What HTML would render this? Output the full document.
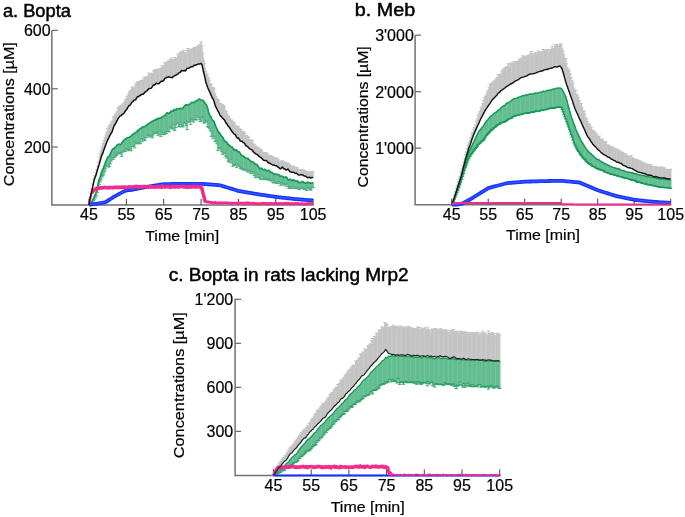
<!DOCTYPE html>
<html><head><meta charset="utf-8"><style>
html,body{margin:0;padding:0;background:#fff;width:685px;height:517px;overflow:hidden}
svg{display:block;will-change:transform}
text{fill:#000}
</style></head><body>
<svg width="685" height="517" viewBox="0 0 685 517" font-family='"Liberation Sans", sans-serif'>
<rect width="685" height="517" fill="#fff"/>
<path d="M51.85,30.4 L51.85,204.9 L313.5,204.9" fill="none" stroke="#727272" stroke-width="1.5"/>
<line x1="51.85" y1="30.4" x2="57.85" y2="30.4" stroke="#727272" stroke-width="1.3"/>
<line x1="51.85" y1="88.73" x2="57.85" y2="88.73" stroke="#727272" stroke-width="1.3"/>
<line x1="51.85" y1="147.07" x2="57.85" y2="147.07" stroke="#727272" stroke-width="1.3"/>
<text x="50.6" y="36.3" text-anchor="end" font-size="16" stroke="#000" stroke-width="0.2">600</text>
<text x="50.6" y="94.63" text-anchor="end" font-size="16" stroke="#000" stroke-width="0.2">400</text>
<text x="50.6" y="152.97" text-anchor="end" font-size="16" stroke="#000" stroke-width="0.2">200</text>
<text x="89" y="220.3" text-anchor="middle" font-size="16" stroke="#000" stroke-width="0.2">45</text>
<text x="126.35" y="220.3" text-anchor="middle" font-size="16" stroke="#000" stroke-width="0.2">55</text>
<text x="163.7" y="220.3" text-anchor="middle" font-size="16" stroke="#000" stroke-width="0.2">65</text>
<text x="201.05" y="220.3" text-anchor="middle" font-size="16" stroke="#000" stroke-width="0.2">75</text>
<text x="238.4" y="220.3" text-anchor="middle" font-size="16" stroke="#000" stroke-width="0.2">85</text>
<text x="275.75" y="220.3" text-anchor="middle" font-size="16" stroke="#000" stroke-width="0.2">95</text>
<text x="313.1" y="220.3" text-anchor="middle" font-size="16" stroke="#000" stroke-width="0.2">105</text>
<path d="M89,205 89.93,198.92 90.87,194.97 91.8,191.15 92.73,186.94 93.67,182.19 94.6,178.51 95.54,176.42 96.47,173.47 97.4,169.87 98.34,167.08 99.27,164.14 100.2,160.81 101.14,157.39 102.07,154.57 103.01,152.61 103.94,149.64 104.87,146.98 105.81,144.7 106.74,142.22 107.67,139.96 108.61,138.07 109.54,136.07 110.48,134.24 111.41,133.06 112.34,131.1 113.28,127.93 114.21,125.5 115.14,124.31 116.08,122.73 117.01,120.54 117.95,118.83 118.88,117.59 119.81,116.11 120.75,115.86 121.68,115.12 122.62,114 123.55,113.77 124.48,112.42 125.42,110.76 126.35,109.7 127.28,108.45 128.22,106.69 129.15,105.49 130.09,105.31 131.02,103.47 131.95,102.13 132.89,101.73 133.82,100.17 134.75,100.04 135.69,99.75 136.62,97.67 137.56,96.64 138.49,96.64 139.42,95.85 140.36,95.26 141.29,94.75 142.22,94.22 143.16,94.29 144.09,93.18 145.03,92.07 145.96,91.52 146.89,90.83 147.83,89.86 148.76,88.87 149.69,88.49 150.63,88.26 151.56,87.98 152.5,86.33 153.43,84.91 154.36,85.13 155.3,84.15 156.23,83.23 157.16,83.52 158.1,83.73 159.03,83.55 159.97,82.44 160.9,81.54 161.83,81.06 162.77,81.26 163.7,80.46 164.63,78.73 165.57,78.07 166.5,77.5 167.44,77.18 168.37,76.86 169.3,77.02 170.24,77.31 171.17,77.62 172.1,77.71 173.04,76.77 173.97,76.22 174.91,75.51 175.84,75.1 176.77,74.73 177.71,74.1 178.64,73.15 179.57,72.61 180.51,72 181.44,70.6 182.38,70.69 183.31,70.67 184.24,70.36 185.18,71.07 186.11,70.11 187.04,68.39 187.98,68.24 188.91,68.16 189.84,67.53 190.78,66.84 191.71,66.83 192.65,66.78 193.58,65.77 194.51,65.22 195.45,65.35 196.38,64.64 197.31,64.4 198.25,64.06 199.18,63.9 200.12,63.95 201.05,63.42 201.98,64.69 202.92,69.1 203.85,73.25 204.78,76.81 205.72,81.7 206.65,84.55 207.59,87.2 208.52,89.44 209.45,91.31 210.39,93.59 211.32,95.62 212.25,97.97 213.19,99.02 214.12,101.53 215.06,104.99 215.99,107.12 216.92,108.99 217.86,110.97 218.79,112.44 219.72,114.52 220.66,116.14 221.59,117.03 222.53,118.15 223.46,119.02 224.39,119.87 225.33,121.68 226.26,123.28 227.19,124.46 228.13,126.06 229.06,127.02 230,128.39 230.93,129.8 231.86,131.24 232.8,132.55 233.73,133.61 234.66,134.3 235.6,135.12 236.53,137.29 237.47,138.26 238.4,138.05 239.33,139.32 240.27,141.12 241.2,141.2 242.13,141.33 243.07,142.44 244,142.63 244.94,144.03 245.87,145.59 246.8,146.19 247.74,146.76 248.67,147.74 249.6,148.63 250.54,149.19 251.47,149.75 252.41,150.09 253.34,151.83 254.27,152.87 255.21,153.19 256.14,154.11 257.07,154.55 258.01,155.09 258.94,156.24 259.88,157.04 260.81,157.41 261.74,158.21 262.68,159.37 263.61,160.23 264.54,160.49 265.48,160.55 266.41,160.38 267.35,161.51 268.28,162.94 269.21,162.99 270.15,163.28 271.08,164.09 272.01,164.63 272.95,165.1 273.88,164.99 274.82,165.62 275.75,165.68 276.68,165.8 277.62,166.87 278.55,167.25 279.49,168.19 280.42,168.82 281.35,167.99 282.29,167.09 283.22,168.24 284.15,168.88 285.09,168.92 286.02,170.04 286.95,169.77 287.89,168.98 288.82,170.16 289.76,171.47 290.69,171.73 291.62,172.18 292.56,172.38 293.49,172.18 294.42,172.85 295.36,173.4 296.29,173.09 297.23,173.94 298.16,174.81 299.09,175 300.03,174.84 300.96,174.62 301.89,174.83 302.83,174.95 303.76,175.66 304.7,175.94 305.63,176.24 306.56,176.92 307.5,177.82 308.43,177.37 309.37,177.15 310.3,177.9 311.23,177.78 312.17,177.47 313.1,177.53 313.1,171.8 312.17,171.74 311.23,172.37 310.3,171.74 309.37,172.45 308.43,172.49 307.5,172.9 306.56,171.51 305.63,171.29 304.7,170.52 303.76,170.73 302.83,170.05 301.89,169.45 300.96,169.74 300.03,169.74 299.09,169.95 298.16,169.84 297.23,167.85 296.29,167.38 295.36,168.32 294.42,167.43 293.49,166.01 292.56,167.15 291.62,166.21 290.69,166.07 289.76,164.98 288.82,164.01 287.89,162.84 286.95,163.99 286.02,163.72 285.09,162.21 284.15,162.42 283.22,161.33 282.29,160.7 281.35,161.24 280.42,161.67 279.49,161.52 278.55,159.34 277.62,159.86 276.68,157.95 275.75,158.67 274.82,158.32 273.88,157.23 272.95,158.1 272.01,156.22 271.08,156.15 270.15,156 269.21,155.57 268.28,155.16 267.35,154.07 266.41,152.86 265.48,152.84 264.54,153.06 263.61,152.88 262.68,152.33 261.74,150.46 260.81,149.29 259.88,150.16 258.94,148.21 258.01,147.78 257.07,147.93 256.14,146.53 255.21,145.99 254.27,144.33 253.34,144.02 252.41,140.46 251.47,141.93 250.54,140.58 249.6,139.78 248.67,137.51 247.74,136.81 246.8,135.54 245.87,136.98 244.94,133.57 244,131.74 243.07,132.64 242.13,131.58 241.2,130.25 240.27,129.45 239.33,128.64 238.4,126.75 237.47,127.13 236.53,126.93 235.6,125.53 234.66,122.69 233.73,122.66 232.8,121.99 231.86,120.01 230.93,120.29 230,118.81 229.06,116.76 228.13,115.83 227.19,113.82 226.26,111.75 225.33,110.48 224.39,106.93 223.46,105.74 222.53,104.68 221.59,105.58 220.66,103.69 219.72,103.31 218.79,100.59 217.86,99.24 216.92,98.39 215.99,96.39 215.06,93.64 214.12,88.72 213.19,87.52 212.25,87.49 211.32,84.85 210.39,83.78 209.45,80.17 208.52,77.47 207.59,74.91 206.65,73.89 205.72,71.23 204.78,63.37 203.85,60.45 202.92,53.03 201.98,45.88 201.05,41.93 200.12,44.54 199.18,45.71 198.25,45.98 197.31,46.93 196.38,47.51 195.45,47.46 194.51,47.42 193.58,48.44 192.65,48.8 191.71,49.78 190.78,50.18 189.84,50.93 188.91,49.14 187.98,48.52 187.04,50.42 186.11,53.85 185.18,53.84 184.24,52.61 183.31,50.21 182.38,52 181.44,52.29 180.51,52.13 179.57,53.33 178.64,56.4 177.71,54.67 176.77,58.34 175.84,58.94 174.91,57.5 173.97,59.98 173.04,59.59 172.1,60.72 171.17,58.02 170.24,59.72 169.3,61.5 168.37,60.96 167.44,61.81 166.5,63.23 165.57,63.67 164.63,62.61 163.7,65.44 162.77,67.7 161.83,65.92 160.9,68.17 159.97,68.47 159.03,70.93 158.1,69.42 157.16,69.54 156.23,69.25 155.3,70.34 154.36,70.07 153.43,70.77 152.5,73.23 151.56,74.12 150.63,74 149.69,73.79 148.76,73.08 147.83,76.29 146.89,77.2 145.96,77.38 145.03,77.34 144.09,77.52 143.16,80.1 142.22,80.31 141.29,80.92 140.36,81.01 139.42,81.76 138.49,82.05 137.56,81.87 136.62,82.92 135.69,84.49 134.75,88.09 133.82,86.93 132.89,88.73 131.95,87.3 131.02,90.24 130.09,91.97 129.15,91.61 128.22,94.28 127.28,96.46 126.35,98.88 125.42,99.59 124.48,101.93 123.55,103.47 122.62,105.87 121.68,105.02 120.75,105.59 119.81,106.77 118.88,107.02 117.95,108.13 117.01,111.91 116.08,113.23 115.14,114.82 114.21,116.56 113.28,117.01 112.34,121.11 111.41,121.88 110.48,124.07 109.54,124.92 108.61,126.83 107.67,128.82 106.74,131.99 105.81,134.92 104.87,137.5 103.94,140.45 103.01,143.23 102.07,146.87 101.14,150.29 100.2,153.64 99.27,157.27 98.34,162.11 97.4,166.48 96.47,170.05 95.54,172.93 94.6,175.62 93.67,179.04 92.73,183.87 91.8,188.81 90.87,193.23 89.93,198.01 89,205Z" fill="#c4c4c4"/>
<path d="M89 205V205M89.93 198.92V198.01M90.87 194.97V193.23M91.8 191.15V188.81M92.73 186.94V183.87M93.67 182.19V179.04M94.6 178.51V175.62M95.54 176.42V172.93M96.47 173.47V170.05M97.4 169.87V166.48M98.34 167.08V162.11M99.27 164.14V157.27M100.2 160.81V153.64M101.14 157.39V150.29M102.07 154.57V146.87M103.01 152.61V143.23M103.94 149.64V140.45M104.87 146.98V137.5M105.81 144.7V134.92M106.74 142.22V131.99M107.67 139.96V128.82M108.61 138.07V126.83M109.54 136.07V124.92M110.48 134.24V124.07M111.41 133.06V121.88M112.34 131.1V121.11M113.28 127.93V117.01M114.21 125.5V116.56M115.14 124.31V114.82M116.08 122.73V113.23M117.01 120.54V111.91M117.95 118.83V108.13M118.88 117.59V107.02M119.81 116.11V106.77M120.75 115.86V105.59M121.68 115.12V105.02M122.62 114V105.87M123.55 113.77V103.47M124.48 112.42V101.93M125.42 110.76V99.59M126.35 109.7V98.88M127.28 108.45V96.46M128.22 106.69V94.28M129.15 105.49V91.61M130.09 105.31V91.97M131.02 103.47V90.24M131.95 102.13V87.3M132.89 101.73V88.73M133.82 100.17V86.93M134.75 100.04V88.09M135.69 99.75V84.49M136.62 97.67V82.92M137.56 96.64V81.87M138.49 96.64V82.05M139.42 95.85V81.76M140.36 95.26V81.01M141.29 94.75V80.92M142.22 94.22V80.31M143.16 94.29V80.1M144.09 93.18V77.52M145.03 92.07V77.34M145.96 91.52V77.38M146.89 90.83V77.2M147.83 89.86V76.29M148.76 88.87V73.08M149.69 88.49V73.79M150.63 88.26V74M151.56 87.98V74.12M152.5 86.33V73.23M153.43 84.91V70.77M154.36 85.13V70.07M155.3 84.15V70.34M156.23 83.23V69.25M157.16 83.52V69.54M158.1 83.73V69.42M159.03 83.55V70.93M159.97 82.44V68.47M160.9 81.54V68.17M161.83 81.06V65.92M162.77 81.26V67.7M163.7 80.46V65.44M164.63 78.73V62.61M165.57 78.07V63.67M166.5 77.5V63.23M167.44 77.18V61.81M168.37 76.86V60.96M169.3 77.02V61.5M170.24 77.31V59.72M171.17 77.62V58.02M172.1 77.71V60.72M173.04 76.77V59.59M173.97 76.22V59.98M174.91 75.51V57.5M175.84 75.1V58.94M176.77 74.73V58.34M177.71 74.1V54.67M178.64 73.15V56.4M179.57 72.61V53.33M180.51 72V52.13M181.44 70.6V52.29M182.38 70.69V52M183.31 70.67V50.21M184.24 70.36V52.61M185.18 71.07V53.84M186.11 70.11V53.85M187.04 68.39V50.42M187.98 68.24V48.52M188.91 68.16V49.14M189.84 67.53V50.93M190.78 66.84V50.18M191.71 66.83V49.78M192.65 66.78V48.8M193.58 65.77V48.44M194.51 65.22V47.42M195.45 65.35V47.46M196.38 64.64V47.51M197.31 64.4V46.93M198.25 64.06V45.98M199.18 63.9V45.71M200.12 63.95V44.54M201.05 63.42V41.93M201.98 64.69V45.88M202.92 69.1V53.03M203.85 73.25V60.45M204.78 76.81V63.37M205.72 81.7V71.23M206.65 84.55V73.89M207.59 87.2V74.91M208.52 89.44V77.47M209.45 91.31V80.17M210.39 93.59V83.78M211.32 95.62V84.85M212.25 97.97V87.49M213.19 99.02V87.52M214.12 101.53V88.72M215.06 104.99V93.64M215.99 107.12V96.39M216.92 108.99V98.39M217.86 110.97V99.24M218.79 112.44V100.59M219.72 114.52V103.31M220.66 116.14V103.69M221.59 117.03V105.58M222.53 118.15V104.68M223.46 119.02V105.74M224.39 119.87V106.93M225.33 121.68V110.48M226.26 123.28V111.75M227.19 124.46V113.82M228.13 126.06V115.83M229.06 127.02V116.76M230 128.39V118.81M230.93 129.8V120.29M231.86 131.24V120.01M232.8 132.55V121.99M233.73 133.61V122.66M234.66 134.3V122.69M235.6 135.12V125.53M236.53 137.29V126.93M237.47 138.26V127.13M238.4 138.05V126.75M239.33 139.32V128.64M240.27 141.12V129.45M241.2 141.2V130.25M242.13 141.33V131.58M243.07 142.44V132.64M244 142.63V131.74M244.94 144.03V133.57M245.87 145.59V136.98M246.8 146.19V135.54M247.74 146.76V136.81M248.67 147.74V137.51M249.6 148.63V139.78M250.54 149.19V140.58M251.47 149.75V141.93M252.41 150.09V140.46M253.34 151.83V144.02M254.27 152.87V144.33M255.21 153.19V145.99M256.14 154.11V146.53M257.07 154.55V147.93M258.01 155.09V147.78M258.94 156.24V148.21M259.88 157.04V150.16M260.81 157.41V149.29M261.74 158.21V150.46M262.68 159.37V152.33M263.61 160.23V152.88M264.54 160.49V153.06M265.48 160.55V152.84M266.41 160.38V152.86M267.35 161.51V154.07M268.28 162.94V155.16M269.21 162.99V155.57M270.15 163.28V156M271.08 164.09V156.15M272.01 164.63V156.22M272.95 165.1V158.1M273.88 164.99V157.23M274.82 165.62V158.32M275.75 165.68V158.67M276.68 165.8V157.95M277.62 166.87V159.86M278.55 167.25V159.34M279.49 168.19V161.52M280.42 168.82V161.67M281.35 167.99V161.24M282.29 167.09V160.7M283.22 168.24V161.33M284.15 168.88V162.42M285.09 168.92V162.21M286.02 170.04V163.72M286.95 169.77V163.99M287.89 168.98V162.84M288.82 170.16V164.01M289.76 171.47V164.98M290.69 171.73V166.07M291.62 172.18V166.21M292.56 172.38V167.15M293.49 172.18V166.01M294.42 172.85V167.43M295.36 173.4V168.32M296.29 173.09V167.38M297.23 173.94V167.85M298.16 174.81V169.84M299.09 175V169.95M300.03 174.84V169.74M300.96 174.62V169.74M301.89 174.83V169.45M302.83 174.95V170.05M303.76 175.66V170.73M304.7 175.94V170.52M305.63 176.24V171.29M306.56 176.92V171.51M307.5 177.82V172.9M308.43 177.37V172.49M309.37 177.15V172.45M310.3 177.9V171.74M311.23 177.78V172.37M312.17 177.47V171.74M313.1 177.53V171.8" stroke="#c4c4c4" stroke-width="1.0" fill="none"/>
<path d="M94.12 183.19V178.04M98.79 168.08V161.11M103.46 153.61V142.23M108.12 140.96V127.82M112.79 132.1V120.11M117.46 121.54V110.91M122.13 116.12V104.02M126.8 110.7V97.88M131.47 104.47V89.24M136.14 100.75V83.49M140.81 96.26V80.01M145.47 93.07V76.34M150.14 89.49V72.79M154.81 86.13V69.07M159.48 84.55V69.93M164.15 81.46V64.44M168.82 77.86V59.96M173.49 77.77V58.59M178.16 75.1V53.67M182.82 71.69V51M187.49 69.39V49.42M192.16 67.83V48.78M196.83 65.64V46.51M201.5 64.42V40.93M206.17 82.7V70.23M210.84 94.59V82.78M215.51 105.99V92.64M220.17 115.52V102.31M224.84 120.87V105.93M229.51 128.02V115.76M234.18 134.61V121.66M238.85 139.05V125.75M243.52 143.44V131.64M248.19 147.76V135.81M252.86 151.09V139.46M257.52 155.55V146.93M262.19 159.21V149.46M266.86 161.38V151.86M271.53 165.09V155.15M276.2 166.68V157.67M280.87 169.82V160.67M285.54 169.92V161.21M290.21 172.47V163.98M294.87 173.85V166.43M299.54 176V168.95M304.21 176.66V169.73M308.88 178.37V171.49M313.55 178.53V170.8" stroke="#cecece" stroke-width="0.7" fill="none"/>
<path d="M87.4 205h3.2M88.33 198.01h3.2M89.27 193.23h3.2M90.2 188.81h3.2M91.14 183.87h3.2M92.07 179.04h3.2M93 175.62h3.2M93.94 172.93h3.2M94.87 170.05h3.2M95.8 166.48h3.2M96.74 162.11h3.2M97.67 157.27h3.2M98.61 153.64h3.2M99.54 150.29h3.2M100.47 146.87h3.2M101.41 143.23h3.2M102.34 140.45h3.2M103.27 137.5h3.2M104.21 134.92h3.2M105.14 131.99h3.2M106.08 128.82h3.2M107.01 126.83h3.2M107.94 124.92h3.2M108.88 124.07h3.2M109.81 121.88h3.2M110.74 121.11h3.2M111.68 117.01h3.2M112.61 116.56h3.2M113.55 114.82h3.2M114.48 113.23h3.2M115.41 111.91h3.2M116.35 108.13h3.2M117.28 107.02h3.2M118.21 106.77h3.2M119.15 105.59h3.2M120.08 105.02h3.2M121.02 105.87h3.2M121.95 103.47h3.2M122.88 101.93h3.2M123.82 99.59h3.2M124.75 98.88h3.2M125.68 96.46h3.2M126.62 94.28h3.2M127.55 91.61h3.2M128.49 91.97h3.2M129.42 90.24h3.2M130.35 87.3h3.2M131.29 88.73h3.2M132.22 86.93h3.2M133.15 88.09h3.2M134.09 84.49h3.2M135.02 82.92h3.2M135.96 81.87h3.2M136.89 82.05h3.2M137.82 81.76h3.2M138.76 81.01h3.2M139.69 80.92h3.2M140.62 80.31h3.2M141.56 80.1h3.2M142.49 77.52h3.2M143.43 77.34h3.2M144.36 77.38h3.2M145.29 77.2h3.2M146.23 76.29h3.2M147.16 73.08h3.2M148.09 73.79h3.2M149.03 74h3.2M149.96 74.12h3.2M150.9 73.23h3.2M151.83 70.77h3.2M152.76 70.07h3.2M153.7 70.34h3.2M154.63 69.25h3.2M155.56 69.54h3.2M156.5 69.42h3.2M157.43 70.93h3.2M158.37 68.47h3.2M159.3 68.17h3.2M160.23 65.92h3.2M161.17 67.7h3.2M162.1 65.44h3.2M163.03 62.61h3.2M163.97 63.67h3.2M164.9 63.23h3.2M165.84 61.81h3.2M166.77 60.96h3.2M167.7 61.5h3.2M168.64 59.72h3.2M169.57 58.02h3.2M170.5 60.72h3.2M171.44 59.59h3.2M172.37 59.98h3.2M173.31 57.5h3.2M174.24 58.94h3.2M175.17 58.34h3.2M176.11 54.67h3.2M177.04 56.4h3.2M177.97 53.33h3.2M178.91 52.13h3.2M179.84 52.29h3.2M180.78 52h3.2M181.71 50.21h3.2M182.64 52.61h3.2M183.58 53.84h3.2M184.51 53.85h3.2M185.44 50.42h3.2M186.38 48.52h3.2M187.31 49.14h3.2M188.25 50.93h3.2M189.18 50.18h3.2M190.11 49.78h3.2M191.05 48.8h3.2M191.98 48.44h3.2M192.91 47.42h3.2M193.85 47.46h3.2M194.78 47.51h3.2M195.72 46.93h3.2M196.65 45.98h3.2M197.58 45.71h3.2M198.52 44.54h3.2M199.45 41.93h3.2M200.38 45.88h3.2M201.32 53.03h3.2M202.25 60.45h3.2M203.19 63.37h3.2M204.12 71.23h3.2M205.05 73.89h3.2M205.99 74.91h3.2M206.92 77.47h3.2M207.85 80.17h3.2M208.79 83.78h3.2M209.72 84.85h3.2M210.66 87.49h3.2M211.59 87.52h3.2M212.52 88.72h3.2M213.46 93.64h3.2M214.39 96.39h3.2M215.32 98.39h3.2M216.26 99.24h3.2M217.19 100.59h3.2M218.12 103.31h3.2M219.06 103.69h3.2M219.99 105.58h3.2M220.93 104.68h3.2M221.86 105.74h3.2M222.79 106.93h3.2M223.73 110.48h3.2M224.66 111.75h3.2M225.59 113.82h3.2M226.53 115.83h3.2M227.46 116.76h3.2M228.4 118.81h3.2M229.33 120.29h3.2M230.26 120.01h3.2M231.2 121.99h3.2M232.13 122.66h3.2M233.06 122.69h3.2M234 125.53h3.2M234.93 126.93h3.2M235.87 127.13h3.2M236.8 126.75h3.2M237.73 128.64h3.2M238.67 129.45h3.2M239.6 130.25h3.2M240.53 131.58h3.2M241.47 132.64h3.2M242.4 131.74h3.2M243.34 133.57h3.2M244.27 136.98h3.2M245.2 135.54h3.2M246.14 136.81h3.2M247.07 137.51h3.2M248 139.78h3.2M248.94 140.58h3.2M249.87 141.93h3.2M250.81 140.46h3.2M251.74 144.02h3.2M252.67 144.33h3.2M253.61 145.99h3.2M254.54 146.53h3.2M255.47 147.93h3.2M256.41 147.78h3.2M257.34 148.21h3.2M258.28 150.16h3.2M259.21 149.29h3.2M260.14 150.46h3.2M261.08 152.33h3.2M262.01 152.88h3.2M262.94 153.06h3.2M263.88 152.84h3.2M264.81 152.86h3.2M265.75 154.07h3.2M266.68 155.16h3.2M267.61 155.57h3.2M268.55 156h3.2M269.48 156.15h3.2M270.41 156.22h3.2M271.35 158.1h3.2M272.28 157.23h3.2M273.22 158.32h3.2M274.15 158.67h3.2M275.08 157.95h3.2M276.02 159.86h3.2M276.95 159.34h3.2M277.88 161.52h3.2M278.82 161.67h3.2M279.75 161.24h3.2M280.69 160.7h3.2M281.62 161.33h3.2M282.55 162.42h3.2M283.49 162.21h3.2M284.42 163.72h3.2M285.35 163.99h3.2M286.29 162.84h3.2M287.22 164.01h3.2M288.16 164.98h3.2M289.09 166.07h3.2M290.02 166.21h3.2M290.96 167.15h3.2M291.89 166.01h3.2M292.82 167.43h3.2M293.76 168.32h3.2M294.69 167.38h3.2M295.63 167.85h3.2M296.56 169.84h3.2M297.49 169.95h3.2M298.43 169.74h3.2M299.36 169.74h3.2M300.29 169.45h3.2M301.23 170.05h3.2M302.16 170.73h3.2M303.1 170.52h3.2M304.03 171.29h3.2M304.96 171.51h3.2M305.9 172.9h3.2M306.83 172.49h3.2M307.76 172.45h3.2M308.7 171.74h3.2M309.63 172.37h3.2M310.57 171.74h3.2M311.5 171.8h3.2" stroke="#c4c4c4" stroke-width="1" fill="none"/>
<path d="M89,205.06 89.93,204.53 90.87,204.28 91.8,202.59 92.73,199.74 93.67,198.09 94.6,195.94 95.54,193.91 96.47,191.74 97.4,187.61 98.34,182.55 99.27,179.06 100.2,177.21 101.14,173.56 102.07,170.73 103.01,168.97 103.94,166.75 104.87,164.4 105.81,161.64 106.74,159.41 107.67,157.26 108.61,156.69 109.54,155.81 110.48,153.58 111.41,151.48 112.34,149.59 113.28,148.64 114.21,148.34 115.14,147.5 116.08,146.56 117.01,145.27 117.95,144.47 118.88,144.2 119.81,144.21 120.75,144.51 121.68,143.44 122.62,141.69 123.55,140.72 124.48,139.83 125.42,138.85 126.35,138.46 127.28,137.78 128.22,137.53 129.15,137.39 130.09,136.73 131.02,136.14 131.95,135.13 132.89,134.16 133.82,133.67 134.75,133.11 135.69,132.58 136.62,132.07 137.56,130.71 138.49,130.05 139.42,129.38 140.36,128.48 141.29,128.3 142.22,127.14 143.16,126.73 144.09,127.06 145.03,126.41 145.96,125.63 146.89,124.97 147.83,124.17 148.76,123.6 149.69,123.11 150.63,122.57 151.56,121.64 152.5,121.05 153.43,120.99 154.36,120.32 155.3,119.66 156.23,119.57 157.16,118.75 158.1,118.38 159.03,118.77 159.97,118.29 160.9,117.91 161.83,117.08 162.77,116.31 163.7,116.25 164.63,115.76 165.57,114.73 166.5,113.16 167.44,112.73 168.37,113.35 169.3,113.14 170.24,112.41 171.17,111.06 172.1,111.03 173.04,111.31 173.97,109.66 174.91,109.64 175.84,109.8 176.77,108.82 177.71,108.79 178.64,109.41 179.57,109.08 180.51,108.22 181.44,108.59 182.38,108.64 183.31,107.41 184.24,106.21 185.18,105.29 186.11,104.67 187.04,104.95 187.98,104.96 188.91,104.39 189.84,104.16 190.78,103.34 191.71,102.44 192.65,102.58 193.58,102.38 194.51,102.09 195.45,101.62 196.38,100.71 197.31,100.39 198.25,99.87 199.18,98.88 200.12,99.41 201.05,100.02 201.98,100.27 202.92,100.42 203.85,101.27 204.78,103.02 205.72,104.19 206.65,105.41 207.59,108.06 208.52,111.95 209.45,114.7 210.39,116.11 211.32,117.75 212.25,119.97 213.19,120.49 214.12,121.74 215.06,124.71 215.99,126.75 216.92,128.98 217.86,130.93 218.79,132.1 219.72,133.4 220.66,135.08 221.59,136.13 222.53,137.13 223.46,138.97 224.39,140.97 225.33,141.66 226.26,141.9 227.19,142.99 228.13,144.42 229.06,145.17 230,146.07 230.93,146.57 231.86,146.79 232.8,147.95 233.73,149.14 234.66,150.36 235.6,150.1 236.53,149.94 237.47,151.29 238.4,152.02 239.33,151.95 240.27,153.4 241.2,155.01 242.13,155.57 243.07,155.88 244,156.76 244.94,157.5 245.87,158.15 246.8,158.5 247.74,158.33 248.67,159.39 249.6,160.06 250.54,160.84 251.47,161.82 252.41,161.77 253.34,162.29 254.27,163.1 255.21,164.04 256.14,164.53 257.07,164.62 258.01,166.01 258.94,167.73 259.88,168.68 260.81,168.42 261.74,168.3 262.68,169.43 263.61,169.78 264.54,169.24 265.48,169.77 266.41,170.76 267.35,170.79 268.28,170.34 269.21,170.48 270.15,171.79 271.08,172.44 272.01,172.49 272.95,173.24 273.88,173.9 274.82,174.03 275.75,174.32 276.68,174.44 277.62,174.44 278.55,174.72 279.49,175.66 280.42,176.39 281.35,175.99 282.29,176.21 283.22,176.76 284.15,177.52 285.09,177.3 286.02,176.93 286.95,177.71 287.89,179.42 288.82,180.2 289.76,179.39 290.69,179.52 291.62,180.6 292.56,180.44 293.49,179.69 294.42,180.48 295.36,181.05 296.29,181.07 297.23,180.91 298.16,181.67 299.09,182.81 300.03,182.51 300.96,182.33 301.89,181.51 302.83,181.68 303.76,182.57 304.7,182.65 305.63,183.15 306.56,182.98 307.5,182.17 308.43,182.58 309.37,183.07 310.3,182.9 311.23,183.05 312.17,183.13 313.1,182.52 313.1,187.64 312.17,187.57 311.23,190.04 310.3,189.99 309.37,188.65 308.43,188.94 307.5,187.39 306.56,190.36 305.63,189.35 304.7,189.28 303.76,188.99 302.83,187.64 301.89,188.22 300.96,188.15 300.03,188.47 299.09,189.51 298.16,188.68 297.23,187.68 296.29,187.95 295.36,188.42 294.42,188.2 293.49,186.51 292.56,188.48 291.62,188.37 290.69,186.54 289.76,187.85 288.82,188.43 287.89,186.5 286.95,183.96 286.02,184.27 285.09,185.9 284.15,184.05 283.22,183.76 282.29,184.94 281.35,182.42 280.42,185.28 279.49,183.31 278.55,181.96 277.62,181.99 276.68,183.53 275.75,182.57 274.82,182.45 273.88,182.97 272.95,182.61 272.01,178.84 271.08,180.52 270.15,180.99 269.21,179.26 268.28,179.89 267.35,179.89 266.41,178.89 265.48,178.84 264.54,179.66 263.61,178.69 262.68,179.6 261.74,176 260.81,179.47 259.88,178.32 258.94,177.63 258.01,176.9 257.07,174.6 256.14,177.54 255.21,177.68 254.27,175.49 253.34,171.99 252.41,173.37 251.47,171.9 250.54,173.55 249.6,171.68 248.67,170.14 247.74,171.99 246.8,171.02 245.87,169.15 244.94,170.22 244,170.05 243.07,168.7 242.13,169.49 241.2,167.89 240.27,168.37 239.33,166.63 238.4,165.89 237.47,163.91 236.53,167.36 235.6,164.83 234.66,165.36 233.73,165.12 232.8,166.33 231.86,163.07 230.93,159.42 230,162.37 229.06,160.63 228.13,161.71 227.19,158.15 226.26,156.92 225.33,156.17 224.39,152.86 223.46,153.14 222.53,154.38 221.59,151.8 220.66,150.01 219.72,147.59 218.79,148.6 217.86,150.58 216.92,143.85 215.99,140.84 215.06,141.67 214.12,136.27 213.19,138.3 212.25,136.25 211.32,136.6 210.39,130.82 209.45,128.9 208.52,127.56 207.59,126.42 206.65,120.98 205.72,121.88 204.78,122.97 203.85,123 202.92,120.16 201.98,117.31 201.05,121.32 200.12,121.45 199.18,119.23 198.25,117.29 197.31,115.9 196.38,119.94 195.45,119.42 194.51,119.66 193.58,122.04 192.65,121 191.71,119.17 190.78,124.4 189.84,121.35 188.91,122.31 187.98,121.54 187.04,129.47 186.11,125.49 185.18,123.72 184.24,123 183.31,126.91 182.38,125.41 181.44,126.86 180.51,124.64 179.57,126.76 178.64,126.6 177.71,122.88 176.77,123.91 175.84,127.65 174.91,130.69 173.97,124.38 173.04,129.32 172.1,128.06 171.17,128.27 170.24,126.9 169.3,131.56 168.37,131.73 167.44,131.17 166.5,133.3 165.57,132.33 164.63,134.6 163.7,133.98 162.77,134.53 161.83,134.18 160.9,136.47 159.97,131.13 159.03,134.01 158.1,135.38 157.16,132.22 156.23,133.27 155.3,133.32 154.36,132.3 153.43,135.03 152.5,137.88 151.56,136.14 150.63,137.05 149.69,135.78 148.76,134.78 147.83,137.11 146.89,135.07 145.96,137.52 145.03,140.56 144.09,139.22 143.16,139.41 142.22,141.38 141.29,138.84 140.36,143.57 139.42,143.18 138.49,143.85 137.56,142.64 136.62,143.72 135.69,142.24 134.75,147.91 133.82,145.38 132.89,146.71 131.95,146.47 131.02,150.67 130.09,149.05 129.15,149.81 128.22,150.72 127.28,149.22 126.35,148.48 125.42,151.19 124.48,151.64 123.55,151.19 122.62,152.05 121.68,156.34 120.75,153.92 119.81,152.6 118.88,153.64 117.95,153.41 117.01,154.74 116.08,155.54 115.14,156.67 114.21,157.47 113.28,159.34 112.34,157.9 111.41,161.17 110.48,163.8 109.54,166.56 108.61,167.11 107.67,165.59 106.74,165.93 105.81,169.01 104.87,171.56 103.94,173.97 103.01,175.59 102.07,177.09 101.14,179.83 100.2,181.87 99.27,184.62 98.34,186.35 97.4,192.31 96.47,195.79 95.54,197.33 94.6,199.22 93.67,200.68 92.73,202.61 91.8,205.43 90.87,206.11 89.93,205.41 89,205.06Z" fill="#63be91"/>
<path d="M89 205.06V205.06M89.93 204.53V205.41M90.87 204.28V206.11M91.8 202.59V205.43M92.73 199.74V202.61M93.67 198.09V200.68M94.6 195.94V199.22M95.54 193.91V197.33M96.47 191.74V195.79M97.4 187.61V192.31M98.34 182.55V186.35M99.27 179.06V184.62M100.2 177.21V181.87M101.14 173.56V179.83M102.07 170.73V177.09M103.01 168.97V175.59M103.94 166.75V173.97M104.87 164.4V171.56M105.81 161.64V169.01M106.74 159.41V165.93M107.67 157.26V165.59M108.61 156.69V167.11M109.54 155.81V166.56M110.48 153.58V163.8M111.41 151.48V161.17M112.34 149.59V157.9M113.28 148.64V159.34M114.21 148.34V157.47M115.14 147.5V156.67M116.08 146.56V155.54M117.01 145.27V154.74M117.95 144.47V153.41M118.88 144.2V153.64M119.81 144.21V152.6M120.75 144.51V153.92M121.68 143.44V156.34M122.62 141.69V152.05M123.55 140.72V151.19M124.48 139.83V151.64M125.42 138.85V151.19M126.35 138.46V148.48M127.28 137.78V149.22M128.22 137.53V150.72M129.15 137.39V149.81M130.09 136.73V149.05M131.02 136.14V150.67M131.95 135.13V146.47M132.89 134.16V146.71M133.82 133.67V145.38M134.75 133.11V147.91M135.69 132.58V142.24M136.62 132.07V143.72M137.56 130.71V142.64M138.49 130.05V143.85M139.42 129.38V143.18M140.36 128.48V143.57M141.29 128.3V138.84M142.22 127.14V141.38M143.16 126.73V139.41M144.09 127.06V139.22M145.03 126.41V140.56M145.96 125.63V137.52M146.89 124.97V135.07M147.83 124.17V137.11M148.76 123.6V134.78M149.69 123.11V135.78M150.63 122.57V137.05M151.56 121.64V136.14M152.5 121.05V137.88M153.43 120.99V135.03M154.36 120.32V132.3M155.3 119.66V133.32M156.23 119.57V133.27M157.16 118.75V132.22M158.1 118.38V135.38M159.03 118.77V134.01M159.97 118.29V131.13M160.9 117.91V136.47M161.83 117.08V134.18M162.77 116.31V134.53M163.7 116.25V133.98M164.63 115.76V134.6M165.57 114.73V132.33M166.5 113.16V133.3M167.44 112.73V131.17M168.37 113.35V131.73M169.3 113.14V131.56M170.24 112.41V126.9M171.17 111.06V128.27M172.1 111.03V128.06M173.04 111.31V129.32M173.97 109.66V124.38M174.91 109.64V130.69M175.84 109.8V127.65M176.77 108.82V123.91M177.71 108.79V122.88M178.64 109.41V126.6M179.57 109.08V126.76M180.51 108.22V124.64M181.44 108.59V126.86M182.38 108.64V125.41M183.31 107.41V126.91M184.24 106.21V123M185.18 105.29V123.72M186.11 104.67V125.49M187.04 104.95V129.47M187.98 104.96V121.54M188.91 104.39V122.31M189.84 104.16V121.35M190.78 103.34V124.4M191.71 102.44V119.17M192.65 102.58V121M193.58 102.38V122.04M194.51 102.09V119.66M195.45 101.62V119.42M196.38 100.71V119.94M197.31 100.39V115.9M198.25 99.87V117.29M199.18 98.88V119.23M200.12 99.41V121.45M201.05 100.02V121.32M201.98 100.27V117.31M202.92 100.42V120.16M203.85 101.27V123M204.78 103.02V122.97M205.72 104.19V121.88M206.65 105.41V120.98M207.59 108.06V126.42M208.52 111.95V127.56M209.45 114.7V128.9M210.39 116.11V130.82M211.32 117.75V136.6M212.25 119.97V136.25M213.19 120.49V138.3M214.12 121.74V136.27M215.06 124.71V141.67M215.99 126.75V140.84M216.92 128.98V143.85M217.86 130.93V150.58M218.79 132.1V148.6M219.72 133.4V147.59M220.66 135.08V150.01M221.59 136.13V151.8M222.53 137.13V154.38M223.46 138.97V153.14M224.39 140.97V152.86M225.33 141.66V156.17M226.26 141.9V156.92M227.19 142.99V158.15M228.13 144.42V161.71M229.06 145.17V160.63M230 146.07V162.37M230.93 146.57V159.42M231.86 146.79V163.07M232.8 147.95V166.33M233.73 149.14V165.12M234.66 150.36V165.36M235.6 150.1V164.83M236.53 149.94V167.36M237.47 151.29V163.91M238.4 152.02V165.89M239.33 151.95V166.63M240.27 153.4V168.37M241.2 155.01V167.89M242.13 155.57V169.49M243.07 155.88V168.7M244 156.76V170.05M244.94 157.5V170.22M245.87 158.15V169.15M246.8 158.5V171.02M247.74 158.33V171.99M248.67 159.39V170.14M249.6 160.06V171.68M250.54 160.84V173.55M251.47 161.82V171.9M252.41 161.77V173.37M253.34 162.29V171.99M254.27 163.1V175.49M255.21 164.04V177.68M256.14 164.53V177.54M257.07 164.62V174.6M258.01 166.01V176.9M258.94 167.73V177.63M259.88 168.68V178.32M260.81 168.42V179.47M261.74 168.3V176M262.68 169.43V179.6M263.61 169.78V178.69M264.54 169.24V179.66M265.48 169.77V178.84M266.41 170.76V178.89M267.35 170.79V179.89M268.28 170.34V179.89M269.21 170.48V179.26M270.15 171.79V180.99M271.08 172.44V180.52M272.01 172.49V178.84M272.95 173.24V182.61M273.88 173.9V182.97M274.82 174.03V182.45M275.75 174.32V182.57M276.68 174.44V183.53M277.62 174.44V181.99M278.55 174.72V181.96M279.49 175.66V183.31M280.42 176.39V185.28M281.35 175.99V182.42M282.29 176.21V184.94M283.22 176.76V183.76M284.15 177.52V184.05M285.09 177.3V185.9M286.02 176.93V184.27M286.95 177.71V183.96M287.89 179.42V186.5M288.82 180.2V188.43M289.76 179.39V187.85M290.69 179.52V186.54M291.62 180.6V188.37M292.56 180.44V188.48M293.49 179.69V186.51M294.42 180.48V188.2M295.36 181.05V188.42M296.29 181.07V187.95M297.23 180.91V187.68M298.16 181.67V188.68M299.09 182.81V189.51M300.03 182.51V188.47M300.96 182.33V188.15M301.89 181.51V188.22M302.83 181.68V187.64M303.76 182.57V188.99M304.7 182.65V189.28M305.63 183.15V189.35M306.56 182.98V190.36M307.5 182.17V187.39M308.43 182.58V188.94M309.37 183.07V188.65M310.3 182.9V189.99M311.23 183.05V190.04M312.17 183.13V187.57M313.1 182.52V187.64" stroke="#63be91" stroke-width="1.0" fill="none"/>
<path d="M94.12 197.09V201.68M98.79 181.55V187.35M103.46 167.97V176.59M108.12 156.26V166.59M112.79 148.59V158.9M117.46 144.27V155.74M122.13 142.44V157.34M126.8 137.46V149.48M131.47 135.14V151.67M136.14 131.58V143.24M140.81 127.48V144.57M145.47 125.41V141.56M150.14 122.11V136.78M154.81 119.32V133.3M159.48 117.77V135.01M164.15 115.25V134.98M168.82 112.35V132.73M173.49 110.31V130.32M178.16 107.79V123.88M182.82 107.64V126.41M187.49 103.95V130.47M192.16 101.44V120.17M196.83 99.71V120.94M201.5 99.02V122.32M206.17 103.19V122.88M210.84 115.11V131.82M215.51 123.71V142.67M220.17 132.4V148.59M224.84 139.97V153.86M229.51 144.17V161.63M234.18 148.14V166.12M238.85 151.02V166.89M243.52 154.88V169.7M248.19 157.33V172.99M252.86 160.77V174.37M257.52 163.62V175.6M262.19 167.3V177M266.86 169.76V179.89M271.53 171.44V181.52M276.2 173.32V183.57M280.87 175.39V186.28M285.54 176.3V186.9M290.21 178.39V188.85M294.87 179.48V189.2M299.54 181.81V190.51M304.21 181.57V189.99M308.88 181.58V189.94M313.55 181.52V188.64" stroke="#7cc6a1" stroke-width="0.7" fill="none"/>
<path d="M87.4 205.06h3.2M88.33 205.41h3.2M89.27 206.11h3.2M90.2 205.43h3.2M91.14 202.61h3.2M92.07 200.68h3.2M93 199.22h3.2M93.94 197.33h3.2M94.87 195.79h3.2M95.8 192.31h3.2M96.74 186.35h3.2M97.67 184.62h3.2M98.61 181.87h3.2M99.54 179.83h3.2M100.47 177.09h3.2M101.41 175.59h3.2M102.34 173.97h3.2M103.27 171.56h3.2M104.21 169.01h3.2M105.14 165.93h3.2M106.08 165.59h3.2M107.01 167.11h3.2M107.94 166.56h3.2M108.88 163.8h3.2M109.81 161.17h3.2M110.74 157.9h3.2M111.68 159.34h3.2M112.61 157.47h3.2M113.55 156.67h3.2M114.48 155.54h3.2M115.41 154.74h3.2M116.35 153.41h3.2M117.28 153.64h3.2M118.21 152.6h3.2M119.15 153.92h3.2M120.08 156.34h3.2M121.02 152.05h3.2M121.95 151.19h3.2M122.88 151.64h3.2M123.82 151.19h3.2M124.75 148.48h3.2M125.68 149.22h3.2M126.62 150.72h3.2M127.55 149.81h3.2M128.49 149.05h3.2M129.42 150.67h3.2M130.35 146.47h3.2M131.29 146.71h3.2M132.22 145.38h3.2M133.15 147.91h3.2M134.09 142.24h3.2M135.02 143.72h3.2M135.96 142.64h3.2M136.89 143.85h3.2M137.82 143.18h3.2M138.76 143.57h3.2M139.69 138.84h3.2M140.62 141.38h3.2M141.56 139.41h3.2M142.49 139.22h3.2M143.43 140.56h3.2M144.36 137.52h3.2M145.29 135.07h3.2M146.23 137.11h3.2M147.16 134.78h3.2M148.09 135.78h3.2M149.03 137.05h3.2M149.96 136.14h3.2M150.9 137.88h3.2M151.83 135.03h3.2M152.76 132.3h3.2M153.7 133.32h3.2M154.63 133.27h3.2M155.56 132.22h3.2M156.5 135.38h3.2M157.43 134.01h3.2M158.37 131.13h3.2M159.3 136.47h3.2M160.23 134.18h3.2M161.17 134.53h3.2M162.1 133.98h3.2M163.03 134.6h3.2M163.97 132.33h3.2M164.9 133.3h3.2M165.84 131.17h3.2M166.77 131.73h3.2M167.7 131.56h3.2M168.64 126.9h3.2M169.57 128.27h3.2M170.5 128.06h3.2M171.44 129.32h3.2M172.37 124.38h3.2M173.31 130.69h3.2M174.24 127.65h3.2M175.17 123.91h3.2M176.11 122.88h3.2M177.04 126.6h3.2M177.97 126.76h3.2M178.91 124.64h3.2M179.84 126.86h3.2M180.78 125.41h3.2M181.71 126.91h3.2M182.64 123h3.2M183.58 123.72h3.2M184.51 125.49h3.2M185.44 129.47h3.2M186.38 121.54h3.2M187.31 122.31h3.2M188.25 121.35h3.2M189.18 124.4h3.2M190.11 119.17h3.2M191.05 121h3.2M191.98 122.04h3.2M192.91 119.66h3.2M193.85 119.42h3.2M194.78 119.94h3.2M195.72 115.9h3.2M196.65 117.29h3.2M197.58 119.23h3.2M198.52 121.45h3.2M199.45 121.32h3.2M200.38 117.31h3.2M201.32 120.16h3.2M202.25 123h3.2M203.19 122.97h3.2M204.12 121.88h3.2M205.05 120.98h3.2M205.99 126.42h3.2M206.92 127.56h3.2M207.85 128.9h3.2M208.79 130.82h3.2M209.72 136.6h3.2M210.66 136.25h3.2M211.59 138.3h3.2M212.52 136.27h3.2M213.46 141.67h3.2M214.39 140.84h3.2M215.32 143.85h3.2M216.26 150.58h3.2M217.19 148.6h3.2M218.12 147.59h3.2M219.06 150.01h3.2M219.99 151.8h3.2M220.93 154.38h3.2M221.86 153.14h3.2M222.79 152.86h3.2M223.73 156.17h3.2M224.66 156.92h3.2M225.59 158.15h3.2M226.53 161.71h3.2M227.46 160.63h3.2M228.4 162.37h3.2M229.33 159.42h3.2M230.26 163.07h3.2M231.2 166.33h3.2M232.13 165.12h3.2M233.06 165.36h3.2M234 164.83h3.2M234.93 167.36h3.2M235.87 163.91h3.2M236.8 165.89h3.2M237.73 166.63h3.2M238.67 168.37h3.2M239.6 167.89h3.2M240.53 169.49h3.2M241.47 168.7h3.2M242.4 170.05h3.2M243.34 170.22h3.2M244.27 169.15h3.2M245.2 171.02h3.2M246.14 171.99h3.2M247.07 170.14h3.2M248 171.68h3.2M248.94 173.55h3.2M249.87 171.9h3.2M250.81 173.37h3.2M251.74 171.99h3.2M252.67 175.49h3.2M253.61 177.68h3.2M254.54 177.54h3.2M255.47 174.6h3.2M256.41 176.9h3.2M257.34 177.63h3.2M258.28 178.32h3.2M259.21 179.47h3.2M260.14 176h3.2M261.08 179.6h3.2M262.01 178.69h3.2M262.94 179.66h3.2M263.88 178.84h3.2M264.81 178.89h3.2M265.75 179.89h3.2M266.68 179.89h3.2M267.61 179.26h3.2M268.55 180.99h3.2M269.48 180.52h3.2M270.41 178.84h3.2M271.35 182.61h3.2M272.28 182.97h3.2M273.22 182.45h3.2M274.15 182.57h3.2M275.08 183.53h3.2M276.02 181.99h3.2M276.95 181.96h3.2M277.88 183.31h3.2M278.82 185.28h3.2M279.75 182.42h3.2M280.69 184.94h3.2M281.62 183.76h3.2M282.55 184.05h3.2M283.49 185.9h3.2M284.42 184.27h3.2M285.35 183.96h3.2M286.29 186.5h3.2M287.22 188.43h3.2M288.16 187.85h3.2M289.09 186.54h3.2M290.02 188.37h3.2M290.96 188.48h3.2M291.89 186.51h3.2M292.82 188.2h3.2M293.76 188.42h3.2M294.69 187.95h3.2M295.63 187.68h3.2M296.56 188.68h3.2M297.49 189.51h3.2M298.43 188.47h3.2M299.36 188.15h3.2M300.29 188.22h3.2M301.23 187.64h3.2M302.16 188.99h3.2M303.1 189.28h3.2M304.03 189.35h3.2M304.96 190.36h3.2M305.9 187.39h3.2M306.83 188.94h3.2M307.76 188.65h3.2M308.7 189.99h3.2M309.63 190.04h3.2M310.57 187.57h3.2M311.5 187.64h3.2" stroke="#4aae7d" stroke-width="1" fill="none"/>
<path d="M89,205.06 89.93,204.53 90.87,204.28 91.8,202.59 92.73,199.74 93.67,198.09 94.6,195.94 95.54,193.91 96.47,191.74 97.4,187.61 98.34,182.55 99.27,179.06 100.2,177.21 101.14,173.56 102.07,170.73 103.01,168.97 103.94,166.75 104.87,164.4 105.81,161.64 106.74,159.41 107.67,157.26 108.61,156.69 109.54,155.81 110.48,153.58 111.41,151.48 112.34,149.59 113.28,148.64 114.21,148.34 115.14,147.5 116.08,146.56 117.01,145.27 117.95,144.47 118.88,144.2 119.81,144.21 120.75,144.51 121.68,143.44 122.62,141.69 123.55,140.72 124.48,139.83 125.42,138.85 126.35,138.46 127.28,137.78 128.22,137.53 129.15,137.39 130.09,136.73 131.02,136.14 131.95,135.13 132.89,134.16 133.82,133.67 134.75,133.11 135.69,132.58 136.62,132.07 137.56,130.71 138.49,130.05 139.42,129.38 140.36,128.48 141.29,128.3 142.22,127.14 143.16,126.73 144.09,127.06 145.03,126.41 145.96,125.63 146.89,124.97 147.83,124.17 148.76,123.6 149.69,123.11 150.63,122.57 151.56,121.64 152.5,121.05 153.43,120.99 154.36,120.32 155.3,119.66 156.23,119.57 157.16,118.75 158.1,118.38 159.03,118.77 159.97,118.29 160.9,117.91 161.83,117.08 162.77,116.31 163.7,116.25 164.63,115.76 165.57,114.73 166.5,113.16 167.44,112.73 168.37,113.35 169.3,113.14 170.24,112.41 171.17,111.06 172.1,111.03 173.04,111.31 173.97,109.66 174.91,109.64 175.84,109.8 176.77,108.82 177.71,108.79 178.64,109.41 179.57,109.08 180.51,108.22 181.44,108.59 182.38,108.64 183.31,107.41 184.24,106.21 185.18,105.29 186.11,104.67 187.04,104.95 187.98,104.96 188.91,104.39 189.84,104.16 190.78,103.34 191.71,102.44 192.65,102.58 193.58,102.38 194.51,102.09 195.45,101.62 196.38,100.71 197.31,100.39 198.25,99.87 199.18,98.88 200.12,99.41 201.05,100.02 201.98,100.27 202.92,100.42 203.85,101.27 204.78,103.02 205.72,104.19 206.65,105.41 207.59,108.06 208.52,111.95 209.45,114.7 210.39,116.11 211.32,117.75 212.25,119.97 213.19,120.49 214.12,121.74 215.06,124.71 215.99,126.75 216.92,128.98 217.86,130.93 218.79,132.1 219.72,133.4 220.66,135.08 221.59,136.13 222.53,137.13 223.46,138.97 224.39,140.97 225.33,141.66 226.26,141.9 227.19,142.99 228.13,144.42 229.06,145.17 230,146.07 230.93,146.57 231.86,146.79 232.8,147.95 233.73,149.14 234.66,150.36 235.6,150.1 236.53,149.94 237.47,151.29 238.4,152.02 239.33,151.95 240.27,153.4 241.2,155.01 242.13,155.57 243.07,155.88 244,156.76 244.94,157.5 245.87,158.15 246.8,158.5 247.74,158.33 248.67,159.39 249.6,160.06 250.54,160.84 251.47,161.82 252.41,161.77 253.34,162.29 254.27,163.1 255.21,164.04 256.14,164.53 257.07,164.62 258.01,166.01 258.94,167.73 259.88,168.68 260.81,168.42 261.74,168.3 262.68,169.43 263.61,169.78 264.54,169.24 265.48,169.77 266.41,170.76 267.35,170.79 268.28,170.34 269.21,170.48 270.15,171.79 271.08,172.44 272.01,172.49 272.95,173.24 273.88,173.9 274.82,174.03 275.75,174.32 276.68,174.44 277.62,174.44 278.55,174.72 279.49,175.66 280.42,176.39 281.35,175.99 282.29,176.21 283.22,176.76 284.15,177.52 285.09,177.3 286.02,176.93 286.95,177.71 287.89,179.42 288.82,180.2 289.76,179.39 290.69,179.52 291.62,180.6 292.56,180.44 293.49,179.69 294.42,180.48 295.36,181.05 296.29,181.07 297.23,180.91 298.16,181.67 299.09,182.81 300.03,182.51 300.96,182.33 301.89,181.51 302.83,181.68 303.76,182.57 304.7,182.65 305.63,183.15 306.56,182.98 307.5,182.17 308.43,182.58 309.37,183.07 310.3,182.9 311.23,183.05 312.17,183.13 313.1,182.52" fill="none" stroke="#159a58" stroke-width="1.7" stroke-linejoin="round" stroke-opacity="1"/>
<line x1="89" y1="204.9" x2="89" y2="198.9" stroke="#444" stroke-width="1"/>
<line x1="126.35" y1="204.9" x2="126.35" y2="198.9" stroke="#444" stroke-width="1"/>
<line x1="163.7" y1="204.9" x2="163.7" y2="198.9" stroke="#444" stroke-width="1"/>
<line x1="201.05" y1="204.9" x2="201.05" y2="198.9" stroke="#444" stroke-width="1"/>
<line x1="238.4" y1="204.9" x2="238.4" y2="198.9" stroke="#444" stroke-width="1"/>
<line x1="275.75" y1="204.9" x2="275.75" y2="198.9" stroke="#444" stroke-width="1"/>
<line x1="313.1" y1="204.9" x2="313.1" y2="198.9" stroke="#444" stroke-width="1"/>
<path d="M89,204.3 89.93,204.25 90.87,204.21 91.8,204.16 92.73,204.11 93.67,204.07 94.6,204.02 95.54,203.93 96.47,203.8 97.4,203.68 98.34,203.54 99.27,203.38 100.2,203.21 101.14,203.05 102.07,202.88 103.01,202.72 103.94,202.56 104.87,202.39 105.81,202.03 106.74,201.42 107.67,200.81 108.61,200.2 109.54,199.59 110.48,198.98 111.41,198.37 112.34,197.76 113.28,197.2 114.21,196.69 115.14,196.19 116.08,195.68 117.01,195.18 117.95,194.67 118.88,194.17 119.81,193.66 120.75,193.16 121.68,192.67 122.62,192.18 123.55,191.69 124.48,191.2 125.42,190.71 126.35,190.37 127.28,190.27 128.22,190.18 129.15,190.08 130.09,189.99 131.02,189.9 131.95,189.8 132.89,189.62 133.82,189.44 134.75,189.25 135.69,189.06 136.62,188.88 137.56,188.69 138.49,188.5 139.42,188.32 140.36,188.13 141.29,187.94 142.22,187.76 143.16,187.57 144.09,187.38 145.03,187.2 145.96,187.04 146.89,186.89 147.83,186.73 148.76,186.58 149.69,186.42 150.63,186.27 151.56,186.11 152.5,185.96 153.43,185.8 154.36,185.65 155.3,185.49 156.23,185.34 157.16,185.18 158.1,185.03 159.03,184.87 159.97,184.72 160.9,184.56 161.83,184.41 162.77,184.25 163.7,184.1 164.63,184.09 165.57,184.08 166.5,184.07 167.44,184.06 168.37,184.05 169.3,184.04 170.24,184.03 171.17,184.02 172.1,184.01 173.04,184 173.97,183.99 174.91,183.98 175.84,183.97 176.77,183.96 177.71,183.95 178.64,183.94 179.57,183.93 180.51,183.92 181.44,183.91 182.38,183.9 183.31,183.9 184.24,183.89 185.18,183.89 186.11,183.88 187.04,183.88 187.98,183.87 188.91,183.87 189.84,183.86 190.78,183.86 191.71,183.85 192.65,183.85 193.58,183.84 194.51,183.84 195.45,183.83 196.38,183.83 197.31,183.82 198.25,183.82 199.18,183.81 200.12,183.81 201.05,183.8 201.98,183.87 202.92,183.94 203.85,184.01 204.78,184.08 205.72,184.15 206.65,184.22 207.59,184.29 208.52,184.36 209.45,184.43 210.39,184.5 211.32,184.57 212.25,184.64 213.19,184.71 214.12,184.78 215.06,184.85 215.99,184.92 216.92,184.99 217.86,185.06 218.79,185.13 219.72,185.21 220.66,185.49 221.59,185.78 222.53,186.06 223.46,186.35 224.39,186.63 225.33,186.92 226.26,187.2 227.19,187.48 228.13,187.77 229.06,188.05 230,188.34 230.93,188.62 231.86,188.91 232.8,189.19 233.73,189.48 234.66,189.76 235.6,190.05 236.53,190.33 237.47,190.62 238.4,190.9 239.33,191.06 240.27,191.22 241.2,191.38 242.13,191.54 243.07,191.7 244,191.86 244.94,192.02 245.87,192.19 246.8,192.35 247.74,192.51 248.67,192.67 249.6,192.83 250.54,192.99 251.47,193.15 252.41,193.31 253.34,193.47 254.27,193.63 255.21,193.79 256.14,193.95 257.07,194.11 258.01,194.25 258.94,194.39 259.88,194.53 260.81,194.67 261.74,194.81 262.68,194.95 263.61,195.08 264.54,195.22 265.48,195.36 266.41,195.5 267.35,195.64 268.28,195.78 269.21,195.92 270.15,196.06 271.08,196.2 272.01,196.34 272.95,196.48 273.88,196.61 274.82,196.75 275.75,196.89 276.68,197 277.62,197.11 278.55,197.21 279.49,197.32 280.42,197.42 281.35,197.53 282.29,197.63 283.22,197.74 284.15,197.84 285.09,197.95 286.02,198.05 286.95,198.16 287.89,198.26 288.82,198.37 289.76,198.48 290.69,198.58 291.62,198.69 292.56,198.79 293.49,198.9 294.42,199 295.36,199.08 296.29,199.15 297.23,199.22 298.16,199.3 299.09,199.37 300.03,199.44 300.96,199.52 301.89,199.59 302.83,199.66 303.76,199.74 304.7,199.81 305.63,199.88 306.56,199.96 307.5,200.03 308.43,200.1 309.37,200.18 310.3,200.25 311.23,200.32 312.17,200.4 313.1,200.47" fill="none" stroke="#1434ff" stroke-width="3.8" stroke-linejoin="round" stroke-opacity="1"/>
<path d="M89,204.3 89.93,204.25 90.87,204.21 91.8,204.16 92.73,204.11 93.67,204.07 94.6,204.02 95.54,203.93 96.47,203.8 97.4,203.68 98.34,203.54 99.27,203.38 100.2,203.21 101.14,203.05 102.07,202.88 103.01,202.72 103.94,202.56 104.87,202.39 105.81,202.03 106.74,201.42 107.67,200.81 108.61,200.2 109.54,199.59 110.48,198.98 111.41,198.37 112.34,197.76 113.28,197.2 114.21,196.69 115.14,196.19 116.08,195.68 117.01,195.18 117.95,194.67 118.88,194.17 119.81,193.66 120.75,193.16 121.68,192.67 122.62,192.18 123.55,191.69 124.48,191.2 125.42,190.71 126.35,190.37 127.28,190.27 128.22,190.18 129.15,190.08 130.09,189.99 131.02,189.9 131.95,189.8 132.89,189.62 133.82,189.44 134.75,189.25 135.69,189.06 136.62,188.88 137.56,188.69 138.49,188.5 139.42,188.32 140.36,188.13 141.29,187.94 142.22,187.76 143.16,187.57 144.09,187.38 145.03,187.2 145.96,187.04 146.89,186.89 147.83,186.73 148.76,186.58 149.69,186.42 150.63,186.27 151.56,186.11 152.5,185.96 153.43,185.8 154.36,185.65 155.3,185.49 156.23,185.34 157.16,185.18 158.1,185.03 159.03,184.87 159.97,184.72 160.9,184.56 161.83,184.41 162.77,184.25 163.7,184.1 164.63,184.09 165.57,184.08 166.5,184.07 167.44,184.06 168.37,184.05 169.3,184.04 170.24,184.03 171.17,184.02 172.1,184.01 173.04,184 173.97,183.99 174.91,183.98 175.84,183.97 176.77,183.96 177.71,183.95 178.64,183.94 179.57,183.93 180.51,183.92 181.44,183.91 182.38,183.9 183.31,183.9 184.24,183.89 185.18,183.89 186.11,183.88 187.04,183.88 187.98,183.87 188.91,183.87 189.84,183.86 190.78,183.86 191.71,183.85 192.65,183.85 193.58,183.84 194.51,183.84 195.45,183.83 196.38,183.83 197.31,183.82 198.25,183.82 199.18,183.81 200.12,183.81 201.05,183.8 201.98,183.87 202.92,183.94 203.85,184.01 204.78,184.08 205.72,184.15 206.65,184.22 207.59,184.29 208.52,184.36 209.45,184.43 210.39,184.5 211.32,184.57 212.25,184.64 213.19,184.71 214.12,184.78 215.06,184.85 215.99,184.92 216.92,184.99 217.86,185.06 218.79,185.13 219.72,185.21 220.66,185.49 221.59,185.78 222.53,186.06 223.46,186.35 224.39,186.63 225.33,186.92 226.26,187.2 227.19,187.48 228.13,187.77 229.06,188.05 230,188.34 230.93,188.62 231.86,188.91 232.8,189.19 233.73,189.48 234.66,189.76 235.6,190.05 236.53,190.33 237.47,190.62 238.4,190.9 239.33,191.06 240.27,191.22 241.2,191.38 242.13,191.54 243.07,191.7 244,191.86 244.94,192.02 245.87,192.19 246.8,192.35 247.74,192.51 248.67,192.67 249.6,192.83 250.54,192.99 251.47,193.15 252.41,193.31 253.34,193.47 254.27,193.63 255.21,193.79 256.14,193.95 257.07,194.11 258.01,194.25 258.94,194.39 259.88,194.53 260.81,194.67 261.74,194.81 262.68,194.95 263.61,195.08 264.54,195.22 265.48,195.36 266.41,195.5 267.35,195.64 268.28,195.78 269.21,195.92 270.15,196.06 271.08,196.2 272.01,196.34 272.95,196.48 273.88,196.61 274.82,196.75 275.75,196.89 276.68,197 277.62,197.11 278.55,197.21 279.49,197.32 280.42,197.42 281.35,197.53 282.29,197.63 283.22,197.74 284.15,197.84 285.09,197.95 286.02,198.05 286.95,198.16 287.89,198.26 288.82,198.37 289.76,198.48 290.69,198.58 291.62,198.69 292.56,198.79 293.49,198.9 294.42,199 295.36,199.08 296.29,199.15 297.23,199.22 298.16,199.3 299.09,199.37 300.03,199.44 300.96,199.52 301.89,199.59 302.83,199.66 303.76,199.74 304.7,199.81 305.63,199.88 306.56,199.96 307.5,200.03 308.43,200.1 309.37,200.18 310.3,200.25 311.23,200.32 312.17,200.4 313.1,200.47" fill="none" stroke="#6a82ff" stroke-width="0.7" stroke-linejoin="round" stroke-opacity="0.8"/>
<path d="M89,205.17 89.93,200.07 90.87,196.09 91.8,192.97" fill="none" stroke="#f42b8f" stroke-width="2.0" stroke-linejoin="round" stroke-opacity="1"/>
<path d="M91.8,192.97 92.73,191.48 93.67,190.53 94.6,189.69 95.54,189.49 96.47,188.29 97.4,188.76 98.34,188.13 99.27,188.46 100.2,188.03 101.14,187.77 102.07,188 103.01,187.62 103.94,187.57 104.87,187.36 105.81,187.7 106.74,187.8 107.67,187.9 108.61,187.57 109.54,187.84 110.48,187.56 111.41,187.51 112.34,187.65 113.28,187.75 114.21,187.38 115.14,187.38 116.08,187.38 117.01,187.42 117.95,187.15 118.88,187.61 119.81,187.22 120.75,187.41 121.68,187.06 122.62,187.32 123.55,187.3 124.48,187.07 125.42,187.65 126.35,187.21 127.28,187.53 128.22,187.3 129.15,186.87 130.09,186.92 131.02,187.1 131.95,186.98 132.89,186.96 133.82,186.86 134.75,186.47 135.69,186.85 136.62,186.35 137.56,186.99 138.49,186.72 139.42,186.72 140.36,186.85 141.29,186.97 142.22,186.54 143.16,186.46 144.09,186.63 145.03,186.39 145.96,186.66 146.89,187.3 147.83,186.64 148.76,187.06 149.69,186.56 150.63,186.97 151.56,186.82 152.5,186.88 153.43,187.04 154.36,187.34 155.3,186.95 156.23,186.93 157.16,186.65 158.1,187.04 159.03,186.83 159.97,187.1 160.9,186.88 161.83,187.32 162.77,186.39 163.7,186.81 164.63,187.1 165.57,186.79 166.5,186.68 167.44,186.81 168.37,186.52 169.3,186.9 170.24,187.47 171.17,187.15 172.1,186.58 173.04,186.64 173.97,186.75 174.91,187.1 175.84,186.64 176.77,186.67 177.71,187.06 178.64,187.06 179.57,186.74 180.51,186.55 181.44,186.44 182.38,186.65 183.31,186.27 184.24,187.01 185.18,186.66 186.11,186.94 187.04,187.28 187.98,187.11 188.91,186.52 189.84,187.03 190.78,187.1 191.71,186.62 192.65,186.57 193.58,186.78 194.51,186.4 195.45,187.17 196.38,186.2 197.31,186.52 198.25,186.73 199.18,186.74 200.12,186.85 201.05,187.19 201.98,188.8 202.92,192.93 203.85,195.96 204.78,200.71 205.72,201.5" fill="none" stroke="#f42b8f" stroke-width="3.6" stroke-linejoin="round" stroke-opacity="1"/>
<path d="M204.78,200.71 205.72,201.5 206.65,201.95 207.59,202.13 208.52,201.96 209.45,202.1 210.39,202.53 211.32,202.48 212.25,202.29 213.19,203.02 214.12,203.15 215.06,202.26 215.99,202.75 216.92,203.34 217.86,202.96 218.79,202.86 219.72,202.79 220.66,202.74 221.59,202.85 222.53,202.8 223.46,203.15 224.39,202.89 225.33,202.9 226.26,202.73 227.19,203.04 228.13,202.85 229.06,203.04 230,203.36 230.93,203.2 231.86,203.25 232.8,203.23 233.73,203.17 234.66,203.13 235.6,203.1 236.53,203.38 237.47,202.93 238.4,203.55 239.33,203.23 240.27,203.05 241.2,203.13 242.13,203.09 243.07,203.31 244,203.1 244.94,203.58 245.87,203.11 246.8,202.75 247.74,203.14 248.67,202.83 249.6,203.34 250.54,203.62 251.47,203.53 252.41,203.04 253.34,203.2 254.27,203.84 255.21,203.49 256.14,203.42 257.07,203.69 258.01,204.05 258.94,203.77 259.88,203.49 260.81,203.55 261.74,203.62 262.68,203.32 263.61,203.22 264.54,203.5 265.48,203.26 266.41,203.49 267.35,203.54 268.28,204.11 269.21,203.32 270.15,203.51 271.08,203.5 272.01,203.66 272.95,203.82 273.88,203.44 274.82,203.36 275.75,203.17 276.68,203.35 277.62,203.72 278.55,203.6 279.49,203.35 280.42,203.51 281.35,203.62 282.29,203.74 283.22,203.47 284.15,203.56 285.09,203.17 286.02,203.35 286.95,204.04 287.89,203.1 288.82,203.56 289.76,203.71 290.69,203.56 291.62,203.46 292.56,203.65 293.49,203.66 294.42,203.65 295.36,203.2 296.29,203.64 297.23,203.46 298.16,203.54 299.09,203.74 300.03,203.84 300.96,203.91 301.89,203.56 302.83,203.92 303.76,203.99 304.7,203.98 305.63,204.04 306.56,203.66 307.5,203.65 308.43,203.9 309.37,203.36 310.3,203.75 311.23,203.57 312.17,203.61 313.1,203.26" fill="none" stroke="#f42b8f" stroke-width="2.8" stroke-linejoin="round" stroke-opacity="1"/>
<path d="M89,205 89.93,198.92 90.87,194.97 91.8,191.15 92.73,186.94 93.67,182.19 94.6,178.51 95.54,176.42 96.47,173.47 97.4,169.87 98.34,167.08 99.27,164.14 100.2,160.81 101.14,157.39 102.07,154.57 103.01,152.61 103.94,149.64 104.87,146.98 105.81,144.7 106.74,142.22 107.67,139.96 108.61,138.07 109.54,136.07 110.48,134.24 111.41,133.06 112.34,131.1 113.28,127.93 114.21,125.5 115.14,124.31 116.08,122.73 117.01,120.54 117.95,118.83 118.88,117.59 119.81,116.11 120.75,115.86 121.68,115.12 122.62,114 123.55,113.77 124.48,112.42 125.42,110.76 126.35,109.7 127.28,108.45 128.22,106.69 129.15,105.49 130.09,105.31 131.02,103.47 131.95,102.13 132.89,101.73 133.82,100.17 134.75,100.04 135.69,99.75 136.62,97.67 137.56,96.64 138.49,96.64 139.42,95.85 140.36,95.26 141.29,94.75 142.22,94.22 143.16,94.29 144.09,93.18 145.03,92.07 145.96,91.52 146.89,90.83 147.83,89.86 148.76,88.87 149.69,88.49 150.63,88.26 151.56,87.98 152.5,86.33 153.43,84.91 154.36,85.13 155.3,84.15 156.23,83.23 157.16,83.52 158.1,83.73 159.03,83.55 159.97,82.44 160.9,81.54 161.83,81.06 162.77,81.26 163.7,80.46 164.63,78.73 165.57,78.07 166.5,77.5 167.44,77.18 168.37,76.86 169.3,77.02 170.24,77.31 171.17,77.62 172.1,77.71 173.04,76.77 173.97,76.22 174.91,75.51 175.84,75.1 176.77,74.73 177.71,74.1 178.64,73.15 179.57,72.61 180.51,72 181.44,70.6 182.38,70.69 183.31,70.67 184.24,70.36 185.18,71.07 186.11,70.11 187.04,68.39 187.98,68.24 188.91,68.16 189.84,67.53 190.78,66.84 191.71,66.83 192.65,66.78 193.58,65.77 194.51,65.22 195.45,65.35 196.38,64.64 197.31,64.4 198.25,64.06 199.18,63.9 200.12,63.95 201.05,63.42 201.98,64.69 202.92,69.1 203.85,73.25 204.78,76.81 205.72,81.7 206.65,84.55 207.59,87.2 208.52,89.44 209.45,91.31 210.39,93.59 211.32,95.62 212.25,97.97 213.19,99.02 214.12,101.53 215.06,104.99 215.99,107.12 216.92,108.99 217.86,110.97 218.79,112.44 219.72,114.52 220.66,116.14 221.59,117.03 222.53,118.15 223.46,119.02 224.39,119.87 225.33,121.68 226.26,123.28 227.19,124.46 228.13,126.06 229.06,127.02 230,128.39 230.93,129.8 231.86,131.24 232.8,132.55 233.73,133.61 234.66,134.3 235.6,135.12 236.53,137.29 237.47,138.26 238.4,138.05 239.33,139.32 240.27,141.12 241.2,141.2 242.13,141.33 243.07,142.44 244,142.63 244.94,144.03 245.87,145.59 246.8,146.19 247.74,146.76 248.67,147.74 249.6,148.63 250.54,149.19 251.47,149.75 252.41,150.09 253.34,151.83 254.27,152.87 255.21,153.19 256.14,154.11 257.07,154.55 258.01,155.09 258.94,156.24 259.88,157.04 260.81,157.41 261.74,158.21 262.68,159.37 263.61,160.23 264.54,160.49 265.48,160.55 266.41,160.38 267.35,161.51 268.28,162.94 269.21,162.99 270.15,163.28 271.08,164.09 272.01,164.63 272.95,165.1 273.88,164.99 274.82,165.62 275.75,165.68 276.68,165.8 277.62,166.87 278.55,167.25 279.49,168.19 280.42,168.82 281.35,167.99 282.29,167.09 283.22,168.24 284.15,168.88 285.09,168.92 286.02,170.04 286.95,169.77 287.89,168.98 288.82,170.16 289.76,171.47 290.69,171.73 291.62,172.18 292.56,172.38 293.49,172.18 294.42,172.85 295.36,173.4 296.29,173.09 297.23,173.94 298.16,174.81 299.09,175 300.03,174.84 300.96,174.62 301.89,174.83 302.83,174.95 303.76,175.66 304.7,175.94 305.63,176.24 306.56,176.92 307.5,177.82 308.43,177.37 309.37,177.15 310.3,177.9 311.23,177.78 312.17,177.47 313.1,177.53" fill="none" stroke="#111" stroke-width="1.5" stroke-linejoin="round" stroke-opacity="1"/>
<text x="182.2" y="240.6" text-anchor="middle" font-size="15.5" stroke="#000" stroke-width="0.2" textLength="74" lengthAdjust="spacingAndGlyphs">Time [min]</text>
<text transform="translate(14,186.2) rotate(-90)" x="0" y="0" font-size="15.5" stroke="#000" stroke-width="0.2" textLength="144" lengthAdjust="spacingAndGlyphs">Concentrations [µM]</text>
<text x="2.9" y="16.5" font-size="17.5" stroke="#000" stroke-width="0.45" textLength="68" lengthAdjust="spacingAndGlyphs">a. Bopta</text>
<path d="M415.1,35.2 L415.1,204.7 L671.2,204.7" fill="none" stroke="#727272" stroke-width="1.5"/>
<line x1="415.1" y1="35.19" x2="421.1" y2="35.19" stroke="#727272" stroke-width="1.3"/>
<line x1="415.1" y1="91.66" x2="421.1" y2="91.66" stroke="#727272" stroke-width="1.3"/>
<line x1="415.1" y1="148.13" x2="421.1" y2="148.13" stroke="#727272" stroke-width="1.3"/>
<text x="413.8" y="41.09" text-anchor="end" font-size="16" stroke="#000" stroke-width="0.2">3'000</text>
<text x="413.8" y="97.56" text-anchor="end" font-size="16" stroke="#000" stroke-width="0.2">2'000</text>
<text x="413.8" y="154.03" text-anchor="end" font-size="16" stroke="#000" stroke-width="0.2">1'000</text>
<text x="451.7" y="220.3" text-anchor="middle" font-size="16" stroke="#000" stroke-width="0.2">45</text>
<text x="488.2" y="220.3" text-anchor="middle" font-size="16" stroke="#000" stroke-width="0.2">55</text>
<text x="524.7" y="220.3" text-anchor="middle" font-size="16" stroke="#000" stroke-width="0.2">65</text>
<text x="561.2" y="220.3" text-anchor="middle" font-size="16" stroke="#000" stroke-width="0.2">75</text>
<text x="597.7" y="220.3" text-anchor="middle" font-size="16" stroke="#000" stroke-width="0.2">85</text>
<text x="634.2" y="220.3" text-anchor="middle" font-size="16" stroke="#000" stroke-width="0.2">95</text>
<text x="670.7" y="220.3" text-anchor="middle" font-size="16" stroke="#000" stroke-width="0.2">105</text>
<path d="M451.7,204.93 452.61,202.32 453.52,199.94 454.44,197.39 455.35,194.5 456.26,191.54 457.18,188.6 458.09,185.84 459,183.03 459.91,180.11 460.82,177.37 461.74,174.12 462.65,170.31 463.56,166.75 464.47,163.31 465.39,159.71 466.3,156.59 467.21,153.52 468.12,150.19 469.04,147.56 469.95,145.4 470.86,142.67 471.77,139.77 472.69,137.2 473.6,134.85 474.51,132.66 475.43,130.62 476.34,128.65 477.25,126.65 478.16,124.74 479.07,122.79 479.99,120.5 480.9,118.53 481.81,116.97 482.72,115.11 483.64,113.42 484.55,111.67 485.46,109.79 486.38,108.59 487.29,107.44 488.2,105.88 489.11,104.54 490.02,103.32 490.94,101.97 491.85,100.34 492.76,99.22 493.68,98.52 494.59,97.43 495.5,96.48 496.41,95.72 497.32,94.51 498.24,93.13 499.15,92.61 500.06,91.89 500.97,90.64 501.89,90.02 502.8,89.57 503.71,88.76 504.62,88.15 505.54,87.52 506.45,86.6 507.36,86.05 508.27,85.67 509.19,84.92 510.1,84.24 511.01,83.72 511.93,83.51 512.84,82.85 513.75,82.07 514.66,81.62 515.58,80.84 516.49,80.41 517.4,80.03 518.31,79.59 519.23,79 520.14,78.24 521.05,77.65 521.96,77.39 522.88,77.16 523.79,76.92 524.7,76.54 525.61,76.16 526.52,76 527.44,75.55 528.35,74.8 529.26,74.3 530.17,74.01 531.09,74.13 532,73.92 532.91,73.59 533.83,73.52 534.74,73.33 535.65,73.12 536.56,72.58 537.48,72.14 538.39,71.9 539.3,71.69 540.21,71.32 541.12,71.01 542.04,71.05 542.95,70.51 543.86,70.02 544.77,69.86 545.69,69.57 546.6,69.57 547.51,69.28 548.42,69.03 549.34,68.56 550.25,68.35 551.16,68.24 552.08,67.9 552.99,67.76 553.9,67.02 554.81,66.64 555.73,66.84 556.64,66.99 557.55,66.83 558.46,66.51 559.38,66.17 560.29,66.3 561.2,67.35 562.11,69.23 563.02,72.01 563.94,75.22 564.85,78.62 565.76,81.99 566.67,84.69 567.59,87.23 568.5,89.94 569.41,92.3 570.33,95.08 571.24,97.7 572.15,100.12 573.06,102.96 573.98,105.67 574.89,108.15 575.8,110.42 576.71,112.47 577.62,114.36 578.54,116.56 579.45,118.68 580.36,120.51 581.27,122.48 582.19,124.68 583.1,126.66 584.01,128.55 584.92,130.55 585.84,132.65 586.75,134.71 587.66,136.6 588.58,137.81 589.49,138.85 590.4,140.58 591.31,141.97 592.23,143.03 593.14,144.51 594.05,145.64 594.96,146.28 595.88,147.14 596.79,148.32 597.7,149.49 598.61,150.12 599.52,150.77 600.44,151.85 601.35,152.85 602.26,153.39 603.17,154.08 604.09,154.9 605,155.14 605.91,155.58 606.83,156.45 607.74,156.94 608.65,157.07 609.56,157.61 610.48,158.54 611.39,159.31 612.3,159.35 613.21,159.97 614.12,160.59 615.04,160.79 615.95,161.59 616.86,162.03 617.77,162.31 618.69,162.44 619.6,162.97 620.51,163.49 621.42,163.48 622.34,164.47 623.25,165.4 624.16,165.7 625.08,165.9 625.99,166.29 626.9,167.09 627.81,167.54 628.73,167.73 629.64,167.76 630.55,168.17 631.46,168.45 632.38,168.64 633.29,169.41 634.2,169.92 635.11,170.28 636.02,170.8 636.94,171.48 637.85,172.04 638.76,172.08 639.67,172.39 640.59,172.6 641.5,172.68 642.41,173.24 643.33,173.41 644.24,173.52 645.15,173.79 646.06,174.13 646.98,174.84 647.89,174.97 648.8,175 649.71,175.22 650.62,175.24 651.54,175.41 652.45,176.01 653.36,176.76 654.27,176.81 655.19,176.55 656.1,176.78 657.01,177.03 657.92,177.23 658.84,177.51 659.75,177.61 660.66,177.84 661.58,177.88 662.49,177.89 663.4,177.88 664.31,178.03 665.23,178.22 666.14,178.41 667.05,178.61 667.96,178.78 668.88,179.11 669.79,179 670.7,178.91 670.7,169.34 669.79,169.74 668.88,169.72 667.96,169.41 667.05,169.72 666.14,169.74 665.23,169.37 664.31,167.84 663.4,168.38 662.49,167.6 661.58,167.15 660.66,168.6 659.75,167.01 658.84,167.61 657.92,167.76 657.01,167.37 656.1,166.97 655.19,166.39 654.27,166.52 653.36,167.17 652.45,166.6 651.54,164.94 650.62,165.13 649.71,165.08 648.8,164.94 647.89,164.84 646.98,163.88 646.06,165.03 645.15,163.46 644.24,163.04 643.33,162.92 642.41,163.56 641.5,161.65 640.59,161.73 639.67,160.72 638.76,161.16 637.85,159.87 636.94,160.47 636.02,159.42 635.11,159.38 634.2,159.23 633.29,158.63 632.38,157.72 631.46,155.72 630.55,157.2 629.64,156.94 628.73,157 627.81,155.89 626.9,155.88 625.99,153.87 625.08,154.38 624.16,154.57 623.25,153.02 622.34,152.46 621.42,152.29 620.51,151.65 619.6,151.5 618.69,150.23 617.77,149.09 616.86,149.88 615.95,150.03 615.04,148.34 614.12,148.3 613.21,148.39 612.3,146.82 611.39,147.59 610.48,146.76 609.56,145.94 608.65,145.25 607.74,144.89 606.83,145.39 605.91,141.84 605,141.95 604.09,142.03 603.17,141.19 602.26,139.23 601.35,139.91 600.44,138.99 599.52,136.17 598.61,136.72 597.7,136.85 596.79,134.03 595.88,134.25 594.96,132.22 594.05,131.57 593.14,130.57 592.23,130.08 591.31,127.77 590.4,126.07 589.49,124.04 588.58,124.5 587.66,121.42 586.75,119.1 585.84,117.74 584.92,114.2 584.01,111.65 583.1,110.62 582.19,107.36 581.27,103.38 580.36,103.33 579.45,100.54 578.54,97.42 577.62,95.76 576.71,94.45 575.8,90.53 574.89,90.39 573.98,88.08 573.06,83.07 572.15,80.88 571.24,77.59 570.33,73.79 569.41,70.73 568.5,69.75 567.59,67.77 566.67,63.7 565.76,58.49 564.85,58.37 563.94,54.37 563.02,50.95 562.11,48.23 561.2,45.13 560.29,43.71 559.38,45.3 558.46,46.79 557.55,45.71 556.64,44.5 555.73,46.35 554.81,44.73 553.9,48.41 552.99,49.42 552.08,46.55 551.16,49.43 550.25,50.41 549.34,49.44 548.42,52.97 547.51,50.3 546.6,49.68 545.69,51.95 544.77,49.73 543.86,51.99 542.95,49.59 542.04,52.47 541.12,51.78 540.21,52.71 539.3,52.82 538.39,51.08 537.48,52.85 536.56,54.87 535.65,52.41 534.74,54.36 533.83,53.99 532.91,53.32 532,56.99 531.09,51.6 530.17,54.04 529.26,57.17 528.35,55.21 527.44,55.81 526.52,57 525.61,57.48 524.7,56.59 523.79,56.47 522.88,55.74 521.96,59.95 521.05,58.04 520.14,59.02 519.23,60.16 518.31,61.34 517.4,61.9 516.49,62.54 515.58,61.53 514.66,63.56 513.75,61.83 512.84,63.18 511.93,64.22 511.01,62.97 510.1,64.05 509.19,67.43 508.27,63.71 507.36,66.34 506.45,68.09 505.54,67.27 504.62,68.93 503.71,68.7 502.8,71.04 501.89,70.35 500.97,74.11 500.06,74.33 499.15,75.31 498.24,74.67 497.32,77.35 496.41,78.6 495.5,80.08 494.59,81.03 493.68,82.18 492.76,82.31 491.85,83.46 490.94,84.39 490.02,84.17 489.11,87.3 488.2,90.16 487.29,91.9 486.38,94.72 485.46,96.24 484.55,97.79 483.64,100.28 482.72,103.68 481.81,106.23 480.9,108.21 479.99,111.03 479.07,113.15 478.16,115.31 477.25,118.81 476.34,121.13 475.43,124.97 474.51,127.56 473.6,129.23 472.69,132.04 471.77,133.75 470.86,137.46 469.95,139.92 469.04,142.45 468.12,145.08 467.21,148.81 466.3,152.16 465.39,154.87 464.47,158.61 463.56,161.98 462.65,165.94 461.74,169.11 460.82,172.18 459.91,176.51 459,179.1 458.09,181.68 457.18,185.44 456.26,188.15 455.35,191.88 454.44,195.18 453.52,198.37 452.61,201.65 451.7,205.11Z" fill="#c4c4c4"/>
<path d="M451.7 204.93V205.11M452.61 202.32V201.65M453.52 199.94V198.37M454.44 197.39V195.18M455.35 194.5V191.88M456.26 191.54V188.15M457.18 188.6V185.44M458.09 185.84V181.68M459 183.03V179.1M459.91 180.11V176.51M460.82 177.37V172.18M461.74 174.12V169.11M462.65 170.31V165.94M463.56 166.75V161.98M464.47 163.31V158.61M465.39 159.71V154.87M466.3 156.59V152.16M467.21 153.52V148.81M468.12 150.19V145.08M469.04 147.56V142.45M469.95 145.4V139.92M470.86 142.67V137.46M471.77 139.77V133.75M472.69 137.2V132.04M473.6 134.85V129.23M474.51 132.66V127.56M475.43 130.62V124.97M476.34 128.65V121.13M477.25 126.65V118.81M478.16 124.74V115.31M479.07 122.79V113.15M479.99 120.5V111.03M480.9 118.53V108.21M481.81 116.97V106.23M482.72 115.11V103.68M483.64 113.42V100.28M484.55 111.67V97.79M485.46 109.79V96.24M486.38 108.59V94.72M487.29 107.44V91.9M488.2 105.88V90.16M489.11 104.54V87.3M490.02 103.32V84.17M490.94 101.97V84.39M491.85 100.34V83.46M492.76 99.22V82.31M493.68 98.52V82.18M494.59 97.43V81.03M495.5 96.48V80.08M496.41 95.72V78.6M497.32 94.51V77.35M498.24 93.13V74.67M499.15 92.61V75.31M500.06 91.89V74.33M500.97 90.64V74.11M501.89 90.02V70.35M502.8 89.57V71.04M503.71 88.76V68.7M504.62 88.15V68.93M505.54 87.52V67.27M506.45 86.6V68.09M507.36 86.05V66.34M508.27 85.67V63.71M509.19 84.92V67.43M510.1 84.24V64.05M511.01 83.72V62.97M511.93 83.51V64.22M512.84 82.85V63.18M513.75 82.07V61.83M514.66 81.62V63.56M515.58 80.84V61.53M516.49 80.41V62.54M517.4 80.03V61.9M518.31 79.59V61.34M519.23 79V60.16M520.14 78.24V59.02M521.05 77.65V58.04M521.96 77.39V59.95M522.88 77.16V55.74M523.79 76.92V56.47M524.7 76.54V56.59M525.61 76.16V57.48M526.52 76V57M527.44 75.55V55.81M528.35 74.8V55.21M529.26 74.3V57.17M530.17 74.01V54.04M531.09 74.13V51.6M532 73.92V56.99M532.91 73.59V53.32M533.83 73.52V53.99M534.74 73.33V54.36M535.65 73.12V52.41M536.56 72.58V54.87M537.48 72.14V52.85M538.39 71.9V51.08M539.3 71.69V52.82M540.21 71.32V52.71M541.12 71.01V51.78M542.04 71.05V52.47M542.95 70.51V49.59M543.86 70.02V51.99M544.77 69.86V49.73M545.69 69.57V51.95M546.6 69.57V49.68M547.51 69.28V50.3M548.42 69.03V52.97M549.34 68.56V49.44M550.25 68.35V50.41M551.16 68.24V49.43M552.08 67.9V46.55M552.99 67.76V49.42M553.9 67.02V48.41M554.81 66.64V44.73M555.73 66.84V46.35M556.64 66.99V44.5M557.55 66.83V45.71M558.46 66.51V46.79M559.38 66.17V45.3M560.29 66.3V43.71M561.2 67.35V45.13M562.11 69.23V48.23M563.02 72.01V50.95M563.94 75.22V54.37M564.85 78.62V58.37M565.76 81.99V58.49M566.67 84.69V63.7M567.59 87.23V67.77M568.5 89.94V69.75M569.41 92.3V70.73M570.33 95.08V73.79M571.24 97.7V77.59M572.15 100.12V80.88M573.06 102.96V83.07M573.98 105.67V88.08M574.89 108.15V90.39M575.8 110.42V90.53M576.71 112.47V94.45M577.62 114.36V95.76M578.54 116.56V97.42M579.45 118.68V100.54M580.36 120.51V103.33M581.27 122.48V103.38M582.19 124.68V107.36M583.1 126.66V110.62M584.01 128.55V111.65M584.92 130.55V114.2M585.84 132.65V117.74M586.75 134.71V119.1M587.66 136.6V121.42M588.58 137.81V124.5M589.49 138.85V124.04M590.4 140.58V126.07M591.31 141.97V127.77M592.23 143.03V130.08M593.14 144.51V130.57M594.05 145.64V131.57M594.96 146.28V132.22M595.88 147.14V134.25M596.79 148.32V134.03M597.7 149.49V136.85M598.61 150.12V136.72M599.52 150.77V136.17M600.44 151.85V138.99M601.35 152.85V139.91M602.26 153.39V139.23M603.17 154.08V141.19M604.09 154.9V142.03M605 155.14V141.95M605.91 155.58V141.84M606.83 156.45V145.39M607.74 156.94V144.89M608.65 157.07V145.25M609.56 157.61V145.94M610.48 158.54V146.76M611.39 159.31V147.59M612.3 159.35V146.82M613.21 159.97V148.39M614.12 160.59V148.3M615.04 160.79V148.34M615.95 161.59V150.03M616.86 162.03V149.88M617.77 162.31V149.09M618.69 162.44V150.23M619.6 162.97V151.5M620.51 163.49V151.65M621.42 163.48V152.29M622.34 164.47V152.46M623.25 165.4V153.02M624.16 165.7V154.57M625.08 165.9V154.38M625.99 166.29V153.87M626.9 167.09V155.88M627.81 167.54V155.89M628.73 167.73V157M629.64 167.76V156.94M630.55 168.17V157.2M631.46 168.45V155.72M632.38 168.64V157.72M633.29 169.41V158.63M634.2 169.92V159.23M635.11 170.28V159.38M636.02 170.8V159.42M636.94 171.48V160.47M637.85 172.04V159.87M638.76 172.08V161.16M639.67 172.39V160.72M640.59 172.6V161.73M641.5 172.68V161.65M642.41 173.24V163.56M643.33 173.41V162.92M644.24 173.52V163.04M645.15 173.79V163.46M646.06 174.13V165.03M646.98 174.84V163.88M647.89 174.97V164.84M648.8 175V164.94M649.71 175.22V165.08M650.62 175.24V165.13M651.54 175.41V164.94M652.45 176.01V166.6M653.36 176.76V167.17M654.27 176.81V166.52M655.19 176.55V166.39M656.1 176.78V166.97M657.01 177.03V167.37M657.92 177.23V167.76M658.84 177.51V167.61M659.75 177.61V167.01M660.66 177.84V168.6M661.58 177.88V167.15M662.49 177.89V167.6M663.4 177.88V168.38M664.31 178.03V167.84M665.23 178.22V169.37M666.14 178.41V169.74M667.05 178.61V169.72M667.96 178.78V169.41M668.88 179.11V169.72M669.79 179V169.74M670.7 178.91V169.34" stroke="#c4c4c4" stroke-width="1.0" fill="none"/>
<path d="M456.71 192.54V187.15M461.27 178.37V171.18M465.84 160.71V153.87M470.4 146.4V138.92M474.96 133.66V126.56M479.52 123.79V112.15M484.09 114.42V99.28M488.65 106.88V89.16M493.21 100.22V81.31M497.77 95.51V76.35M502.34 91.02V69.35M506.9 87.6V67.09M511.46 84.72V61.97M516.03 81.84V60.53M520.59 79.24V58.02M525.15 77.54V55.59M529.71 75.3V56.17M534.28 74.52V52.99M538.84 72.9V50.08M543.4 71.51V48.59M547.96 70.28V49.3M552.53 68.9V45.55M557.09 67.99V43.5M561.65 68.35V44.13M566.21 82.99V57.49M570.78 96.08V72.79M575.34 109.15V89.39M579.9 119.68V99.54M584.46 129.55V110.65M589.03 138.81V123.5M593.59 145.51V129.57M598.15 150.49V135.85M602.71 154.39V138.23M607.28 157.45V144.39M611.84 160.31V146.59M616.4 162.59V149.03M620.96 164.49V150.65M625.53 166.9V153.38M630.09 168.76V155.94M634.65 170.92V158.23M639.21 173.08V160.16M643.78 174.41V161.92M648.34 175.97V163.84M652.9 177.01V165.6M657.46 178.03V166.37M662.03 178.88V166.15M666.59 179.41V168.74M671.15 179.91V168.34" stroke="#cecece" stroke-width="0.7" fill="none"/>
<path d="M450.1 205.11h3.2M451.01 201.65h3.2M451.92 198.37h3.2M452.84 195.18h3.2M453.75 191.88h3.2M454.66 188.15h3.2M455.57 185.44h3.2M456.49 181.68h3.2M457.4 179.1h3.2M458.31 176.51h3.2M459.22 172.18h3.2M460.14 169.11h3.2M461.05 165.94h3.2M461.96 161.98h3.2M462.87 158.61h3.2M463.79 154.87h3.2M464.7 152.16h3.2M465.61 148.81h3.2M466.52 145.08h3.2M467.44 142.45h3.2M468.35 139.92h3.2M469.26 137.46h3.2M470.17 133.75h3.2M471.09 132.04h3.2M472 129.23h3.2M472.91 127.56h3.2M473.82 124.97h3.2M474.74 121.13h3.2M475.65 118.81h3.2M476.56 115.31h3.2M477.47 113.15h3.2M478.39 111.03h3.2M479.3 108.21h3.2M480.21 106.23h3.2M481.12 103.68h3.2M482.04 100.28h3.2M482.95 97.79h3.2M483.86 96.24h3.2M484.77 94.72h3.2M485.69 91.9h3.2M486.6 90.16h3.2M487.51 87.3h3.2M488.42 84.17h3.2M489.34 84.39h3.2M490.25 83.46h3.2M491.16 82.31h3.2M492.07 82.18h3.2M492.99 81.03h3.2M493.9 80.08h3.2M494.81 78.6h3.2M495.72 77.35h3.2M496.64 74.67h3.2M497.55 75.31h3.2M498.46 74.33h3.2M499.37 74.11h3.2M500.29 70.35h3.2M501.2 71.04h3.2M502.11 68.7h3.2M503.02 68.93h3.2M503.94 67.27h3.2M504.85 68.09h3.2M505.76 66.34h3.2M506.67 63.71h3.2M507.59 67.43h3.2M508.5 64.05h3.2M509.41 62.97h3.2M510.32 64.22h3.2M511.24 63.18h3.2M512.15 61.83h3.2M513.06 63.56h3.2M513.98 61.53h3.2M514.89 62.54h3.2M515.8 61.9h3.2M516.71 61.34h3.2M517.62 60.16h3.2M518.54 59.02h3.2M519.45 58.04h3.2M520.36 59.95h3.2M521.27 55.74h3.2M522.19 56.47h3.2M523.1 56.59h3.2M524.01 57.48h3.2M524.92 57h3.2M525.84 55.81h3.2M526.75 55.21h3.2M527.66 57.17h3.2M528.57 54.04h3.2M529.49 51.6h3.2M530.4 56.99h3.2M531.31 53.32h3.2M532.23 53.99h3.2M533.14 54.36h3.2M534.05 52.41h3.2M534.96 54.87h3.2M535.88 52.85h3.2M536.79 51.08h3.2M537.7 52.82h3.2M538.61 52.71h3.2M539.52 51.78h3.2M540.44 52.47h3.2M541.35 49.59h3.2M542.26 51.99h3.2M543.17 49.73h3.2M544.09 51.95h3.2M545 49.68h3.2M545.91 50.3h3.2M546.82 52.97h3.2M547.74 49.44h3.2M548.65 50.41h3.2M549.56 49.43h3.2M550.48 46.55h3.2M551.39 49.42h3.2M552.3 48.41h3.2M553.21 44.73h3.2M554.12 46.35h3.2M555.04 44.5h3.2M555.95 45.71h3.2M556.86 46.79h3.2M557.77 45.3h3.2M558.69 43.71h3.2M559.6 45.13h3.2M560.51 48.23h3.2M561.42 50.95h3.2M562.34 54.37h3.2M563.25 58.37h3.2M564.16 58.49h3.2M565.07 63.7h3.2M565.99 67.77h3.2M566.9 69.75h3.2M567.81 70.73h3.2M568.73 73.79h3.2M569.64 77.59h3.2M570.55 80.88h3.2M571.46 83.07h3.2M572.38 88.08h3.2M573.29 90.39h3.2M574.2 90.53h3.2M575.11 94.45h3.2M576.02 95.76h3.2M576.94 97.42h3.2M577.85 100.54h3.2M578.76 103.33h3.2M579.67 103.38h3.2M580.59 107.36h3.2M581.5 110.62h3.2M582.41 111.65h3.2M583.32 114.2h3.2M584.24 117.74h3.2M585.15 119.1h3.2M586.06 121.42h3.2M586.98 124.5h3.2M587.89 124.04h3.2M588.8 126.07h3.2M589.71 127.77h3.2M590.62 130.08h3.2M591.54 130.57h3.2M592.45 131.57h3.2M593.36 132.22h3.2M594.27 134.25h3.2M595.19 134.03h3.2M596.1 136.85h3.2M597.01 136.72h3.2M597.92 136.17h3.2M598.84 138.99h3.2M599.75 139.91h3.2M600.66 139.23h3.2M601.57 141.19h3.2M602.49 142.03h3.2M603.4 141.95h3.2M604.31 141.84h3.2M605.23 145.39h3.2M606.14 144.89h3.2M607.05 145.25h3.2M607.96 145.94h3.2M608.88 146.76h3.2M609.79 147.59h3.2M610.7 146.82h3.2M611.61 148.39h3.2M612.52 148.3h3.2M613.44 148.34h3.2M614.35 150.03h3.2M615.26 149.88h3.2M616.17 149.09h3.2M617.09 150.23h3.2M618 151.5h3.2M618.91 151.65h3.2M619.82 152.29h3.2M620.74 152.46h3.2M621.65 153.02h3.2M622.56 154.57h3.2M623.48 154.38h3.2M624.39 153.87h3.2M625.3 155.88h3.2M626.21 155.89h3.2M627.12 157h3.2M628.04 156.94h3.2M628.95 157.2h3.2M629.86 155.72h3.2M630.77 157.72h3.2M631.69 158.63h3.2M632.6 159.23h3.2M633.51 159.38h3.2M634.42 159.42h3.2M635.34 160.47h3.2M636.25 159.87h3.2M637.16 161.16h3.2M638.07 160.72h3.2M638.99 161.73h3.2M639.9 161.65h3.2M640.81 163.56h3.2M641.73 162.92h3.2M642.64 163.04h3.2M643.55 163.46h3.2M644.46 165.03h3.2M645.38 163.88h3.2M646.29 164.84h3.2M647.2 164.94h3.2M648.11 165.08h3.2M649.02 165.13h3.2M649.94 164.94h3.2M650.85 166.6h3.2M651.76 167.17h3.2M652.67 166.52h3.2M653.59 166.39h3.2M654.5 166.97h3.2M655.41 167.37h3.2M656.32 167.76h3.2M657.24 167.61h3.2M658.15 167.01h3.2M659.06 168.6h3.2M659.98 167.15h3.2M660.89 167.6h3.2M661.8 168.38h3.2M662.71 167.84h3.2M663.62 169.37h3.2M664.54 169.74h3.2M665.45 169.72h3.2M666.36 169.41h3.2M667.27 169.72h3.2M668.19 169.74h3.2M669.1 169.34h3.2" stroke="#c4c4c4" stroke-width="1" fill="none"/>
<path d="M451.7,204.67 452.61,202.48 453.52,200.26 454.44,197.7 455.35,195.4 456.26,192.83 457.18,190.13 458.09,187.55 459,185.09 459.91,182.59 460.82,179.84 461.74,176.65 462.65,173.27 463.56,169.99 464.47,166.98 465.39,163.71 466.3,160.72 467.21,157.69 468.12,154.23 469.04,151.82 469.95,149.89 470.86,147.88 471.77,145.97 472.69,144.05 473.6,142.12 474.51,140.29 475.43,138.11 476.34,136.24 477.25,134.53 478.16,132.78 479.07,131.28 479.99,130.03 480.9,129.15 481.81,127.88 482.72,126.68 483.64,125.63 484.55,124.2 485.46,122.46 486.38,121.15 487.29,120.41 488.2,119.2 489.11,118.08 490.02,116.88 490.94,116.08 491.85,115.5 492.76,114.74 493.68,113.79 494.59,113.02 495.5,112.54 496.41,111.84 497.32,111.02 498.24,110.09 499.15,109.84 500.06,109.06 500.97,107.84 501.89,107.13 502.8,106.28 503.71,105.72 504.62,105.39 505.54,104.43 506.45,103.27 507.36,102.92 508.27,102.74 509.19,102.11 510.1,101.55 511.01,100.76 511.93,100.05 512.84,99.49 513.75,98.86 514.66,98.78 515.58,98.48 516.49,98.27 517.4,97.99 518.31,97.19 519.23,96.95 520.14,96.99 521.05,96.64 521.96,95.91 522.88,95.65 523.79,95.81 524.7,95.47 525.61,94.96 526.52,95 527.44,94.97 528.35,94.48 529.26,94.23 530.17,94.11 531.09,94.03 532,93.98 532.91,93.93 533.83,93.84 534.74,93.25 535.65,93.03 536.56,93.22 537.48,93.05 538.39,92.9 539.3,92.57 540.21,92.09 541.12,92.14 542.04,91.95 542.95,91.31 543.86,91.45 544.77,91.49 545.69,91.11 546.6,90.83 547.51,90.49 548.42,90.34 549.34,90.28 550.25,90.28 551.16,89.74 552.08,89.52 552.99,89.42 553.9,88.87 554.81,88.89 555.73,88.79 556.64,88.24 557.55,88.34 558.46,88.29 559.38,87.95 560.29,88.07 561.2,88.53 562.11,89.51 563.02,91.07 563.94,92.89 564.85,94.8 565.76,97.15 566.67,99.77 567.59,103.35 568.5,106.83 569.41,109.99 570.33,113.62 571.24,116.77 572.15,119.06 573.06,121.67 573.98,124.12 574.89,126.61 575.8,129.34 576.71,131.35 577.62,133.25 578.54,135.41 579.45,137.44 580.36,139.05 581.27,140.86 582.19,142.36 583.1,143.79 584.01,145.55 584.92,146.99 585.84,148.43 586.75,149.51 587.66,150.66 588.58,151.84 589.49,152.6 590.4,153.32 591.31,154.08 592.23,155.13 593.14,155.91 594.05,156.58 594.96,157.58 595.88,158.38 596.79,159.09 597.7,159.49 598.61,159.66 599.52,160.41 600.44,161.15 601.35,161.69 602.26,162.15 603.17,162.67 604.09,163.3 605,163.73 605.91,164.17 606.83,164.61 607.74,165.04 608.65,165.47 609.56,166.01 610.48,166.3 611.39,166.78 612.3,167.18 613.21,167.38 614.12,167.68 615.04,167.79 615.95,168.39 616.86,168.67 617.77,168.46 618.69,168.7 619.6,169.15 620.51,169.9 621.42,170.31 622.34,170.45 623.25,170.59 624.16,170.81 625.08,171.36 625.99,171.85 626.9,171.9 627.81,171.97 628.73,172.35 629.64,172.33 630.55,172.5 631.46,172.82 632.38,172.68 633.29,173.01 634.2,173.64 635.11,173.68 636.02,173.59 636.94,174.08 637.85,174.52 638.76,174.65 639.67,175.03 640.59,175.01 641.5,175.12 642.41,175.38 643.33,175.46 644.24,175.69 645.15,175.9 646.06,176.28 646.98,176.5 647.89,176.5 648.8,176.63 649.71,176.88 650.62,176.96 651.54,177 652.45,177.27 653.36,177.41 654.27,177.55 655.19,177.69 656.1,178.15 657.01,178.58 657.92,178.48 658.84,178.41 659.75,178.8 660.66,178.99 661.58,178.77 662.49,178.89 663.4,179.06 664.31,179.34 665.23,179.41 666.14,179.61 667.05,179.59 667.96,179.47 668.88,179.54 669.79,179.8 670.7,179.98 670.7,188.2 669.79,188.22 668.88,187.98 667.96,187.69 667.05,187.49 666.14,187.6 665.23,187.58 664.31,187.69 663.4,187.3 662.49,187.24 661.58,187.46 660.66,187.17 659.75,187.01 658.84,186.95 657.92,186.79 657.01,186.48 656.1,186.34 655.19,186.15 654.27,185.7 653.36,185.62 652.45,185.63 651.54,185.21 650.62,184.92 649.71,184.65 648.8,184.66 647.89,184.76 646.98,184.47 646.06,183.93 645.15,183.89 644.24,183.65 643.33,183.36 642.41,183.36 641.5,182.97 640.59,182.59 639.67,182.3 638.76,182.01 637.85,182.11 636.94,182.09 636.02,181.22 635.11,180.79 634.2,180.3 633.29,180.11 632.38,180.42 631.46,179.97 630.55,179.52 629.64,179.41 628.73,178.87 627.81,178.52 626.9,178.4 625.99,178.25 625.08,178.12 624.16,177.83 623.25,177.62 622.34,177.23 621.42,176.8 620.51,176.57 619.6,176.58 618.69,176.52 617.77,175.91 616.86,175.66 615.95,175.47 615.04,175.03 614.12,174.92 613.21,174.6 612.3,174.38 611.39,174.29 610.48,173.9 609.56,173.67 608.65,173.45 607.74,172.87 606.83,172.39 605.91,172.33 605,172 604.09,171.32 603.17,170.64 602.26,170.17 601.35,170.43 600.44,169.97 599.52,169.33 598.61,169.02 597.7,168.82 596.79,168.51 595.88,167.9 594.96,167.33 594.05,166.54 593.14,166.35 592.23,166.12 591.31,165.14 590.4,164.35 589.49,163.99 588.58,163.61 587.66,162.6 586.75,161.87 585.84,161.01 584.92,159.67 584.01,158.8 583.1,157.91 582.19,156.92 581.27,155.48 580.36,154.22 579.45,152.98 578.54,151.48 577.62,150.14 576.71,148.69 575.8,146.81 574.89,144.94 573.98,142.82 573.06,140.08 572.15,137.19 571.24,134.51 570.33,131.83 569.41,129.38 568.5,126.79 567.59,124.06 566.67,121.58 565.76,119.03 564.85,116.84 563.94,114.4 563.02,111.9 562.11,109.38 561.2,107.47 560.29,107.18 559.38,107.17 558.46,107.01 557.55,107.22 556.64,107.37 555.73,107.51 554.81,108.08 553.9,108.15 552.99,108.02 552.08,108.38 551.16,108.18 550.25,108.13 549.34,108.71 548.42,108.76 547.51,108.7 546.6,109.28 545.69,109.78 544.77,109.54 543.86,109.66 542.95,110.09 542.04,110.2 541.12,110.31 540.21,110.71 539.3,111.03 538.39,111.28 537.48,111.56 536.56,111.33 535.65,111.1 534.74,111.47 533.83,112.07 532.91,112.41 532,112.25 531.09,112.27 530.17,112.56 529.26,112.8 528.35,113.01 527.44,112.83 526.52,113.1 525.61,113.4 524.7,113.27 523.79,113.51 522.88,113.83 521.96,114.24 521.05,114.41 520.14,114.5 519.23,114.93 518.31,115.16 517.4,115.25 516.49,115.4 515.58,115.85 514.66,116.26 513.75,116.27 512.84,116.76 511.93,117.9 511.01,118.37 510.1,118.5 509.19,118.8 508.27,119.27 507.36,119.9 506.45,120.62 505.54,121.46 504.62,121.78 503.71,122.04 502.8,122.39 501.89,122.53 500.97,123.06 500.06,123.96 499.15,124.24 498.24,124.55 497.32,125.24 496.41,126.02 495.5,126.88 494.59,127.5 493.68,128.1 492.76,129.09 491.85,129.88 490.94,130.46 490.02,131.58 489.11,132.5 488.2,133.41 487.29,134.57 486.38,135.66 485.46,136.96 484.55,138.66 483.64,140.18 482.72,140.79 481.81,141.19 480.9,142.22 479.99,143.27 479.07,143.91 478.16,144.84 477.25,146.31 476.34,147.49 475.43,148.6 474.51,149.93 473.6,150.99 472.69,152.16 471.77,153.61 470.86,154.85 469.95,156.28 469.04,158.01 468.12,160.06 467.21,162.65 466.3,165.2 465.39,167.48 464.47,170.31 463.56,173.57 462.65,176.41 461.74,179.38 460.82,182.2 459.91,184.92 459,187.61 458.09,190.18 457.18,192.37 456.26,194.57 455.35,196.81 454.44,199.16 453.52,201.48 452.61,203.2 451.7,204.88Z" fill="#63be91"/>
<path d="M451.7 204.67V204.88M452.61 202.48V203.2M453.52 200.26V201.48M454.44 197.7V199.16M455.35 195.4V196.81M456.26 192.83V194.57M457.18 190.13V192.37M458.09 187.55V190.18M459 185.09V187.61M459.91 182.59V184.92M460.82 179.84V182.2M461.74 176.65V179.38M462.65 173.27V176.41M463.56 169.99V173.57M464.47 166.98V170.31M465.39 163.71V167.48M466.3 160.72V165.2M467.21 157.69V162.65M468.12 154.23V160.06M469.04 151.82V158.01M469.95 149.89V156.28M470.86 147.88V154.85M471.77 145.97V153.61M472.69 144.05V152.16M473.6 142.12V150.99M474.51 140.29V149.93M475.43 138.11V148.6M476.34 136.24V147.49M477.25 134.53V146.31M478.16 132.78V144.84M479.07 131.28V143.91M479.99 130.03V143.27M480.9 129.15V142.22M481.81 127.88V141.19M482.72 126.68V140.79M483.64 125.63V140.18M484.55 124.2V138.66M485.46 122.46V136.96M486.38 121.15V135.66M487.29 120.41V134.57M488.2 119.2V133.41M489.11 118.08V132.5M490.02 116.88V131.58M490.94 116.08V130.46M491.85 115.5V129.88M492.76 114.74V129.09M493.68 113.79V128.1M494.59 113.02V127.5M495.5 112.54V126.88M496.41 111.84V126.02M497.32 111.02V125.24M498.24 110.09V124.55M499.15 109.84V124.24M500.06 109.06V123.96M500.97 107.84V123.06M501.89 107.13V122.53M502.8 106.28V122.39M503.71 105.72V122.04M504.62 105.39V121.78M505.54 104.43V121.46M506.45 103.27V120.62M507.36 102.92V119.9M508.27 102.74V119.27M509.19 102.11V118.8M510.1 101.55V118.5M511.01 100.76V118.37M511.93 100.05V117.9M512.84 99.49V116.76M513.75 98.86V116.27M514.66 98.78V116.26M515.58 98.48V115.85M516.49 98.27V115.4M517.4 97.99V115.25M518.31 97.19V115.16M519.23 96.95V114.93M520.14 96.99V114.5M521.05 96.64V114.41M521.96 95.91V114.24M522.88 95.65V113.83M523.79 95.81V113.51M524.7 95.47V113.27M525.61 94.96V113.4M526.52 95V113.1M527.44 94.97V112.83M528.35 94.48V113.01M529.26 94.23V112.8M530.17 94.11V112.56M531.09 94.03V112.27M532 93.98V112.25M532.91 93.93V112.41M533.83 93.84V112.07M534.74 93.25V111.47M535.65 93.03V111.1M536.56 93.22V111.33M537.48 93.05V111.56M538.39 92.9V111.28M539.3 92.57V111.03M540.21 92.09V110.71M541.12 92.14V110.31M542.04 91.95V110.2M542.95 91.31V110.09M543.86 91.45V109.66M544.77 91.49V109.54M545.69 91.11V109.78M546.6 90.83V109.28M547.51 90.49V108.7M548.42 90.34V108.76M549.34 90.28V108.71M550.25 90.28V108.13M551.16 89.74V108.18M552.08 89.52V108.38M552.99 89.42V108.02M553.9 88.87V108.15M554.81 88.89V108.08M555.73 88.79V107.51M556.64 88.24V107.37M557.55 88.34V107.22M558.46 88.29V107.01M559.38 87.95V107.17M560.29 88.07V107.18M561.2 88.53V107.47M562.11 89.51V109.38M563.02 91.07V111.9M563.94 92.89V114.4M564.85 94.8V116.84M565.76 97.15V119.03M566.67 99.77V121.58M567.59 103.35V124.06M568.5 106.83V126.79M569.41 109.99V129.38M570.33 113.62V131.83M571.24 116.77V134.51M572.15 119.06V137.19M573.06 121.67V140.08M573.98 124.12V142.82M574.89 126.61V144.94M575.8 129.34V146.81M576.71 131.35V148.69M577.62 133.25V150.14M578.54 135.41V151.48M579.45 137.44V152.98M580.36 139.05V154.22M581.27 140.86V155.48M582.19 142.36V156.92M583.1 143.79V157.91M584.01 145.55V158.8M584.92 146.99V159.67M585.84 148.43V161.01M586.75 149.51V161.87M587.66 150.66V162.6M588.58 151.84V163.61M589.49 152.6V163.99M590.4 153.32V164.35M591.31 154.08V165.14M592.23 155.13V166.12M593.14 155.91V166.35M594.05 156.58V166.54M594.96 157.58V167.33M595.88 158.38V167.9M596.79 159.09V168.51M597.7 159.49V168.82M598.61 159.66V169.02M599.52 160.41V169.33M600.44 161.15V169.97M601.35 161.69V170.43M602.26 162.15V170.17M603.17 162.67V170.64M604.09 163.3V171.32M605 163.73V172M605.91 164.17V172.33M606.83 164.61V172.39M607.74 165.04V172.87M608.65 165.47V173.45M609.56 166.01V173.67M610.48 166.3V173.9M611.39 166.78V174.29M612.3 167.18V174.38M613.21 167.38V174.6M614.12 167.68V174.92M615.04 167.79V175.03M615.95 168.39V175.47M616.86 168.67V175.66M617.77 168.46V175.91M618.69 168.7V176.52M619.6 169.15V176.58M620.51 169.9V176.57M621.42 170.31V176.8M622.34 170.45V177.23M623.25 170.59V177.62M624.16 170.81V177.83M625.08 171.36V178.12M625.99 171.85V178.25M626.9 171.9V178.4M627.81 171.97V178.52M628.73 172.35V178.87M629.64 172.33V179.41M630.55 172.5V179.52M631.46 172.82V179.97M632.38 172.68V180.42M633.29 173.01V180.11M634.2 173.64V180.3M635.11 173.68V180.79M636.02 173.59V181.22M636.94 174.08V182.09M637.85 174.52V182.11M638.76 174.65V182.01M639.67 175.03V182.3M640.59 175.01V182.59M641.5 175.12V182.97M642.41 175.38V183.36M643.33 175.46V183.36M644.24 175.69V183.65M645.15 175.9V183.89M646.06 176.28V183.93M646.98 176.5V184.47M647.89 176.5V184.76M648.8 176.63V184.66M649.71 176.88V184.65M650.62 176.96V184.92M651.54 177V185.21M652.45 177.27V185.63M653.36 177.41V185.62M654.27 177.55V185.7M655.19 177.69V186.15M656.1 178.15V186.34M657.01 178.58V186.48M657.92 178.48V186.79M658.84 178.41V186.95M659.75 178.8V187.01M660.66 178.99V187.17M661.58 178.77V187.46M662.49 178.89V187.24M663.4 179.06V187.3M664.31 179.34V187.69M665.23 179.41V187.58M666.14 179.61V187.6M667.05 179.59V187.49M667.96 179.47V187.69M668.88 179.54V187.98M669.79 179.8V188.22M670.7 179.98V188.2" stroke="#63be91" stroke-width="1.0" fill="none"/>
<path d="M465.84 162.71V168.48M470.4 148.89V157.28M474.96 139.29V150.93M479.52 130.28V144.91M484.09 124.63V141.18M488.65 118.2V134.41M493.21 113.74V130.09M497.77 110.02V126.24M502.34 106.13V123.53M506.9 102.27V121.62M511.46 99.76V119.37M516.03 97.48V116.85M520.59 95.99V115.5M525.15 94.47V114.27M529.71 93.23V113.8M534.28 92.84V113.07M538.84 91.9V112.28M543.4 90.31V111.09M547.96 89.49V109.7M552.53 88.52V109.38M557.09 87.24V108.37M561.65 87.53V108.47M566.21 96.15V120.03M570.78 112.62V132.83M575.34 125.61V145.94M579.9 136.44V153.98M584.46 144.55V159.8M589.03 150.84V164.61M593.59 154.91V167.35M598.15 158.49V169.82M602.71 161.15V171.17M607.28 163.61V173.39M611.84 165.78V175.29M616.4 167.39V176.47M620.96 168.9V177.57M625.53 170.36V179.12M630.09 171.33V180.41M634.65 172.64V181.3M639.21 173.65V183.01M643.78 174.46V184.36M648.34 175.5V185.76M652.9 176.27V186.63M657.46 177.58V187.48M662.03 177.77V188.46M666.59 178.61V188.6M671.15 178.98V189.2" stroke="#7cc6a1" stroke-width="0.7" fill="none"/>
<path d="M450.1 204.88h3.2M451.01 203.2h3.2M451.92 201.48h3.2M452.84 199.16h3.2M453.75 196.81h3.2M454.66 194.57h3.2M455.57 192.37h3.2M456.49 190.18h3.2M457.4 187.61h3.2M458.31 184.92h3.2M459.22 182.2h3.2M460.14 179.38h3.2M461.05 176.41h3.2M461.96 173.57h3.2M462.87 170.31h3.2M463.79 167.48h3.2M464.7 165.2h3.2M465.61 162.65h3.2M466.52 160.06h3.2M467.44 158.01h3.2M468.35 156.28h3.2M469.26 154.85h3.2M470.17 153.61h3.2M471.09 152.16h3.2M472 150.99h3.2M472.91 149.93h3.2M473.82 148.6h3.2M474.74 147.49h3.2M475.65 146.31h3.2M476.56 144.84h3.2M477.47 143.91h3.2M478.39 143.27h3.2M479.3 142.22h3.2M480.21 141.19h3.2M481.12 140.79h3.2M482.04 140.18h3.2M482.95 138.66h3.2M483.86 136.96h3.2M484.77 135.66h3.2M485.69 134.57h3.2M486.6 133.41h3.2M487.51 132.5h3.2M488.42 131.58h3.2M489.34 130.46h3.2M490.25 129.88h3.2M491.16 129.09h3.2M492.07 128.1h3.2M492.99 127.5h3.2M493.9 126.88h3.2M494.81 126.02h3.2M495.72 125.24h3.2M496.64 124.55h3.2M497.55 124.24h3.2M498.46 123.96h3.2M499.37 123.06h3.2M500.29 122.53h3.2M501.2 122.39h3.2M502.11 122.04h3.2M503.02 121.78h3.2M503.94 121.46h3.2M504.85 120.62h3.2M505.76 119.9h3.2M506.67 119.27h3.2M507.59 118.8h3.2M508.5 118.5h3.2M509.41 118.37h3.2M510.32 117.9h3.2M511.24 116.76h3.2M512.15 116.27h3.2M513.06 116.26h3.2M513.98 115.85h3.2M514.89 115.4h3.2M515.8 115.25h3.2M516.71 115.16h3.2M517.62 114.93h3.2M518.54 114.5h3.2M519.45 114.41h3.2M520.36 114.24h3.2M521.27 113.83h3.2M522.19 113.51h3.2M523.1 113.27h3.2M524.01 113.4h3.2M524.92 113.1h3.2M525.84 112.83h3.2M526.75 113.01h3.2M527.66 112.8h3.2M528.57 112.56h3.2M529.49 112.27h3.2M530.4 112.25h3.2M531.31 112.41h3.2M532.23 112.07h3.2M533.14 111.47h3.2M534.05 111.1h3.2M534.96 111.33h3.2M535.88 111.56h3.2M536.79 111.28h3.2M537.7 111.03h3.2M538.61 110.71h3.2M539.52 110.31h3.2M540.44 110.2h3.2M541.35 110.09h3.2M542.26 109.66h3.2M543.17 109.54h3.2M544.09 109.78h3.2M545 109.28h3.2M545.91 108.7h3.2M546.82 108.76h3.2M547.74 108.71h3.2M548.65 108.13h3.2M549.56 108.18h3.2M550.48 108.38h3.2M551.39 108.02h3.2M552.3 108.15h3.2M553.21 108.08h3.2M554.12 107.51h3.2M555.04 107.37h3.2M555.95 107.22h3.2M556.86 107.01h3.2M557.77 107.17h3.2M558.69 107.18h3.2M559.6 107.47h3.2M560.51 109.38h3.2M561.42 111.9h3.2M562.34 114.4h3.2M563.25 116.84h3.2M564.16 119.03h3.2M565.07 121.58h3.2M565.99 124.06h3.2M566.9 126.79h3.2M567.81 129.38h3.2M568.73 131.83h3.2M569.64 134.51h3.2M570.55 137.19h3.2M571.46 140.08h3.2M572.38 142.82h3.2M573.29 144.94h3.2M574.2 146.81h3.2M575.11 148.69h3.2M576.02 150.14h3.2M576.94 151.48h3.2M577.85 152.98h3.2M578.76 154.22h3.2M579.67 155.48h3.2M580.59 156.92h3.2M581.5 157.91h3.2M582.41 158.8h3.2M583.32 159.67h3.2M584.24 161.01h3.2M585.15 161.87h3.2M586.06 162.6h3.2M586.98 163.61h3.2M587.89 163.99h3.2M588.8 164.35h3.2M589.71 165.14h3.2M590.62 166.12h3.2M591.54 166.35h3.2M592.45 166.54h3.2M593.36 167.33h3.2M594.27 167.9h3.2M595.19 168.51h3.2M596.1 168.82h3.2M597.01 169.02h3.2M597.92 169.33h3.2M598.84 169.97h3.2M599.75 170.43h3.2M600.66 170.17h3.2M601.57 170.64h3.2M602.49 171.32h3.2M603.4 172h3.2M604.31 172.33h3.2M605.23 172.39h3.2M606.14 172.87h3.2M607.05 173.45h3.2M607.96 173.67h3.2M608.88 173.9h3.2M609.79 174.29h3.2M610.7 174.38h3.2M611.61 174.6h3.2M612.52 174.92h3.2M613.44 175.03h3.2M614.35 175.47h3.2M615.26 175.66h3.2M616.17 175.91h3.2M617.09 176.52h3.2M618 176.58h3.2M618.91 176.57h3.2M619.82 176.8h3.2M620.74 177.23h3.2M621.65 177.62h3.2M622.56 177.83h3.2M623.48 178.12h3.2M624.39 178.25h3.2M625.3 178.4h3.2M626.21 178.52h3.2M627.12 178.87h3.2M628.04 179.41h3.2M628.95 179.52h3.2M629.86 179.97h3.2M630.77 180.42h3.2M631.69 180.11h3.2M632.6 180.3h3.2M633.51 180.79h3.2M634.42 181.22h3.2M635.34 182.09h3.2M636.25 182.11h3.2M637.16 182.01h3.2M638.07 182.3h3.2M638.99 182.59h3.2M639.9 182.97h3.2M640.81 183.36h3.2M641.73 183.36h3.2M642.64 183.65h3.2M643.55 183.89h3.2M644.46 183.93h3.2M645.38 184.47h3.2M646.29 184.76h3.2M647.2 184.66h3.2M648.11 184.65h3.2M649.02 184.92h3.2M649.94 185.21h3.2M650.85 185.63h3.2M651.76 185.62h3.2M652.67 185.7h3.2M653.59 186.15h3.2M654.5 186.34h3.2M655.41 186.48h3.2M656.32 186.79h3.2M657.24 186.95h3.2M658.15 187.01h3.2M659.06 187.17h3.2M659.98 187.46h3.2M660.89 187.24h3.2M661.8 187.3h3.2M662.71 187.69h3.2M663.62 187.58h3.2M664.54 187.6h3.2M665.45 187.49h3.2M666.36 187.69h3.2M667.27 187.98h3.2M668.19 188.22h3.2M669.1 188.2h3.2" stroke="#159a58" stroke-width="1" fill="none"/>
<path d="M451.7,204.67 452.61,202.48 453.52,200.26 454.44,197.7 455.35,195.4 456.26,192.83 457.18,190.13 458.09,187.55 459,185.09 459.91,182.59 460.82,179.84 461.74,176.65 462.65,173.27 463.56,169.99 464.47,166.98 465.39,163.71 466.3,160.72 467.21,157.69 468.12,154.23 469.04,151.82 469.95,149.89 470.86,147.88 471.77,145.97 472.69,144.05 473.6,142.12 474.51,140.29 475.43,138.11 476.34,136.24 477.25,134.53 478.16,132.78 479.07,131.28 479.99,130.03 480.9,129.15 481.81,127.88 482.72,126.68 483.64,125.63 484.55,124.2 485.46,122.46 486.38,121.15 487.29,120.41 488.2,119.2 489.11,118.08 490.02,116.88 490.94,116.08 491.85,115.5 492.76,114.74 493.68,113.79 494.59,113.02 495.5,112.54 496.41,111.84 497.32,111.02 498.24,110.09 499.15,109.84 500.06,109.06 500.97,107.84 501.89,107.13 502.8,106.28 503.71,105.72 504.62,105.39 505.54,104.43 506.45,103.27 507.36,102.92 508.27,102.74 509.19,102.11 510.1,101.55 511.01,100.76 511.93,100.05 512.84,99.49 513.75,98.86 514.66,98.78 515.58,98.48 516.49,98.27 517.4,97.99 518.31,97.19 519.23,96.95 520.14,96.99 521.05,96.64 521.96,95.91 522.88,95.65 523.79,95.81 524.7,95.47 525.61,94.96 526.52,95 527.44,94.97 528.35,94.48 529.26,94.23 530.17,94.11 531.09,94.03 532,93.98 532.91,93.93 533.83,93.84 534.74,93.25 535.65,93.03 536.56,93.22 537.48,93.05 538.39,92.9 539.3,92.57 540.21,92.09 541.12,92.14 542.04,91.95 542.95,91.31 543.86,91.45 544.77,91.49 545.69,91.11 546.6,90.83 547.51,90.49 548.42,90.34 549.34,90.28 550.25,90.28 551.16,89.74 552.08,89.52 552.99,89.42 553.9,88.87 554.81,88.89 555.73,88.79 556.64,88.24 557.55,88.34 558.46,88.29 559.38,87.95 560.29,88.07 561.2,88.53 562.11,89.51 563.02,91.07 563.94,92.89 564.85,94.8 565.76,97.15 566.67,99.77 567.59,103.35 568.5,106.83 569.41,109.99 570.33,113.62 571.24,116.77 572.15,119.06 573.06,121.67 573.98,124.12 574.89,126.61 575.8,129.34 576.71,131.35 577.62,133.25 578.54,135.41 579.45,137.44 580.36,139.05 581.27,140.86 582.19,142.36 583.1,143.79 584.01,145.55 584.92,146.99 585.84,148.43 586.75,149.51 587.66,150.66 588.58,151.84 589.49,152.6 590.4,153.32 591.31,154.08 592.23,155.13 593.14,155.91 594.05,156.58 594.96,157.58 595.88,158.38 596.79,159.09 597.7,159.49 598.61,159.66 599.52,160.41 600.44,161.15 601.35,161.69 602.26,162.15 603.17,162.67 604.09,163.3 605,163.73 605.91,164.17 606.83,164.61 607.74,165.04 608.65,165.47 609.56,166.01 610.48,166.3 611.39,166.78 612.3,167.18 613.21,167.38 614.12,167.68 615.04,167.79 615.95,168.39 616.86,168.67 617.77,168.46 618.69,168.7 619.6,169.15 620.51,169.9 621.42,170.31 622.34,170.45 623.25,170.59 624.16,170.81 625.08,171.36 625.99,171.85 626.9,171.9 627.81,171.97 628.73,172.35 629.64,172.33 630.55,172.5 631.46,172.82 632.38,172.68 633.29,173.01 634.2,173.64 635.11,173.68 636.02,173.59 636.94,174.08 637.85,174.52 638.76,174.65 639.67,175.03 640.59,175.01 641.5,175.12 642.41,175.38 643.33,175.46 644.24,175.69 645.15,175.9 646.06,176.28 646.98,176.5 647.89,176.5 648.8,176.63 649.71,176.88 650.62,176.96 651.54,177 652.45,177.27 653.36,177.41 654.27,177.55 655.19,177.69 656.1,178.15 657.01,178.58 657.92,178.48 658.84,178.41 659.75,178.8 660.66,178.99 661.58,178.77 662.49,178.89 663.4,179.06 664.31,179.34 665.23,179.41 666.14,179.61 667.05,179.59 667.96,179.47 668.88,179.54 669.79,179.8 670.7,179.98" fill="none" stroke="#159a58" stroke-width="1.5" stroke-linejoin="round" stroke-opacity="1"/>
<path d="M451.7,204.88 452.61,203.2 453.52,201.48 454.44,199.16 455.35,196.81 456.26,194.57 457.18,192.37 458.09,190.18 459,187.61 459.91,184.92 460.82,182.2 461.74,179.38 462.65,176.41 463.56,173.57 464.47,170.31 465.39,167.48 466.3,165.2 467.21,162.65 468.12,160.06 469.04,158.01 469.95,156.28 470.86,154.85 471.77,153.61 472.69,152.16 473.6,150.99 474.51,149.93 475.43,148.6 476.34,147.49 477.25,146.31 478.16,144.84 479.07,143.91 479.99,143.27 480.9,142.22 481.81,141.19 482.72,140.79 483.64,140.18 484.55,138.66 485.46,136.96 486.38,135.66 487.29,134.57 488.2,133.41 489.11,132.5 490.02,131.58 490.94,130.46 491.85,129.88 492.76,129.09 493.68,128.1 494.59,127.5 495.5,126.88 496.41,126.02 497.32,125.24 498.24,124.55 499.15,124.24 500.06,123.96 500.97,123.06 501.89,122.53 502.8,122.39 503.71,122.04 504.62,121.78 505.54,121.46 506.45,120.62 507.36,119.9 508.27,119.27 509.19,118.8 510.1,118.5 511.01,118.37 511.93,117.9 512.84,116.76 513.75,116.27 514.66,116.26 515.58,115.85 516.49,115.4 517.4,115.25 518.31,115.16 519.23,114.93 520.14,114.5 521.05,114.41 521.96,114.24 522.88,113.83 523.79,113.51 524.7,113.27 525.61,113.4 526.52,113.1 527.44,112.83 528.35,113.01 529.26,112.8 530.17,112.56 531.09,112.27 532,112.25 532.91,112.41 533.83,112.07 534.74,111.47 535.65,111.1 536.56,111.33 537.48,111.56 538.39,111.28 539.3,111.03 540.21,110.71 541.12,110.31 542.04,110.2 542.95,110.09 543.86,109.66 544.77,109.54 545.69,109.78 546.6,109.28 547.51,108.7 548.42,108.76 549.34,108.71 550.25,108.13 551.16,108.18 552.08,108.38 552.99,108.02 553.9,108.15 554.81,108.08 555.73,107.51 556.64,107.37 557.55,107.22 558.46,107.01 559.38,107.17 560.29,107.18 561.2,107.47 562.11,109.38 563.02,111.9 563.94,114.4 564.85,116.84 565.76,119.03 566.67,121.58 567.59,124.06 568.5,126.79 569.41,129.38 570.33,131.83 571.24,134.51 572.15,137.19 573.06,140.08 573.98,142.82 574.89,144.94 575.8,146.81 576.71,148.69 577.62,150.14 578.54,151.48 579.45,152.98 580.36,154.22 581.27,155.48 582.19,156.92 583.1,157.91 584.01,158.8 584.92,159.67 585.84,161.01 586.75,161.87 587.66,162.6 588.58,163.61 589.49,163.99 590.4,164.35 591.31,165.14 592.23,166.12 593.14,166.35 594.05,166.54 594.96,167.33 595.88,167.9 596.79,168.51 597.7,168.82 598.61,169.02 599.52,169.33 600.44,169.97 601.35,170.43 602.26,170.17 603.17,170.64 604.09,171.32 605,172 605.91,172.33 606.83,172.39 607.74,172.87 608.65,173.45 609.56,173.67 610.48,173.9 611.39,174.29 612.3,174.38 613.21,174.6 614.12,174.92 615.04,175.03 615.95,175.47 616.86,175.66 617.77,175.91 618.69,176.52 619.6,176.58 620.51,176.57 621.42,176.8 622.34,177.23 623.25,177.62 624.16,177.83 625.08,178.12 625.99,178.25 626.9,178.4 627.81,178.52 628.73,178.87 629.64,179.41 630.55,179.52 631.46,179.97 632.38,180.42 633.29,180.11 634.2,180.3 635.11,180.79 636.02,181.22 636.94,182.09 637.85,182.11 638.76,182.01 639.67,182.3 640.59,182.59 641.5,182.97 642.41,183.36 643.33,183.36 644.24,183.65 645.15,183.89 646.06,183.93 646.98,184.47 647.89,184.76 648.8,184.66 649.71,184.65 650.62,184.92 651.54,185.21 652.45,185.63 653.36,185.62 654.27,185.7 655.19,186.15 656.1,186.34 657.01,186.48 657.92,186.79 658.84,186.95 659.75,187.01 660.66,187.17 661.58,187.46 662.49,187.24 663.4,187.3 664.31,187.69 665.23,187.58 666.14,187.6 667.05,187.49 667.96,187.69 668.88,187.98 669.79,188.22 670.7,188.2" fill="none" stroke="#159a58" stroke-width="1.3" stroke-linejoin="round" stroke-opacity="1"/>
<path d="M451.7,204.93 452.61,202.32 453.52,199.94 454.44,197.39 455.35,194.5 456.26,191.54 457.18,188.6 458.09,185.84 459,183.03 459.91,180.11 460.82,177.37 461.74,174.12 462.65,170.31 463.56,166.75 464.47,163.31 465.39,159.71 466.3,156.59 467.21,153.52 468.12,150.19 469.04,147.56 469.95,145.4 470.86,142.67 471.77,139.77 472.69,137.2 473.6,134.85 474.51,132.66 475.43,130.62 476.34,128.65 477.25,126.65 478.16,124.74 479.07,122.79 479.99,120.5 480.9,118.53 481.81,116.97 482.72,115.11 483.64,113.42 484.55,111.67 485.46,109.79 486.38,108.59 487.29,107.44 488.2,105.88 489.11,104.54 490.02,103.32 490.94,101.97 491.85,100.34 492.76,99.22 493.68,98.52 494.59,97.43 495.5,96.48 496.41,95.72 497.32,94.51 498.24,93.13 499.15,92.61 500.06,91.89 500.97,90.64 501.89,90.02 502.8,89.57 503.71,88.76 504.62,88.15 505.54,87.52 506.45,86.6 507.36,86.05 508.27,85.67 509.19,84.92 510.1,84.24 511.01,83.72 511.93,83.51 512.84,82.85 513.75,82.07 514.66,81.62 515.58,80.84 516.49,80.41 517.4,80.03 518.31,79.59 519.23,79 520.14,78.24 521.05,77.65 521.96,77.39 522.88,77.16 523.79,76.92 524.7,76.54 525.61,76.16 526.52,76 527.44,75.55 528.35,74.8 529.26,74.3 530.17,74.01 531.09,74.13 532,73.92 532.91,73.59 533.83,73.52 534.74,73.33 535.65,73.12 536.56,72.58 537.48,72.14 538.39,71.9 539.3,71.69 540.21,71.32 541.12,71.01 542.04,71.05 542.95,70.51 543.86,70.02 544.77,69.86 545.69,69.57 546.6,69.57 547.51,69.28 548.42,69.03 549.34,68.56 550.25,68.35 551.16,68.24 552.08,67.9 552.99,67.76 553.9,67.02 554.81,66.64 555.73,66.84 556.64,66.99 557.55,66.83 558.46,66.51 559.38,66.17 560.29,66.3 561.2,67.35 562.11,69.23 563.02,72.01 563.94,75.22 564.85,78.62 565.76,81.99 566.67,84.69 567.59,87.23 568.5,89.94 569.41,92.3 570.33,95.08 571.24,97.7 572.15,100.12 573.06,102.96 573.98,105.67 574.89,108.15 575.8,110.42 576.71,112.47 577.62,114.36 578.54,116.56 579.45,118.68 580.36,120.51 581.27,122.48 582.19,124.68 583.1,126.66 584.01,128.55 584.92,130.55 585.84,132.65 586.75,134.71 587.66,136.6 588.58,137.81 589.49,138.85 590.4,140.58 591.31,141.97 592.23,143.03 593.14,144.51 594.05,145.64 594.96,146.28 595.88,147.14 596.79,148.32 597.7,149.49 598.61,150.12 599.52,150.77 600.44,151.85 601.35,152.85 602.26,153.39 603.17,154.08 604.09,154.9 605,155.14 605.91,155.58 606.83,156.45 607.74,156.94 608.65,157.07 609.56,157.61 610.48,158.54 611.39,159.31 612.3,159.35 613.21,159.97 614.12,160.59 615.04,160.79 615.95,161.59 616.86,162.03 617.77,162.31 618.69,162.44 619.6,162.97 620.51,163.49 621.42,163.48 622.34,164.47 623.25,165.4 624.16,165.7 625.08,165.9 625.99,166.29 626.9,167.09 627.81,167.54 628.73,167.73 629.64,167.76 630.55,168.17 631.46,168.45 632.38,168.64 633.29,169.41 634.2,169.92 635.11,170.28 636.02,170.8 636.94,171.48 637.85,172.04 638.76,172.08 639.67,172.39 640.59,172.6 641.5,172.68 642.41,173.24 643.33,173.41 644.24,173.52 645.15,173.79 646.06,174.13 646.98,174.84 647.89,174.97 648.8,175 649.71,175.22 650.62,175.24 651.54,175.41 652.45,176.01 653.36,176.76 654.27,176.81 655.19,176.55 656.1,176.78 657.01,177.03 657.92,177.23 658.84,177.51 659.75,177.61 660.66,177.84 661.58,177.88 662.49,177.89 663.4,177.88 664.31,178.03 665.23,178.22 666.14,178.41 667.05,178.61 667.96,178.78 668.88,179.11 669.79,179 670.7,178.91" fill="none" stroke="#111" stroke-width="1.4" stroke-linejoin="round" stroke-opacity="1"/>
<line x1="451.7" y1="204.7" x2="451.7" y2="198.7" stroke="#444" stroke-width="1"/>
<line x1="488.2" y1="204.7" x2="488.2" y2="198.7" stroke="#444" stroke-width="1"/>
<line x1="524.7" y1="204.7" x2="524.7" y2="198.7" stroke="#444" stroke-width="1"/>
<line x1="561.2" y1="204.7" x2="561.2" y2="198.7" stroke="#444" stroke-width="1"/>
<line x1="597.7" y1="204.7" x2="597.7" y2="198.7" stroke="#444" stroke-width="1"/>
<line x1="634.2" y1="204.7" x2="634.2" y2="198.7" stroke="#444" stroke-width="1"/>
<line x1="670.7" y1="204.7" x2="670.7" y2="198.7" stroke="#444" stroke-width="1"/>
<path d="M451.7,204.7 452.61,204.68 453.52,204.66 454.44,204.64 455.35,204.62 456.26,204.57 457.18,204.48 458.09,204.39 459,204.3 459.91,204.21 460.82,203.95 461.74,203.68 462.65,203.41 463.56,202.99 464.47,202.5 465.39,202 466.3,201.51 467.21,201.01 468.12,200.52 469.04,200.02 469.95,199.53 470.86,198.96 471.77,198.4 472.69,197.83 473.6,197.26 474.51,196.7 475.43,196.13 476.34,195.57 477.25,195 478.16,194.43 479.07,193.87 479.99,193.3 480.9,192.73 481.81,192.17 482.72,191.6 483.64,191.03 484.55,190.47 485.46,189.9 486.38,189.33 487.29,188.77 488.2,188.2 489.11,187.95 490.02,187.7 490.94,187.45 491.85,187.2 492.76,186.95 493.68,186.7 494.59,186.45 495.5,186.21 496.41,185.96 497.32,185.71 498.24,185.46 499.15,185.21 500.06,184.96 500.97,184.71 501.89,184.46 502.8,184.21 503.71,183.96 504.62,183.71 505.54,183.46 506.45,183.21 507.36,183.13 508.27,183.05 509.19,182.98 510.1,182.9 511.01,182.83 511.93,182.75 512.84,182.68 513.75,182.6 514.66,182.53 515.58,182.45 516.49,182.38 517.4,182.3 518.31,182.23 519.23,182.15 520.14,182.08 521.05,182 521.96,181.93 522.88,181.85 523.79,181.78 524.7,181.7 525.61,181.67 526.52,181.64 527.44,181.61 528.35,181.58 529.26,181.55 530.17,181.52 531.09,181.49 532,181.46 532.91,181.43 533.83,181.4 534.74,181.37 535.65,181.34 536.56,181.31 537.48,181.28 538.39,181.25 539.3,181.22 540.21,181.19 541.12,181.16 542.04,181.13 542.95,181.1 543.86,181.09 544.77,181.07 545.69,181.06 546.6,181.04 547.51,181.03 548.42,181.01 549.34,181 550.25,180.98 551.16,180.97 552.08,180.95 552.99,180.94 553.9,180.92 554.81,180.91 555.73,180.89 556.64,180.88 557.55,180.86 558.46,180.85 559.38,180.83 560.29,180.82 561.2,180.8 562.11,180.88 563.02,180.97 563.94,181.05 564.85,181.14 565.76,181.22 566.67,181.31 567.59,181.39 568.5,181.48 569.41,181.56 570.33,181.65 571.24,181.73 572.15,181.82 573.06,181.9 573.98,181.99 574.89,182.07 575.8,182.16 576.71,182.24 577.62,182.33 578.54,182.41 579.45,182.5 580.36,182.86 581.27,183.25 582.19,183.64 583.1,184.02 584.01,184.41 584.92,184.8 585.84,185.18 586.75,185.57 587.66,185.95 588.58,186.34 589.49,186.73 590.4,187.11 591.31,187.5 592.23,187.88 593.14,188.27 594.05,188.66 594.96,189.04 595.88,189.43 596.79,189.81 597.7,190.2 598.61,190.49 599.52,190.78 600.44,191.07 601.35,191.36 602.26,191.65 603.17,191.94 604.09,192.22 605,192.51 605.91,192.8 606.83,193.09 607.74,193.38 608.65,193.67 609.56,193.96 610.48,194.25 611.39,194.54 612.3,194.83 613.21,195.12 614.12,195.41 615.04,195.69 615.95,195.98 616.86,196.18 617.77,196.37 618.69,196.56 619.6,196.75 620.51,196.94 621.42,197.13 622.34,197.32 623.25,197.51 624.16,197.7 625.08,197.89 625.99,198.09 626.9,198.28 627.81,198.47 628.73,198.66 629.64,198.85 630.55,199.04 631.46,199.23 632.38,199.42 633.29,199.61 634.2,199.8 635.11,199.89 636.02,199.99 636.94,200.08 637.85,200.18 638.76,200.27 639.67,200.37 640.59,200.46 641.5,200.56 642.41,200.65 643.33,200.75 644.24,200.84 645.15,200.94 646.06,201.03 646.98,201.13 647.89,201.22 648.8,201.32 649.71,201.41 650.62,201.51 651.54,201.6 652.45,201.69 653.36,201.76 654.27,201.82 655.19,201.89 656.1,201.95 657.01,202.01 657.92,202.08 658.84,202.14 659.75,202.2 660.66,202.27 661.58,202.33 662.49,202.39 663.4,202.46 664.31,202.52 665.23,202.58 666.14,202.65 667.05,202.71 667.96,202.77 668.88,202.84 669.79,202.9 670.7,202.97" fill="none" stroke="#1434ff" stroke-width="3.8" stroke-linejoin="round" stroke-opacity="1"/>
<path d="M451.7,204.7 452.61,204.68 453.52,204.66 454.44,204.64 455.35,204.62 456.26,204.57 457.18,204.48 458.09,204.39 459,204.3 459.91,204.21 460.82,203.95 461.74,203.68 462.65,203.41 463.56,202.99 464.47,202.5 465.39,202 466.3,201.51 467.21,201.01 468.12,200.52 469.04,200.02 469.95,199.53 470.86,198.96 471.77,198.4 472.69,197.83 473.6,197.26 474.51,196.7 475.43,196.13 476.34,195.57 477.25,195 478.16,194.43 479.07,193.87 479.99,193.3 480.9,192.73 481.81,192.17 482.72,191.6 483.64,191.03 484.55,190.47 485.46,189.9 486.38,189.33 487.29,188.77 488.2,188.2 489.11,187.95 490.02,187.7 490.94,187.45 491.85,187.2 492.76,186.95 493.68,186.7 494.59,186.45 495.5,186.21 496.41,185.96 497.32,185.71 498.24,185.46 499.15,185.21 500.06,184.96 500.97,184.71 501.89,184.46 502.8,184.21 503.71,183.96 504.62,183.71 505.54,183.46 506.45,183.21 507.36,183.13 508.27,183.05 509.19,182.98 510.1,182.9 511.01,182.83 511.93,182.75 512.84,182.68 513.75,182.6 514.66,182.53 515.58,182.45 516.49,182.38 517.4,182.3 518.31,182.23 519.23,182.15 520.14,182.08 521.05,182 521.96,181.93 522.88,181.85 523.79,181.78 524.7,181.7 525.61,181.67 526.52,181.64 527.44,181.61 528.35,181.58 529.26,181.55 530.17,181.52 531.09,181.49 532,181.46 532.91,181.43 533.83,181.4 534.74,181.37 535.65,181.34 536.56,181.31 537.48,181.28 538.39,181.25 539.3,181.22 540.21,181.19 541.12,181.16 542.04,181.13 542.95,181.1 543.86,181.09 544.77,181.07 545.69,181.06 546.6,181.04 547.51,181.03 548.42,181.01 549.34,181 550.25,180.98 551.16,180.97 552.08,180.95 552.99,180.94 553.9,180.92 554.81,180.91 555.73,180.89 556.64,180.88 557.55,180.86 558.46,180.85 559.38,180.83 560.29,180.82 561.2,180.8 562.11,180.88 563.02,180.97 563.94,181.05 564.85,181.14 565.76,181.22 566.67,181.31 567.59,181.39 568.5,181.48 569.41,181.56 570.33,181.65 571.24,181.73 572.15,181.82 573.06,181.9 573.98,181.99 574.89,182.07 575.8,182.16 576.71,182.24 577.62,182.33 578.54,182.41 579.45,182.5 580.36,182.86 581.27,183.25 582.19,183.64 583.1,184.02 584.01,184.41 584.92,184.8 585.84,185.18 586.75,185.57 587.66,185.95 588.58,186.34 589.49,186.73 590.4,187.11 591.31,187.5 592.23,187.88 593.14,188.27 594.05,188.66 594.96,189.04 595.88,189.43 596.79,189.81 597.7,190.2 598.61,190.49 599.52,190.78 600.44,191.07 601.35,191.36 602.26,191.65 603.17,191.94 604.09,192.22 605,192.51 605.91,192.8 606.83,193.09 607.74,193.38 608.65,193.67 609.56,193.96 610.48,194.25 611.39,194.54 612.3,194.83 613.21,195.12 614.12,195.41 615.04,195.69 615.95,195.98 616.86,196.18 617.77,196.37 618.69,196.56 619.6,196.75 620.51,196.94 621.42,197.13 622.34,197.32 623.25,197.51 624.16,197.7 625.08,197.89 625.99,198.09 626.9,198.28 627.81,198.47 628.73,198.66 629.64,198.85 630.55,199.04 631.46,199.23 632.38,199.42 633.29,199.61 634.2,199.8 635.11,199.89 636.02,199.99 636.94,200.08 637.85,200.18 638.76,200.27 639.67,200.37 640.59,200.46 641.5,200.56 642.41,200.65 643.33,200.75 644.24,200.84 645.15,200.94 646.06,201.03 646.98,201.13 647.89,201.22 648.8,201.32 649.71,201.41 650.62,201.51 651.54,201.6 652.45,201.69 653.36,201.76 654.27,201.82 655.19,201.89 656.1,201.95 657.01,202.01 657.92,202.08 658.84,202.14 659.75,202.2 660.66,202.27 661.58,202.33 662.49,202.39 663.4,202.46 664.31,202.52 665.23,202.58 666.14,202.65 667.05,202.71 667.96,202.77 668.88,202.84 669.79,202.9 670.7,202.97" fill="none" stroke="#6a82ff" stroke-width="0.7" stroke-linejoin="round" stroke-opacity="0.8"/>
<path d="M451.7,204.49 452.61,204.02 453.52,203.48 454.44,203.08 455.35,203 456.26,203 457.18,202.99 458.09,202.99 459,202.99 459.91,202.99 460.82,202.98 461.74,202.98 462.65,202.98 463.56,202.98 464.47,202.98 465.39,202.97 466.3,202.97 467.21,202.97 468.12,202.97 469.04,202.97 469.95,202.96 470.86,202.96 471.77,202.96 472.69,202.96 473.6,202.96 474.51,202.96 475.43,202.95 476.34,202.95 477.25,202.95 478.16,202.95 479.07,202.95 479.99,202.95 480.9,202.94 481.81,202.94 482.72,202.94 483.64,202.94 484.55,202.94 485.46,202.94 486.38,202.94 487.29,202.93 488.2,202.93 489.11,202.93 490.02,202.93 490.94,202.93 491.85,202.93 492.76,202.93 493.68,202.93 494.59,202.93 495.5,202.92 496.41,202.92 497.32,202.92 498.24,202.92 499.15,202.92 500.06,202.92 500.97,202.92 501.89,202.92 502.8,202.92 503.71,202.92 504.62,202.92 505.54,202.92 506.45,202.91 507.36,202.91 508.27,202.91 509.19,202.91 510.1,202.91 511.01,202.91 511.93,202.91 512.84,202.91 513.75,202.91 514.66,202.91 515.58,202.91 516.49,202.91 517.4,202.91 518.31,202.91 519.23,202.91 520.14,202.91 521.05,202.91 521.96,202.91 522.88,202.91 523.79,202.9 524.7,202.9 525.61,202.9 526.52,202.9 527.44,202.9 528.35,202.9 529.26,202.9 530.17,202.9 531.09,202.9 532,202.9 532.91,202.9 533.83,202.9 534.74,202.9 535.65,202.9 536.56,202.9 537.48,202.9 538.39,202.9 539.3,202.9 540.21,202.9 541.12,202.9 542.04,202.9 542.95,202.9 543.86,202.9 544.77,202.9 545.69,202.9 546.6,202.9 547.51,202.9 548.42,202.9 549.34,202.9 550.25,202.9 551.16,202.9 552.08,202.9 552.99,202.9 553.9,202.9 554.81,202.9 555.73,202.9 556.64,202.9 557.55,202.9 558.46,202.9 559.38,202.9 560.29,202.94 561.2,203.39 562.11,204 563.02,204.3 563.94,204.31 564.85,204.31 565.76,204.32 566.67,204.33 567.59,204.34 568.5,204.34 569.41,204.35 570.33,204.35 571.24,204.36 572.15,204.37 573.06,204.37 573.98,204.38 574.89,204.39 575.8,204.39 576.71,204.4 577.62,204.4 578.54,204.41 579.45,204.41 580.36,204.42 581.27,204.42 582.19,204.43 583.1,204.43 584.01,204.44 584.92,204.44 585.84,204.45 586.75,204.45 587.66,204.46 588.58,204.46 589.49,204.47 590.4,204.47 591.31,204.47 592.23,204.48 593.14,204.48 594.05,204.49 594.96,204.49 595.88,204.49 596.79,204.5 597.7,204.5 598.61,204.5 599.52,204.51 600.44,204.51 601.35,204.51 602.26,204.52 603.17,204.52 604.09,204.52 605,204.53 605.91,204.53 606.83,204.53 607.74,204.53 608.65,204.54 609.56,204.54 610.48,204.54 611.39,204.54 612.3,204.55 613.21,204.55 614.12,204.55 615.04,204.55 615.95,204.56 616.86,204.56 617.77,204.56 618.69,204.56 619.6,204.56 620.51,204.57 621.42,204.57 622.34,204.57 623.25,204.57 624.16,204.57 625.08,204.57 625.99,204.57 626.9,204.58 627.81,204.58 628.73,204.58 629.64,204.58 630.55,204.58 631.46,204.58 632.38,204.58 633.29,204.58 634.2,204.59 635.11,204.59 636.02,204.59 636.94,204.59 637.85,204.59 638.76,204.59 639.67,204.59 640.59,204.59 641.5,204.59 642.41,204.59 643.33,204.59 644.24,204.59 645.15,204.59 646.06,204.59 646.98,204.6 647.89,204.6 648.8,204.6 649.71,204.6 650.62,204.6 651.54,204.6 652.45,204.6 653.36,204.6 654.27,204.6 655.19,204.6 656.1,204.6 657.01,204.6 657.92,204.6 658.84,204.6 659.75,204.6 660.66,204.6 661.58,204.6 662.49,204.6 663.4,204.6 664.31,204.6 665.23,204.6 666.14,204.6 667.05,204.6 667.96,204.6 668.88,204.6 669.79,204.6 670.7,204.6" fill="none" stroke="#f42b8f" stroke-width="2.0" stroke-linejoin="round" stroke-opacity="1"/>
<text x="543" y="239.7" text-anchor="middle" font-size="15.5" stroke="#000" stroke-width="0.2" textLength="74" lengthAdjust="spacingAndGlyphs">Time [min]</text>
<text transform="translate(368.2,187.4) rotate(-90)" x="0" y="0" font-size="15.5" stroke="#000" stroke-width="0.2" textLength="141" lengthAdjust="spacingAndGlyphs">Concentrations [µM]</text>
<text x="354.8" y="15.8" font-size="17.5" stroke="#000" stroke-width="0.45" textLength="60.3" lengthAdjust="spacingAndGlyphs">b. Meb</text>
<path d="M235.1,298.8 L235.1,475.4 L500,475.4" fill="none" stroke="#727272" stroke-width="1.5"/>
<line x1="235.1" y1="299.36" x2="241.1" y2="299.36" stroke="#727272" stroke-width="1.3"/>
<line x1="235.1" y1="343.37" x2="241.1" y2="343.37" stroke="#727272" stroke-width="1.3"/>
<line x1="235.1" y1="387.38" x2="241.1" y2="387.38" stroke="#727272" stroke-width="1.3"/>
<line x1="235.1" y1="431.39" x2="241.1" y2="431.39" stroke="#727272" stroke-width="1.3"/>
<text x="233.2" y="305.26" text-anchor="end" font-size="16" stroke="#000" stroke-width="0.2">1'200</text>
<text x="233.2" y="349.27" text-anchor="end" font-size="16" stroke="#000" stroke-width="0.2">900</text>
<text x="233.2" y="393.28" text-anchor="end" font-size="16" stroke="#000" stroke-width="0.2">600</text>
<text x="233.2" y="437.29" text-anchor="end" font-size="16" stroke="#000" stroke-width="0.2">300</text>
<text x="273.5" y="491.2" text-anchor="middle" font-size="16" stroke="#000" stroke-width="0.2">45</text>
<text x="311.2" y="491.2" text-anchor="middle" font-size="16" stroke="#000" stroke-width="0.2">55</text>
<text x="348.9" y="491.2" text-anchor="middle" font-size="16" stroke="#000" stroke-width="0.2">65</text>
<text x="386.6" y="491.2" text-anchor="middle" font-size="16" stroke="#000" stroke-width="0.2">75</text>
<text x="424.3" y="491.2" text-anchor="middle" font-size="16" stroke="#000" stroke-width="0.2">85</text>
<text x="462" y="491.2" text-anchor="middle" font-size="16" stroke="#000" stroke-width="0.2">95</text>
<text x="499.7" y="491.2" text-anchor="middle" font-size="16" stroke="#000" stroke-width="0.2">105</text>
<path d="M273.5,475.11 274.44,474.03 275.38,472.46 276.33,471.07 277.27,469.8 278.21,468.55 279.15,467.47 280.1,466.62 281.04,465.58 281.98,464.1 282.93,462.95 283.87,461.96 284.81,460.94 285.75,460.51 286.69,459.51 287.64,457.86 288.58,456.18 289.52,454.8 290.46,453.68 291.41,453.11 292.35,452.24 293.29,450.97 294.24,449.91 295.18,448.82 296.12,448.23 297.06,446.95 298,445.42 298.95,444.31 299.89,443.53 300.83,442.4 301.77,440.82 302.72,439.66 303.66,438.53 304.6,437.94 305.55,437.88 306.49,436.46 307.43,435.01 308.37,434.29 309.31,432.74 310.26,431.59 311.2,430.78 312.14,429.67 313.08,429.2 314.03,427.88 314.97,426.49 315.91,426.06 316.86,424.82 317.8,423.78 318.74,423.16 319.68,422.17 320.62,421.07 321.57,420.22 322.51,418.62 323.45,417.84 324.39,417.93 325.34,416.83 326.28,415.53 327.22,413.95 328.17,412.69 329.11,411.85 330.05,410.75 330.99,410.21 331.94,409.17 332.88,407.9 333.82,406.63 334.76,405.63 335.7,405.13 336.65,403.99 337.59,402.78 338.53,402.42 339.48,401.28 340.42,399.52 341.36,398.6 342.3,398.14 343.25,397.84 344.19,396.59 345.13,394.86 346.07,393.64 347.01,393.06 347.96,391.9 348.9,390.97 349.84,390.51 350.78,389.13 351.73,387.9 352.67,387.03 353.61,386.22 354.56,384.73 355.5,383.6 356.44,382.72 357.38,381.19 358.32,380.27 359.27,379.36 360.21,378.04 361.15,376.64 362.1,375.6 363.04,375.31 363.98,374.99 364.92,373.73 365.87,372.48 366.81,371.14 367.75,369.76 368.69,368.9 369.63,367.59 370.58,366.21 371.52,365.44 372.46,364.55 373.4,363.19 374.35,362.3 375.29,361.43 376.23,360.52 377.18,359.52 378.12,358.11 379.06,357.07 380,356.03 380.94,354.75 381.89,353.62 382.83,352.9 383.77,352.08 384.72,351.13 385.66,349.46 386.6,350.29 387.54,352.13 388.49,353.31 389.43,353.7 390.37,353.78 391.31,354.29 392.25,354.62 393.2,354.25 394.14,354.64 395.08,355.27 396.02,354.86 396.97,354.89 397.91,354.92 398.85,355.05 399.8,355.24 400.74,354.82 401.68,354.83 402.62,354.89 403.56,355.08 404.51,355.36 405.45,355.36 406.39,355.22 407.34,354.33 408.28,354.53 409.22,355 410.16,355.07 411.11,355.86 412.05,355.9 412.99,355.55 413.93,355.47 414.88,355.56 415.82,355.5 416.76,355.41 417.7,355.35 418.64,355.82 419.59,356.08 420.53,356.05 421.47,356.02 422.41,355.83 423.36,355.87 424.3,355.99 425.24,356.26 426.19,356.23 427.13,355.87 428.07,355.64 429.01,356.24 429.96,356.39 430.9,355.93 431.84,356.39 432.78,356.76 433.73,356.56 434.67,356.22 435.61,356.71 436.55,356.96 437.5,356.56 438.44,356.48 439.38,356.05 440.32,355.84 441.26,356.37 442.21,356.88 443.15,356.81 444.09,356.51 445.03,356.3 445.98,356.61 446.92,356.7 447.86,357.11 448.81,357.87 449.75,358.45 450.69,358.49 451.63,357.74 452.57,357.41 453.52,356.79 454.46,356.96 455.4,357.88 456.35,358.37 457.29,358.66 458.23,358.66 459.17,358.65 460.12,358.75 461.06,359.14 462,358.78 462.94,358.37 463.88,358.36 464.83,358.95 465.77,359.69 466.71,359.54 467.65,358.99 468.6,358.91 469.54,359.21 470.48,359.26 471.43,359.33 472.37,359.51 473.31,359.52 474.25,359.67 475.19,359.89 476.14,359.67 477.08,359.64 478.02,359.66 478.97,359.96 479.91,360.06 480.85,359.99 481.79,360.02 482.74,359.63 483.68,360.01 484.62,360.17 485.56,360.17 486.5,360.6 487.45,360.07 488.39,359.78 489.33,360.11 490.27,360.2 491.22,360.08 492.16,360.52 493.1,360.8 494.04,360.76 494.99,360.76 495.93,360.78 496.87,360.75 497.81,360.71 498.76,361.08 499.7,361.14 499.7,335.1 498.76,334.72 497.81,333.31 496.87,333.37 495.93,336.3 494.99,335.87 494.04,333.51 493.1,334.49 492.16,332.59 491.22,333.42 490.27,333.35 489.33,333.65 488.39,330.9 487.45,335.45 486.5,335.29 485.56,333.11 484.62,334.86 483.68,333.11 482.74,331.12 481.79,333.24 480.85,333.42 479.91,335.32 478.97,334.87 478.02,332.17 477.08,332.96 476.14,332.82 475.19,333.54 474.25,334.75 473.31,332.67 472.37,333.5 471.43,332.85 470.48,332.57 469.54,333.92 468.6,332.6 467.65,332.38 466.71,334.38 465.77,332.31 464.83,332.34 463.88,331.43 462.94,332.52 462,331.89 461.06,331.47 460.12,331.19 459.17,333.39 458.23,332.86 457.29,331.33 456.35,331.75 455.4,331.76 454.46,331.8 453.52,329.67 452.57,330.32 451.63,331.07 450.69,333.67 449.75,330.17 448.81,332.64 447.86,332.38 446.92,330.75 445.98,329.78 445.03,330.8 444.09,330.35 443.15,330.08 442.21,331.95 441.26,329.63 440.32,328.4 439.38,330.11 438.44,330.95 437.5,329.27 436.55,330.7 435.61,328.63 434.67,328.89 433.73,329.41 432.78,329.59 431.84,329.01 430.9,332.74 429.96,330.35 429.01,330.3 428.07,327.86 427.13,330.71 426.19,329.51 425.24,327.21 424.3,329.16 423.36,328.37 422.41,328.83 421.47,329.43 420.53,327.66 419.59,329.64 418.64,327.46 417.7,326.92 416.76,328.75 415.82,329.1 414.88,329.45 413.93,328.38 412.99,328.89 412.05,329.19 411.11,327.52 410.16,328.57 409.22,327.01 408.28,326.24 407.34,327.87 406.39,327.93 405.45,327.09 404.51,328.64 403.56,327.32 402.62,328.67 401.68,327.05 400.74,326.49 399.8,326.18 398.85,328.19 397.91,326.71 396.97,328.12 396.02,326.19 395.08,326.71 394.14,327.21 393.2,325.12 392.25,326.78 391.31,327.25 390.37,326.9 389.43,327.95 388.49,328 387.54,325.01 386.6,324.42 385.66,323.35 384.72,322.65 383.77,327.75 382.83,327.37 381.89,326.96 380.94,329.59 380,329.86 379.06,330.47 378.12,332.98 377.18,333.9 376.23,333.15 375.29,337.13 374.35,336.43 373.4,340.51 372.46,338.52 371.52,340.8 370.58,344.21 369.63,344.09 368.69,345.5 367.75,346.13 366.81,349.84 365.87,350.23 364.92,348.91 363.98,352.47 363.04,352.1 362.1,354.48 361.15,353.83 360.21,353.99 359.27,358.13 358.32,358.61 357.38,360.55 356.44,361.16 355.5,361.17 354.56,365.38 353.61,365.32 352.67,365.26 351.73,367.26 350.78,368.07 349.84,370.06 348.9,370.26 347.96,371.35 347.01,373.1 346.07,374.27 345.13,375.61 344.19,377.32 343.25,378.28 342.3,379.98 341.36,379.78 340.42,381.42 339.48,383.38 338.53,384.78 337.59,384.65 336.65,387.11 335.7,388.02 334.76,389.12 333.82,390.46 332.88,392.65 331.94,392.61 330.99,394.15 330.05,394.48 329.11,396.8 328.17,398.08 327.22,398.71 326.28,400.9 325.34,402.44 324.39,403.62 323.45,403.82 322.51,403.89 321.57,406.02 320.62,407.1 319.68,408.14 318.74,410.58 317.8,409.87 316.86,411.33 315.91,413.7 314.97,414.13 314.03,416 313.08,418.76 312.14,418.87 311.2,420.35 310.26,422.36 309.31,423.31 308.37,425.69 307.43,426.19 306.49,427.51 305.55,429.11 304.6,429.41 303.66,430.17 302.72,431.61 301.77,432.56 300.83,434.12 299.89,435.62 298.95,436.5 298,438.04 297.06,439.59 296.12,440.67 295.18,441.74 294.24,443.25 293.29,444.76 292.35,445.84 291.41,447 290.46,447.55 289.52,448.94 288.58,450.62 287.64,452.34 286.69,453.8 285.75,455.42 284.81,455.85 283.87,457.57 282.93,458.18 281.98,459.54 281.04,461.36 280.1,462.2 279.15,463.63 278.21,465.19 277.27,466.72 276.33,468.36 275.38,470.36 274.44,472.84 273.5,474.89Z" fill="#c4c4c4"/>
<path d="M273.5 475.11V474.89M274.44 474.03V472.84M275.38 472.46V470.36M276.33 471.07V468.36M277.27 469.8V466.72M278.21 468.55V465.19M279.15 467.47V463.63M280.1 466.62V462.2M281.04 465.58V461.36M281.98 464.1V459.54M282.93 462.95V458.18M283.87 461.96V457.57M284.81 460.94V455.85M285.75 460.51V455.42M286.69 459.51V453.8M287.64 457.86V452.34M288.58 456.18V450.62M289.52 454.8V448.94M290.46 453.68V447.55M291.41 453.11V447M292.35 452.24V445.84M293.29 450.97V444.76M294.24 449.91V443.25M295.18 448.82V441.74M296.12 448.23V440.67M297.06 446.95V439.59M298 445.42V438.04M298.95 444.31V436.5M299.89 443.53V435.62M300.83 442.4V434.12M301.77 440.82V432.56M302.72 439.66V431.61M303.66 438.53V430.17M304.6 437.94V429.41M305.55 437.88V429.11M306.49 436.46V427.51M307.43 435.01V426.19M308.37 434.29V425.69M309.31 432.74V423.31M310.26 431.59V422.36M311.2 430.78V420.35M312.14 429.67V418.87M313.08 429.2V418.76M314.03 427.88V416M314.97 426.49V414.13M315.91 426.06V413.7M316.86 424.82V411.33M317.8 423.78V409.87M318.74 423.16V410.58M319.68 422.17V408.14M320.62 421.07V407.1M321.57 420.22V406.02M322.51 418.62V403.89M323.45 417.84V403.82M324.39 417.93V403.62M325.34 416.83V402.44M326.28 415.53V400.9M327.22 413.95V398.71M328.17 412.69V398.08M329.11 411.85V396.8M330.05 410.75V394.48M330.99 410.21V394.15M331.94 409.17V392.61M332.88 407.9V392.65M333.82 406.63V390.46M334.76 405.63V389.12M335.7 405.13V388.02M336.65 403.99V387.11M337.59 402.78V384.65M338.53 402.42V384.78M339.48 401.28V383.38M340.42 399.52V381.42M341.36 398.6V379.78M342.3 398.14V379.98M343.25 397.84V378.28M344.19 396.59V377.32M345.13 394.86V375.61M346.07 393.64V374.27M347.01 393.06V373.1M347.96 391.9V371.35M348.9 390.97V370.26M349.84 390.51V370.06M350.78 389.13V368.07M351.73 387.9V367.26M352.67 387.03V365.26M353.61 386.22V365.32M354.56 384.73V365.38M355.5 383.6V361.17M356.44 382.72V361.16M357.38 381.19V360.55M358.32 380.27V358.61M359.27 379.36V358.13M360.21 378.04V353.99M361.15 376.64V353.83M362.1 375.6V354.48M363.04 375.31V352.1M363.98 374.99V352.47M364.92 373.73V348.91M365.87 372.48V350.23M366.81 371.14V349.84M367.75 369.76V346.13M368.69 368.9V345.5M369.63 367.59V344.09M370.58 366.21V344.21M371.52 365.44V340.8M372.46 364.55V338.52M373.4 363.19V340.51M374.35 362.3V336.43M375.29 361.43V337.13M376.23 360.52V333.15M377.18 359.52V333.9M378.12 358.11V332.98M379.06 357.07V330.47M380 356.03V329.86M380.94 354.75V329.59M381.89 353.62V326.96M382.83 352.9V327.37M383.77 352.08V327.75M384.72 351.13V322.65M385.66 349.46V323.35M386.6 350.29V324.42M387.54 352.13V325.01M388.49 353.31V328M389.43 353.7V327.95M390.37 353.78V326.9M391.31 354.29V327.25M392.25 354.62V326.78M393.2 354.25V325.12M394.14 354.64V327.21M395.08 355.27V326.71M396.02 354.86V326.19M396.97 354.89V328.12M397.91 354.92V326.71M398.85 355.05V328.19M399.8 355.24V326.18M400.74 354.82V326.49M401.68 354.83V327.05M402.62 354.89V328.67M403.56 355.08V327.32M404.51 355.36V328.64M405.45 355.36V327.09M406.39 355.22V327.93M407.34 354.33V327.87M408.28 354.53V326.24M409.22 355V327.01M410.16 355.07V328.57M411.11 355.86V327.52M412.05 355.9V329.19M412.99 355.55V328.89M413.93 355.47V328.38M414.88 355.56V329.45M415.82 355.5V329.1M416.76 355.41V328.75M417.7 355.35V326.92M418.64 355.82V327.46M419.59 356.08V329.64M420.53 356.05V327.66M421.47 356.02V329.43M422.41 355.83V328.83M423.36 355.87V328.37M424.3 355.99V329.16M425.24 356.26V327.21M426.19 356.23V329.51M427.13 355.87V330.71M428.07 355.64V327.86M429.01 356.24V330.3M429.96 356.39V330.35M430.9 355.93V332.74M431.84 356.39V329.01M432.78 356.76V329.59M433.73 356.56V329.41M434.67 356.22V328.89M435.61 356.71V328.63M436.55 356.96V330.7M437.5 356.56V329.27M438.44 356.48V330.95M439.38 356.05V330.11M440.32 355.84V328.4M441.26 356.37V329.63M442.21 356.88V331.95M443.15 356.81V330.08M444.09 356.51V330.35M445.03 356.3V330.8M445.98 356.61V329.78M446.92 356.7V330.75M447.86 357.11V332.38M448.81 357.87V332.64M449.75 358.45V330.17M450.69 358.49V333.67M451.63 357.74V331.07M452.57 357.41V330.32M453.52 356.79V329.67M454.46 356.96V331.8M455.4 357.88V331.76M456.35 358.37V331.75M457.29 358.66V331.33M458.23 358.66V332.86M459.17 358.65V333.39M460.12 358.75V331.19M461.06 359.14V331.47M462 358.78V331.89M462.94 358.37V332.52M463.88 358.36V331.43M464.83 358.95V332.34M465.77 359.69V332.31M466.71 359.54V334.38M467.65 358.99V332.38M468.6 358.91V332.6M469.54 359.21V333.92M470.48 359.26V332.57M471.43 359.33V332.85M472.37 359.51V333.5M473.31 359.52V332.67M474.25 359.67V334.75M475.19 359.89V333.54M476.14 359.67V332.82M477.08 359.64V332.96M478.02 359.66V332.17M478.97 359.96V334.87M479.91 360.06V335.32M480.85 359.99V333.42M481.79 360.02V333.24M482.74 359.63V331.12M483.68 360.01V333.11M484.62 360.17V334.86M485.56 360.17V333.11M486.5 360.6V335.29M487.45 360.07V335.45M488.39 359.78V330.9M489.33 360.11V333.65M490.27 360.2V333.35M491.22 360.08V333.42M492.16 360.52V332.59M493.1 360.8V334.49M494.04 360.76V333.51M494.99 360.76V335.87M495.93 360.78V336.3M496.87 360.75V333.37M497.81 360.71V333.31M498.76 361.08V334.72M499.7 361.14V335.1" stroke="#c4c4c4" stroke-width="1.0" fill="none"/>
<path d="M278.66 469.55V464.19M283.38 463.95V457.18M288.09 458.86V451.34M292.8 453.24V444.84M297.51 447.95V438.59M302.22 441.82V431.56M306.94 437.46V426.51M311.65 431.78V419.35M316.36 427.06V412.7M321.07 422.07V406.1M325.79 417.83V401.44M330.5 411.75V393.48M335.21 406.63V388.12M339.93 402.28V382.38M344.64 397.59V376.32M349.35 391.97V369.26M354.06 387.22V364.32M358.77 381.27V357.61M363.49 376.31V351.1M368.2 370.76V345.13M372.91 365.55V337.52M377.62 360.52V332.9M382.34 354.62V325.96M387.05 351.29V323.42M391.76 355.29V326.25M396.47 355.86V325.19M401.19 355.82V325.49M405.9 356.36V326.09M410.61 356.07V327.57M415.32 356.56V328.45M420.04 357.08V328.64M424.75 356.99V328.16M429.46 357.24V329.3M434.18 357.56V328.41M438.89 357.48V329.95M443.6 357.81V329.08M448.31 358.11V331.38M453.02 358.41V329.32M457.74 359.66V330.33M462.45 359.78V330.89M467.16 360.54V333.38M471.88 360.33V331.85M476.59 360.67V331.82M481.3 360.99V332.42M486.01 361.17V332.11M490.72 361.2V332.35M495.44 361.76V334.87M500.15 362.14V334.1" stroke="#cecece" stroke-width="0.7" fill="none"/>
<path d="M271.9 474.89h3.2M272.84 472.84h3.2M273.78 470.36h3.2M274.73 468.36h3.2M275.67 466.72h3.2M276.61 465.19h3.2M277.55 463.63h3.2M278.5 462.2h3.2M279.44 461.36h3.2M280.38 459.54h3.2M281.32 458.18h3.2M282.27 457.57h3.2M283.21 455.85h3.2M284.15 455.42h3.2M285.09 453.8h3.2M286.04 452.34h3.2M286.98 450.62h3.2M287.92 448.94h3.2M288.86 447.55h3.2M289.81 447h3.2M290.75 445.84h3.2M291.69 444.76h3.2M292.63 443.25h3.2M293.58 441.74h3.2M294.52 440.67h3.2M295.46 439.59h3.2M296.4 438.04h3.2M297.35 436.5h3.2M298.29 435.62h3.2M299.23 434.12h3.2M300.17 432.56h3.2M301.12 431.61h3.2M302.06 430.17h3.2M303 429.41h3.2M303.94 429.11h3.2M304.89 427.51h3.2M305.83 426.19h3.2M306.77 425.69h3.2M307.71 423.31h3.2M308.66 422.36h3.2M309.6 420.35h3.2M310.54 418.87h3.2M311.48 418.76h3.2M312.43 416h3.2M313.37 414.13h3.2M314.31 413.7h3.2M315.25 411.33h3.2M316.2 409.87h3.2M317.14 410.58h3.2M318.08 408.14h3.2M319.02 407.1h3.2M319.97 406.02h3.2M320.91 403.89h3.2M321.85 403.82h3.2M322.79 403.62h3.2M323.74 402.44h3.2M324.68 400.9h3.2M325.62 398.71h3.2M326.56 398.08h3.2M327.51 396.8h3.2M328.45 394.48h3.2M329.39 394.15h3.2M330.33 392.61h3.2M331.28 392.65h3.2M332.22 390.46h3.2M333.16 389.12h3.2M334.1 388.02h3.2M335.05 387.11h3.2M335.99 384.65h3.2M336.93 384.78h3.2M337.88 383.38h3.2M338.82 381.42h3.2M339.76 379.78h3.2M340.7 379.98h3.2M341.64 378.28h3.2M342.59 377.32h3.2M343.53 375.61h3.2M344.47 374.27h3.2M345.41 373.1h3.2M346.36 371.35h3.2M347.3 370.26h3.2M348.24 370.06h3.2M349.18 368.07h3.2M350.13 367.26h3.2M351.07 365.26h3.2M352.01 365.32h3.2M352.95 365.38h3.2M353.9 361.17h3.2M354.84 361.16h3.2M355.78 360.55h3.2M356.72 358.61h3.2M357.67 358.13h3.2M358.61 353.99h3.2M359.55 353.83h3.2M360.5 354.48h3.2M361.44 352.1h3.2M362.38 352.47h3.2M363.32 348.91h3.2M364.26 350.23h3.2M365.21 349.84h3.2M366.15 346.13h3.2M367.09 345.5h3.2M368.03 344.09h3.2M368.98 344.21h3.2M369.92 340.8h3.2M370.86 338.52h3.2M371.8 340.51h3.2M372.75 336.43h3.2M373.69 337.13h3.2M374.63 333.15h3.2M375.57 333.9h3.2M376.52 332.98h3.2M377.46 330.47h3.2M378.4 329.86h3.2M379.34 329.59h3.2M380.29 326.96h3.2M381.23 327.37h3.2M382.17 327.75h3.2M383.12 322.65h3.2M384.06 323.35h3.2M385 324.42h3.2M385.94 325.01h3.2M386.88 328h3.2M387.83 327.95h3.2M388.77 326.9h3.2M389.71 327.25h3.2M390.65 326.78h3.2M391.6 325.12h3.2M392.54 327.21h3.2M393.48 326.71h3.2M394.42 326.19h3.2M395.37 328.12h3.2M396.31 326.71h3.2M397.25 328.19h3.2M398.19 326.18h3.2M399.14 326.49h3.2M400.08 327.05h3.2M401.02 328.67h3.2M401.96 327.32h3.2M402.91 328.64h3.2M403.85 327.09h3.2M404.79 327.93h3.2M405.74 327.87h3.2M406.68 326.24h3.2M407.62 327.01h3.2M408.56 328.57h3.2M409.5 327.52h3.2M410.45 329.19h3.2M411.39 328.89h3.2M412.33 328.38h3.2M413.27 329.45h3.2M414.22 329.1h3.2M415.16 328.75h3.2M416.1 326.92h3.2M417.04 327.46h3.2M417.99 329.64h3.2M418.93 327.66h3.2M419.87 329.43h3.2M420.81 328.83h3.2M421.76 328.37h3.2M422.7 329.16h3.2M423.64 327.21h3.2M424.58 329.51h3.2M425.53 330.71h3.2M426.47 327.86h3.2M427.41 330.3h3.2M428.36 330.35h3.2M429.3 332.74h3.2M430.24 329.01h3.2M431.18 329.59h3.2M432.12 329.41h3.2M433.07 328.89h3.2M434.01 328.63h3.2M434.95 330.7h3.2M435.89 329.27h3.2M436.84 330.95h3.2M437.78 330.11h3.2M438.72 328.4h3.2M439.66 329.63h3.2M440.61 331.95h3.2M441.55 330.08h3.2M442.49 330.35h3.2M443.43 330.8h3.2M444.38 329.78h3.2M445.32 330.75h3.2M446.26 332.38h3.2M447.2 332.64h3.2M448.15 330.17h3.2M449.09 333.67h3.2M450.03 331.07h3.2M450.97 330.32h3.2M451.92 329.67h3.2M452.86 331.8h3.2M453.8 331.76h3.2M454.75 331.75h3.2M455.69 331.33h3.2M456.63 332.86h3.2M457.57 333.39h3.2M458.51 331.19h3.2M459.46 331.47h3.2M460.4 331.89h3.2M461.34 332.52h3.2M462.28 331.43h3.2M463.23 332.34h3.2M464.17 332.31h3.2M465.11 334.38h3.2M466.05 332.38h3.2M467 332.6h3.2M467.94 333.92h3.2M468.88 332.57h3.2M469.82 332.85h3.2M470.77 333.5h3.2M471.71 332.67h3.2M472.65 334.75h3.2M473.59 333.54h3.2M474.54 332.82h3.2M475.48 332.96h3.2M476.42 332.17h3.2M477.37 334.87h3.2M478.31 335.32h3.2M479.25 333.42h3.2M480.19 333.24h3.2M481.13 331.12h3.2M482.08 333.11h3.2M483.02 334.86h3.2M483.96 333.11h3.2M484.9 335.29h3.2M485.85 335.45h3.2M486.79 330.9h3.2M487.73 333.65h3.2M488.67 333.35h3.2M489.62 333.42h3.2M490.56 332.59h3.2M491.5 334.49h3.2M492.44 333.51h3.2M493.39 335.87h3.2M494.33 336.3h3.2M495.27 333.37h3.2M496.21 333.31h3.2M497.16 334.72h3.2M498.1 335.1h3.2" stroke="#c4c4c4" stroke-width="1" fill="none"/>
<path d="M273.5,474.89 274.44,473.98 275.38,473.58 276.33,473.15 277.27,472.12 278.21,471.26 279.15,470.59 280.1,469.8 281.04,468.89 281.98,467.63 282.93,466.71 283.87,466.67 284.81,465.53 285.75,464.05 286.69,463.49 287.64,462.83 288.58,461.83 289.52,460.24 290.46,459.24 291.41,458.37 292.35,457.04 293.29,456.45 294.24,455.54 295.18,454.56 296.12,454.36 297.06,453.28 298,451.6 298.95,450.1 299.89,448.67 300.83,447.55 301.77,446.49 302.72,445.4 303.66,444.3 304.6,443.45 305.55,442.31 306.49,440.96 307.43,439.83 308.37,439.27 309.31,438.6 310.26,437.72 311.2,436.95 312.14,435.59 313.08,434.48 314.03,433.19 314.97,432.58 315.91,432.23 316.86,430.59 317.8,429 318.74,428.14 319.68,426.96 320.62,425.67 321.57,425.32 322.51,424.53 323.45,423.22 324.39,422.44 325.34,421.31 326.28,420.14 327.22,419.28 328.17,418 329.11,417.25 330.05,416.22 330.99,415.58 331.94,414.69 332.88,413.71 333.82,412.59 334.76,411.25 335.7,410.23 336.65,408.74 337.59,408.09 338.53,407.59 339.48,406.24 340.42,405.36 341.36,404.48 342.3,403.22 343.25,402.52 344.19,401.63 345.13,400.09 346.07,399.35 347.01,398.94 347.96,397.43 348.9,396.04 349.84,394.72 350.78,393.64 351.73,393.2 352.67,392.46 353.61,391.04 354.56,390 355.5,389.68 356.44,388.73 357.38,387.2 358.32,386.62 359.27,385.89 360.21,384.57 361.15,383.3 362.1,381.91 363.04,380.77 363.98,380.05 364.92,379.29 365.87,378.5 366.81,377.7 367.75,376.68 368.69,375.6 369.63,374.3 370.58,372.71 371.52,371.84 372.46,371.15 373.4,370.12 374.35,369.3 375.29,368.16 376.23,366.96 377.18,366.26 378.12,365.57 379.06,364.44 380,363.55 380.94,362.67 381.89,361.3 382.83,360.37 383.77,360.11 384.72,358.94 385.66,357.77 386.6,357.73 387.54,357.3 388.49,356.31 389.43,356.15 390.37,356.33 391.31,355.77 392.25,355.7 393.2,355.93 394.14,356.03 395.08,355.86 396.02,356.2 396.97,356.11 397.91,355.57 398.85,355.99 399.8,356.48 400.74,356.61 401.68,356.22 402.62,356.27 403.56,356.72 404.51,356.95 405.45,356.58 406.39,356.25 407.34,356.55 408.28,356.16 409.22,356.11 410.16,356.85 411.11,356.96 412.05,356.56 412.99,356.94 413.93,357.42 414.88,357.5 415.82,357.11 416.76,356.9 417.7,357.41 418.64,357.32 419.59,356.93 420.53,357.36 421.47,357.99 422.41,357.56 423.36,356.58 424.3,356.56 425.24,357.01 426.19,357.4 427.13,357.87 428.07,357.92 429.01,357.65 429.96,357.78 430.9,357.77 431.84,357.77 432.78,357.91 433.73,358.64 434.67,359.06 435.61,358.23 436.55,357.82 437.5,357.97 438.44,357.86 439.38,357.83 440.32,358.1 441.26,358.55 442.21,358.67 443.15,358.3 444.09,358.12 445.03,358.06 445.98,358.43 446.92,358.71 447.86,359.05 448.81,358.99 449.75,359.02 450.69,359.28 451.63,359.06 452.57,358.53 453.52,358.26 454.46,358.99 455.4,359.7 456.35,359.61 457.29,359.5 458.23,359.39 459.17,359.15 460.12,359.14 461.06,359.52 462,359.82 462.94,359.57 463.88,359.45 464.83,359.69 465.77,359.9 466.71,359.61 467.65,360 468.6,360.33 469.54,359.95 470.48,360.3 471.43,360.61 472.37,360.27 473.31,360.19 474.25,360 475.19,359.76 476.14,359.51 477.08,360.03 478.02,360.17 478.97,360.09 479.91,360.4 480.85,360.04 481.79,360.25 482.74,360.62 483.68,360.87 484.62,361.3 485.56,361.29 486.5,361.12 487.45,360.94 488.39,360.95 489.33,361.19 490.27,360.95 491.22,360.94 492.16,361.1 493.1,361.22 494.04,361.39 494.99,361.28 495.93,361.05 496.87,361.42 497.81,361.23 498.76,360.95 499.7,361.82 499.7,388.2 498.76,388.28 497.81,386.04 496.87,387.04 495.93,387.03 494.99,386.96 494.04,388.08 493.1,387.85 492.16,386.21 491.22,385.45 490.27,386.16 489.33,387.25 488.39,388.99 487.45,386.01 486.5,386.56 485.56,387.09 484.62,387.09 483.68,386.17 482.74,386.46 481.79,386.71 480.85,387.14 479.91,384.68 478.97,384.38 478.02,385.83 477.08,386.83 476.14,386.21 475.19,386.03 474.25,386.36 473.31,386.81 472.37,384.73 471.43,386.33 470.48,386.63 469.54,385.22 468.6,386.08 467.65,383.01 466.71,385.95 465.77,385.25 464.83,387.25 463.88,383.63 462.94,387.13 462,385.6 461.06,384.96 460.12,381.85 459.17,384.25 458.23,385.51 457.29,386.13 456.35,388.5 455.4,385.24 454.46,386.73 453.52,383.89 452.57,385.18 451.63,385.12 450.69,384.65 449.75,383.68 448.81,384.25 447.86,384.07 446.92,384.71 445.98,383.44 445.03,382.71 444.09,384.63 443.15,385.37 442.21,384.55 441.26,384.4 440.32,384.26 439.38,384.75 438.44,384.23 437.5,384.19 436.55,383.63 435.61,384.52 434.67,386.94 433.73,384.01 432.78,385.89 431.84,382.12 430.9,382.45 429.96,384 429.01,383.49 428.07,381.39 427.13,385.75 426.19,383.23 425.24,382.21 424.3,382.53 423.36,382.63 422.41,383.34 421.47,384.32 420.53,382.39 419.59,383.87 418.64,381.69 417.7,383.07 416.76,384.32 415.82,381.69 414.88,383.14 413.93,383.05 412.99,382.03 412.05,381.63 411.11,382.77 410.16,382.16 409.22,382.53 408.28,382.05 407.34,382.84 406.39,381.76 405.45,382.35 404.51,381.39 403.56,384.24 402.62,382.64 401.68,381.8 400.74,382.21 399.8,384.38 398.85,382.43 397.91,378.49 396.97,383 396.02,381.19 395.08,380.78 394.14,381.31 393.2,380.97 392.25,379.6 391.31,381.81 390.37,379.87 389.43,379.68 388.49,381.9 387.54,381.84 386.6,382.83 385.66,381.74 384.72,383.41 383.77,384.54 382.83,383.88 381.89,384.18 380.94,384.9 380,385.93 379.06,388.27 378.12,387.26 377.18,389.17 376.23,389.75 375.29,390.39 374.35,389.51 373.4,390.56 372.46,393.82 371.52,392.05 370.58,391.75 369.63,393.9 368.69,394.91 367.75,395.25 366.81,395.37 365.87,396.09 364.92,396.88 363.98,396.01 363.04,398.26 362.1,398.85 361.15,399.59 360.21,400.7 359.27,401.92 358.32,401.18 357.38,401.04 356.44,402.55 355.5,404.07 354.56,404.49 353.61,404.23 352.67,406.27 351.73,407.55 350.78,406.11 349.84,406.89 348.9,408.82 347.96,410.21 347.01,411.26 346.07,411.72 345.13,411.17 344.19,413.68 343.25,414.36 342.3,414.44 341.36,415.79 340.42,416.84 339.48,417.68 338.53,419.72 337.59,419.3 336.65,420.15 335.7,421.64 334.76,421.88 333.82,423.89 332.88,424.32 331.94,426.11 330.99,427.01 330.05,428.06 329.11,428.46 328.17,429.34 327.22,430.37 326.28,432.24 325.34,432.13 324.39,434.01 323.45,434.92 322.51,436.21 321.57,437.79 320.62,437.49 319.68,439.06 318.74,440.77 317.8,440.66 316.86,442.19 315.91,444.68 314.97,445.24 314.03,445.08 313.08,446.48 312.14,447.2 311.2,448.64 310.26,449.74 309.31,450.82 308.37,450.77 307.43,450.97 306.49,451.14 305.55,452.56 304.6,453.48 303.66,454.67 302.72,455.2 301.77,456.46 300.83,456.67 299.89,458.19 298.95,458.76 298,460.28 297.06,461.43 296.12,462.18 295.18,462.31 294.24,462.54 293.29,463.67 292.35,464.15 291.41,464.5 290.46,465.44 289.52,465.99 288.58,467.11 287.64,468.25 286.69,468.32 285.75,468.4 284.81,469.9 283.87,470.43 282.93,470.33 281.98,470.83 281.04,471.9 280.1,472.52 279.15,472.93 278.21,472.93 277.27,473.79 276.33,474.23 275.38,474.4 274.44,474.41 273.5,474.96Z" fill="#63be91"/>
<path d="M273.5 474.89V474.96M274.44 473.98V474.41M275.38 473.58V474.4M276.33 473.15V474.23M277.27 472.12V473.79M278.21 471.26V472.93M279.15 470.59V472.93M280.1 469.8V472.52M281.04 468.89V471.9M281.98 467.63V470.83M282.93 466.71V470.33M283.87 466.67V470.43M284.81 465.53V469.9M285.75 464.05V468.4M286.69 463.49V468.32M287.64 462.83V468.25M288.58 461.83V467.11M289.52 460.24V465.99M290.46 459.24V465.44M291.41 458.37V464.5M292.35 457.04V464.15M293.29 456.45V463.67M294.24 455.54V462.54M295.18 454.56V462.31M296.12 454.36V462.18M297.06 453.28V461.43M298 451.6V460.28M298.95 450.1V458.76M299.89 448.67V458.19M300.83 447.55V456.67M301.77 446.49V456.46M302.72 445.4V455.2M303.66 444.3V454.67M304.6 443.45V453.48M305.55 442.31V452.56M306.49 440.96V451.14M307.43 439.83V450.97M308.37 439.27V450.77M309.31 438.6V450.82M310.26 437.72V449.74M311.2 436.95V448.64M312.14 435.59V447.2M313.08 434.48V446.48M314.03 433.19V445.08M314.97 432.58V445.24M315.91 432.23V444.68M316.86 430.59V442.19M317.8 429V440.66M318.74 428.14V440.77M319.68 426.96V439.06M320.62 425.67V437.49M321.57 425.32V437.79M322.51 424.53V436.21M323.45 423.22V434.92M324.39 422.44V434.01M325.34 421.31V432.13M326.28 420.14V432.24M327.22 419.28V430.37M328.17 418V429.34M329.11 417.25V428.46M330.05 416.22V428.06M330.99 415.58V427.01M331.94 414.69V426.11M332.88 413.71V424.32M333.82 412.59V423.89M334.76 411.25V421.88M335.7 410.23V421.64M336.65 408.74V420.15M337.59 408.09V419.3M338.53 407.59V419.72M339.48 406.24V417.68M340.42 405.36V416.84M341.36 404.48V415.79M342.3 403.22V414.44M343.25 402.52V414.36M344.19 401.63V413.68M345.13 400.09V411.17M346.07 399.35V411.72M347.01 398.94V411.26M347.96 397.43V410.21M348.9 396.04V408.82M349.84 394.72V406.89M350.78 393.64V406.11M351.73 393.2V407.55M352.67 392.46V406.27M353.61 391.04V404.23M354.56 390V404.49M355.5 389.68V404.07M356.44 388.73V402.55M357.38 387.2V401.04M358.32 386.62V401.18M359.27 385.89V401.92M360.21 384.57V400.7M361.15 383.3V399.59M362.1 381.91V398.85M363.04 380.77V398.26M363.98 380.05V396.01M364.92 379.29V396.88M365.87 378.5V396.09M366.81 377.7V395.37M367.75 376.68V395.25M368.69 375.6V394.91M369.63 374.3V393.9M370.58 372.71V391.75M371.52 371.84V392.05M372.46 371.15V393.82M373.4 370.12V390.56M374.35 369.3V389.51M375.29 368.16V390.39M376.23 366.96V389.75M377.18 366.26V389.17M378.12 365.57V387.26M379.06 364.44V388.27M380 363.55V385.93M380.94 362.67V384.9M381.89 361.3V384.18M382.83 360.37V383.88M383.77 360.11V384.54M384.72 358.94V383.41M385.66 357.77V381.74M386.6 357.73V382.83M387.54 357.3V381.84M388.49 356.31V381.9M389.43 356.15V379.68M390.37 356.33V379.87M391.31 355.77V381.81M392.25 355.7V379.6M393.2 355.93V380.97M394.14 356.03V381.31M395.08 355.86V380.78M396.02 356.2V381.19M396.97 356.11V383M397.91 355.57V378.49M398.85 355.99V382.43M399.8 356.48V384.38M400.74 356.61V382.21M401.68 356.22V381.8M402.62 356.27V382.64M403.56 356.72V384.24M404.51 356.95V381.39M405.45 356.58V382.35M406.39 356.25V381.76M407.34 356.55V382.84M408.28 356.16V382.05M409.22 356.11V382.53M410.16 356.85V382.16M411.11 356.96V382.77M412.05 356.56V381.63M412.99 356.94V382.03M413.93 357.42V383.05M414.88 357.5V383.14M415.82 357.11V381.69M416.76 356.9V384.32M417.7 357.41V383.07M418.64 357.32V381.69M419.59 356.93V383.87M420.53 357.36V382.39M421.47 357.99V384.32M422.41 357.56V383.34M423.36 356.58V382.63M424.3 356.56V382.53M425.24 357.01V382.21M426.19 357.4V383.23M427.13 357.87V385.75M428.07 357.92V381.39M429.01 357.65V383.49M429.96 357.78V384M430.9 357.77V382.45M431.84 357.77V382.12M432.78 357.91V385.89M433.73 358.64V384.01M434.67 359.06V386.94M435.61 358.23V384.52M436.55 357.82V383.63M437.5 357.97V384.19M438.44 357.86V384.23M439.38 357.83V384.75M440.32 358.1V384.26M441.26 358.55V384.4M442.21 358.67V384.55M443.15 358.3V385.37M444.09 358.12V384.63M445.03 358.06V382.71M445.98 358.43V383.44M446.92 358.71V384.71M447.86 359.05V384.07M448.81 358.99V384.25M449.75 359.02V383.68M450.69 359.28V384.65M451.63 359.06V385.12M452.57 358.53V385.18M453.52 358.26V383.89M454.46 358.99V386.73M455.4 359.7V385.24M456.35 359.61V388.5M457.29 359.5V386.13M458.23 359.39V385.51M459.17 359.15V384.25M460.12 359.14V381.85M461.06 359.52V384.96M462 359.82V385.6M462.94 359.57V387.13M463.88 359.45V383.63M464.83 359.69V387.25M465.77 359.9V385.25M466.71 359.61V385.95M467.65 360V383.01M468.6 360.33V386.08M469.54 359.95V385.22M470.48 360.3V386.63M471.43 360.61V386.33M472.37 360.27V384.73M473.31 360.19V386.81M474.25 360V386.36M475.19 359.76V386.03M476.14 359.51V386.21M477.08 360.03V386.83M478.02 360.17V385.83M478.97 360.09V384.38M479.91 360.4V384.68M480.85 360.04V387.14M481.79 360.25V386.71M482.74 360.62V386.46M483.68 360.87V386.17M484.62 361.3V387.09M485.56 361.29V387.09M486.5 361.12V386.56M487.45 360.94V386.01M488.39 360.95V388.99M489.33 361.19V387.25M490.27 360.95V386.16M491.22 360.94V385.45M492.16 361.1V386.21M493.1 361.22V387.85M494.04 361.39V388.08M494.99 361.28V386.96M495.93 361.05V387.03M496.87 361.42V387.04M497.81 361.23V386.04M498.76 360.95V388.28M499.7 361.82V388.2" stroke="#63be91" stroke-width="1.0" fill="none"/>
<path d="M283.38 465.71V471.33M288.09 461.83V469.25M292.8 456.04V465.15M297.51 452.28V462.43M302.22 445.49V457.46M306.94 439.96V452.14M311.65 435.95V449.64M316.36 431.23V445.68M321.07 424.67V438.49M325.79 420.31V433.13M330.5 415.22V429.06M335.21 410.25V422.88M339.93 405.24V418.68M344.64 400.63V414.68M349.35 395.04V409.82M354.06 390.04V405.23M358.77 385.62V402.18M363.49 379.77V399.26M368.2 375.68V396.25M372.91 370.15V394.82M377.62 365.26V390.17M382.34 360.3V385.18M387.05 356.73V383.83M391.76 354.77V382.81M396.47 355.2V382.19M401.19 355.61V383.21M405.9 355.58V383.35M410.61 355.85V383.16M415.32 356.5V384.14M420.04 355.93V384.87M424.75 355.56V383.53M429.46 356.65V384.49M434.18 357.64V385.01M438.89 356.86V385.23M443.6 357.3V386.37M448.31 358.05V385.07M453.02 357.53V386.18M457.74 358.5V387.13M462.45 358.82V386.6M467.16 358.61V386.95M471.88 359.61V387.33M476.59 358.51V387.21M481.3 359.04V388.14M486.01 360.29V388.09M490.72 359.95V387.16M495.44 360.28V387.96M500.15 360.82V389.2" stroke="#7cc6a1" stroke-width="0.7" fill="none"/>
<path d="M271.9 474.96h3.2M272.84 474.41h3.2M273.78 474.4h3.2M274.73 474.23h3.2M275.67 473.79h3.2M276.61 472.93h3.2M277.55 472.93h3.2M278.5 472.52h3.2M279.44 471.9h3.2M280.38 470.83h3.2M281.32 470.33h3.2M282.27 470.43h3.2M283.21 469.9h3.2M284.15 468.4h3.2M285.09 468.32h3.2M286.04 468.25h3.2M286.98 467.11h3.2M287.92 465.99h3.2M288.86 465.44h3.2M289.81 464.5h3.2M290.75 464.15h3.2M291.69 463.67h3.2M292.63 462.54h3.2M293.58 462.31h3.2M294.52 462.18h3.2M295.46 461.43h3.2M296.4 460.28h3.2M297.35 458.76h3.2M298.29 458.19h3.2M299.23 456.67h3.2M300.17 456.46h3.2M301.12 455.2h3.2M302.06 454.67h3.2M303 453.48h3.2M303.94 452.56h3.2M304.89 451.14h3.2M305.83 450.97h3.2M306.77 450.77h3.2M307.71 450.82h3.2M308.66 449.74h3.2M309.6 448.64h3.2M310.54 447.2h3.2M311.48 446.48h3.2M312.43 445.08h3.2M313.37 445.24h3.2M314.31 444.68h3.2M315.25 442.19h3.2M316.2 440.66h3.2M317.14 440.77h3.2M318.08 439.06h3.2M319.02 437.49h3.2M319.97 437.79h3.2M320.91 436.21h3.2M321.85 434.92h3.2M322.79 434.01h3.2M323.74 432.13h3.2M324.68 432.24h3.2M325.62 430.37h3.2M326.56 429.34h3.2M327.51 428.46h3.2M328.45 428.06h3.2M329.39 427.01h3.2M330.33 426.11h3.2M331.28 424.32h3.2M332.22 423.89h3.2M333.16 421.88h3.2M334.1 421.64h3.2M335.05 420.15h3.2M335.99 419.3h3.2M336.93 419.72h3.2M337.88 417.68h3.2M338.82 416.84h3.2M339.76 415.79h3.2M340.7 414.44h3.2M341.64 414.36h3.2M342.59 413.68h3.2M343.53 411.17h3.2M344.47 411.72h3.2M345.41 411.26h3.2M346.36 410.21h3.2M347.3 408.82h3.2M348.24 406.89h3.2M349.18 406.11h3.2M350.13 407.55h3.2M351.07 406.27h3.2M352.01 404.23h3.2M352.95 404.49h3.2M353.9 404.07h3.2M354.84 402.55h3.2M355.78 401.04h3.2M356.72 401.18h3.2M357.67 401.92h3.2M358.61 400.7h3.2M359.55 399.59h3.2M360.5 398.85h3.2M361.44 398.26h3.2M362.38 396.01h3.2M363.32 396.88h3.2M364.26 396.09h3.2M365.21 395.37h3.2M366.15 395.25h3.2M367.09 394.91h3.2M368.03 393.9h3.2M368.98 391.75h3.2M369.92 392.05h3.2M370.86 393.82h3.2M371.8 390.56h3.2M372.75 389.51h3.2M373.69 390.39h3.2M374.63 389.75h3.2M375.57 389.17h3.2M376.52 387.26h3.2M377.46 388.27h3.2M378.4 385.93h3.2M379.34 384.9h3.2M380.29 384.18h3.2M381.23 383.88h3.2M382.17 384.54h3.2M383.12 383.41h3.2M384.06 381.74h3.2M385 382.83h3.2M385.94 381.84h3.2M386.88 381.9h3.2M387.83 379.68h3.2M388.77 379.87h3.2M389.71 381.81h3.2M390.65 379.6h3.2M391.6 380.97h3.2M392.54 381.31h3.2M393.48 380.78h3.2M394.42 381.19h3.2M395.37 383h3.2M396.31 378.49h3.2M397.25 382.43h3.2M398.19 384.38h3.2M399.14 382.21h3.2M400.08 381.8h3.2M401.02 382.64h3.2M401.96 384.24h3.2M402.91 381.39h3.2M403.85 382.35h3.2M404.79 381.76h3.2M405.74 382.84h3.2M406.68 382.05h3.2M407.62 382.53h3.2M408.56 382.16h3.2M409.5 382.77h3.2M410.45 381.63h3.2M411.39 382.03h3.2M412.33 383.05h3.2M413.27 383.14h3.2M414.22 381.69h3.2M415.16 384.32h3.2M416.1 383.07h3.2M417.04 381.69h3.2M417.99 383.87h3.2M418.93 382.39h3.2M419.87 384.32h3.2M420.81 383.34h3.2M421.76 382.63h3.2M422.7 382.53h3.2M423.64 382.21h3.2M424.58 383.23h3.2M425.53 385.75h3.2M426.47 381.39h3.2M427.41 383.49h3.2M428.36 384h3.2M429.3 382.45h3.2M430.24 382.12h3.2M431.18 385.89h3.2M432.12 384.01h3.2M433.07 386.94h3.2M434.01 384.52h3.2M434.95 383.63h3.2M435.89 384.19h3.2M436.84 384.23h3.2M437.78 384.75h3.2M438.72 384.26h3.2M439.66 384.4h3.2M440.61 384.55h3.2M441.55 385.37h3.2M442.49 384.63h3.2M443.43 382.71h3.2M444.38 383.44h3.2M445.32 384.71h3.2M446.26 384.07h3.2M447.2 384.25h3.2M448.15 383.68h3.2M449.09 384.65h3.2M450.03 385.12h3.2M450.97 385.18h3.2M451.92 383.89h3.2M452.86 386.73h3.2M453.8 385.24h3.2M454.75 388.5h3.2M455.69 386.13h3.2M456.63 385.51h3.2M457.57 384.25h3.2M458.51 381.85h3.2M459.46 384.96h3.2M460.4 385.6h3.2M461.34 387.13h3.2M462.28 383.63h3.2M463.23 387.25h3.2M464.17 385.25h3.2M465.11 385.95h3.2M466.05 383.01h3.2M467 386.08h3.2M467.94 385.22h3.2M468.88 386.63h3.2M469.82 386.33h3.2M470.77 384.73h3.2M471.71 386.81h3.2M472.65 386.36h3.2M473.59 386.03h3.2M474.54 386.21h3.2M475.48 386.83h3.2M476.42 385.83h3.2M477.37 384.38h3.2M478.31 384.68h3.2M479.25 387.14h3.2M480.19 386.71h3.2M481.13 386.46h3.2M482.08 386.17h3.2M483.02 387.09h3.2M483.96 387.09h3.2M484.9 386.56h3.2M485.85 386.01h3.2M486.79 388.99h3.2M487.73 387.25h3.2M488.67 386.16h3.2M489.62 385.45h3.2M490.56 386.21h3.2M491.5 387.85h3.2M492.44 388.08h3.2M493.39 386.96h3.2M494.33 387.03h3.2M495.27 387.04h3.2M496.21 386.04h3.2M497.16 388.28h3.2M498.1 388.2h3.2" stroke="#2f9f68" stroke-width="1" fill="none"/>
<path d="M273.5,474.89 274.44,473.98 275.38,473.58 276.33,473.15 277.27,472.12 278.21,471.26 279.15,470.59 280.1,469.8 281.04,468.89 281.98,467.63 282.93,466.71 283.87,466.67 284.81,465.53 285.75,464.05 286.69,463.49 287.64,462.83 288.58,461.83 289.52,460.24 290.46,459.24 291.41,458.37 292.35,457.04 293.29,456.45 294.24,455.54 295.18,454.56 296.12,454.36 297.06,453.28 298,451.6 298.95,450.1 299.89,448.67 300.83,447.55 301.77,446.49 302.72,445.4 303.66,444.3 304.6,443.45 305.55,442.31 306.49,440.96 307.43,439.83 308.37,439.27 309.31,438.6 310.26,437.72 311.2,436.95 312.14,435.59 313.08,434.48 314.03,433.19 314.97,432.58 315.91,432.23 316.86,430.59 317.8,429 318.74,428.14 319.68,426.96 320.62,425.67 321.57,425.32 322.51,424.53 323.45,423.22 324.39,422.44 325.34,421.31 326.28,420.14 327.22,419.28 328.17,418 329.11,417.25 330.05,416.22 330.99,415.58 331.94,414.69 332.88,413.71 333.82,412.59 334.76,411.25 335.7,410.23 336.65,408.74 337.59,408.09 338.53,407.59 339.48,406.24 340.42,405.36 341.36,404.48 342.3,403.22 343.25,402.52 344.19,401.63 345.13,400.09 346.07,399.35 347.01,398.94 347.96,397.43 348.9,396.04 349.84,394.72 350.78,393.64 351.73,393.2 352.67,392.46 353.61,391.04 354.56,390 355.5,389.68 356.44,388.73 357.38,387.2 358.32,386.62 359.27,385.89 360.21,384.57 361.15,383.3 362.1,381.91 363.04,380.77 363.98,380.05 364.92,379.29 365.87,378.5 366.81,377.7 367.75,376.68 368.69,375.6 369.63,374.3 370.58,372.71 371.52,371.84 372.46,371.15 373.4,370.12 374.35,369.3 375.29,368.16 376.23,366.96 377.18,366.26 378.12,365.57 379.06,364.44 380,363.55 380.94,362.67 381.89,361.3 382.83,360.37 383.77,360.11 384.72,358.94 385.66,357.77 386.6,357.73 387.54,357.3 388.49,356.31 389.43,356.15 390.37,356.33 391.31,355.77 392.25,355.7 393.2,355.93 394.14,356.03 395.08,355.86 396.02,356.2 396.97,356.11 397.91,355.57 398.85,355.99 399.8,356.48 400.74,356.61 401.68,356.22 402.62,356.27 403.56,356.72 404.51,356.95 405.45,356.58 406.39,356.25 407.34,356.55 408.28,356.16 409.22,356.11 410.16,356.85 411.11,356.96 412.05,356.56 412.99,356.94 413.93,357.42 414.88,357.5 415.82,357.11 416.76,356.9 417.7,357.41 418.64,357.32 419.59,356.93 420.53,357.36 421.47,357.99 422.41,357.56 423.36,356.58 424.3,356.56 425.24,357.01 426.19,357.4 427.13,357.87 428.07,357.92 429.01,357.65 429.96,357.78 430.9,357.77 431.84,357.77 432.78,357.91 433.73,358.64 434.67,359.06 435.61,358.23 436.55,357.82 437.5,357.97 438.44,357.86 439.38,357.83 440.32,358.1 441.26,358.55 442.21,358.67 443.15,358.3 444.09,358.12 445.03,358.06 445.98,358.43 446.92,358.71 447.86,359.05 448.81,358.99 449.75,359.02 450.69,359.28 451.63,359.06 452.57,358.53 453.52,358.26 454.46,358.99 455.4,359.7 456.35,359.61 457.29,359.5 458.23,359.39 459.17,359.15 460.12,359.14 461.06,359.52 462,359.82 462.94,359.57 463.88,359.45 464.83,359.69 465.77,359.9 466.71,359.61 467.65,360 468.6,360.33 469.54,359.95 470.48,360.3 471.43,360.61 472.37,360.27 473.31,360.19 474.25,360 475.19,359.76 476.14,359.51 477.08,360.03 478.02,360.17 478.97,360.09 479.91,360.4 480.85,360.04 481.79,360.25 482.74,360.62 483.68,360.87 484.62,361.3 485.56,361.29 486.5,361.12 487.45,360.94 488.39,360.95 489.33,361.19 490.27,360.95 491.22,360.94 492.16,361.1 493.1,361.22 494.04,361.39 494.99,361.28 495.93,361.05 496.87,361.42 497.81,361.23 498.76,360.95 499.7,361.82" fill="none" stroke="#159a58" stroke-width="1.3" stroke-linejoin="round" stroke-opacity="1"/>
<line x1="273.5" y1="475.4" x2="273.5" y2="469.4" stroke="#444" stroke-width="1"/>
<line x1="311.2" y1="475.4" x2="311.2" y2="469.4" stroke="#444" stroke-width="1"/>
<line x1="348.9" y1="475.4" x2="348.9" y2="469.4" stroke="#444" stroke-width="1"/>
<line x1="386.6" y1="475.4" x2="386.6" y2="469.4" stroke="#444" stroke-width="1"/>
<line x1="424.3" y1="475.4" x2="424.3" y2="469.4" stroke="#444" stroke-width="1"/>
<line x1="462" y1="475.4" x2="462" y2="469.4" stroke="#444" stroke-width="1"/>
<line x1="499.7" y1="475.4" x2="499.7" y2="469.4" stroke="#444" stroke-width="1"/>
<path d="M273.3,475.5 500.5,475.5" fill="none" stroke="#1434ff" stroke-width="2.0" stroke-linejoin="round" stroke-opacity="1"/>
<path d="M273.5,475.22 274.44,471.71 275.38,470.4" fill="none" stroke="#f42b8f" stroke-width="2.4" stroke-linejoin="round" stroke-opacity="1"/>
<path d="M275.38,470.4 276.33,469.71 277.27,468.53 278.21,467.54 279.15,467.32 280.1,467.49 281.04,467.38 281.98,467.04 282.93,467.4 283.87,467.37 284.81,467.08 285.75,466.94 286.69,466.81 287.64,467.12 288.58,467.25 289.52,466.89 290.46,467.03 291.41,466.71 292.35,466.27 293.29,466.42 294.24,467.12 295.18,466.99 296.12,467.44 297.06,466.83 298,467.15 298.95,467.33 299.89,467.2 300.83,466.56 301.77,466.73 302.72,466.85 303.66,466.41 304.6,466.99 305.55,467.21 306.49,466.61 307.43,467.59 308.37,466.68 309.31,466.72 310.26,466.7 311.2,466.52 312.14,466.97 313.08,466.81 314.03,467.46 314.97,467.04 315.91,467.02 316.86,466.71 317.8,466.23 318.74,466.76 319.68,466.46 320.62,467.18 321.57,466.79 322.51,467.47 323.45,467.09 324.39,467.13 325.34,466.89 326.28,466.88 327.22,467.06 328.17,467.17 329.11,466.52 330.05,467 330.99,467.85 331.94,466.76 332.88,466.7 333.82,466.52 334.76,466.22 335.7,467.28 336.65,466.82 337.59,466.92 338.53,467.54 339.48,467.8 340.42,466.44 341.36,467.22 342.3,467.05 343.25,466.96 344.19,466.99 345.13,466.79 346.07,467.44 347.01,467.05 347.96,466.94 348.9,467.3 349.84,467.16 350.78,466.99 351.73,466.93 352.67,467.5 353.61,467 354.56,466.77 355.5,466.46 356.44,466.66 357.38,466.38 358.32,466.84 359.27,466.9 360.21,465.98 361.15,466.81 362.1,467.06 363.04,466.87 363.98,466.42 364.92,467.31 365.87,466.52 366.81,466.31 367.75,466.37 368.69,466.8 369.63,467.19 370.58,467.27 371.52,466.88 372.46,466.32 373.4,466.54 374.35,466.44 375.29,466.73 376.23,466.09 377.18,466.85 378.12,467.06 379.06,466.74 380,466.98 380.94,466.43 381.89,466.22 382.83,466.55 383.77,467.26 384.72,467.21 385.66,466.68 386.6,467.64 387.54,467.65 388.49,471.1 389.43,472.83 390.37,473.36 391.31,474.56 392.25,474.37" fill="none" stroke="#f42b8f" stroke-width="3.6" stroke-linejoin="round" stroke-opacity="1"/>
<path d="M390.37,473.36 391.31,474.56 392.25,474.37 393.2,474.43 394.14,474.23 395.08,474.91 396.02,474.79 396.97,474.79 397.91,474.66 398.85,475.41 399.8,474.67 400.74,474.55 401.68,475.34 402.62,475.42 403.56,474.99 404.51,474.16 405.45,474.62 406.39,475.11 407.34,474.87 408.28,475.49 409.22,474.33 410.16,475.15 411.11,474.63 412.05,475.42 412.99,474.86 413.93,475.31 414.88,474.64 415.82,474.34 416.76,474.46 417.7,474.66 418.64,474.5 419.59,475.39 420.53,475.45 421.47,475.03 422.41,474.51 423.36,474.88 424.3,474.65 425.24,475.51 426.19,475.06 427.13,475.13 428.07,474.78 429.01,474.13 429.96,474.63 430.9,474.5 431.84,475.09 432.78,474.99 433.73,474.63 434.67,474.8 435.61,475.58 436.55,474.57 437.5,474.59 438.44,474.87 439.38,474.68 440.32,474.79 441.26,475.18 442.21,475.66 443.15,474.26 444.09,474.96 445.03,474.99 445.98,474.94 446.92,474.9 447.86,474.84 448.81,475.38 449.75,474.79 450.69,474.93 451.63,474.98 452.57,475.02 453.52,474.91 454.46,475.38 455.4,474.98 456.35,475.05 457.29,474.96 458.23,474.58 459.17,474.65 460.12,474.57 461.06,475.07 462,474.7 462.94,474.57 463.88,475.09 464.83,475.2 465.77,474.29 466.71,475.67 467.65,475.01 468.6,474.95 469.54,475.42 470.48,475.02 471.43,474.75 472.37,475.87 473.31,474.57 474.25,474.96 475.19,475.34 476.14,474.57 477.08,474.96 478.02,475.15 478.97,475.96 479.91,474.64 480.85,474.98 481.79,475.26 482.74,475.03 483.68,474.52 484.62,475.16 485.56,475.04 486.5,475.18 487.45,475.45 488.39,475.4 489.33,475.16 490.27,475.12 491.22,474.56 492.16,474.95 493.1,475.09 494.04,474.84 494.99,475.04 495.93,474.67 496.87,475.61 497.81,475.86 498.76,474.84 499.7,475.16" fill="none" stroke="#f42b8f" stroke-width="1.6" stroke-linejoin="round" stroke-opacity="1"/>
<path d="M273.5,475.11 274.44,474.03 275.38,472.46 276.33,471.07 277.27,469.8 278.21,468.55 279.15,467.47 280.1,466.62 281.04,465.58 281.98,464.1 282.93,462.95 283.87,461.96 284.81,460.94 285.75,460.51 286.69,459.51 287.64,457.86 288.58,456.18 289.52,454.8 290.46,453.68 291.41,453.11 292.35,452.24 293.29,450.97 294.24,449.91 295.18,448.82 296.12,448.23 297.06,446.95 298,445.42 298.95,444.31 299.89,443.53 300.83,442.4 301.77,440.82 302.72,439.66 303.66,438.53 304.6,437.94 305.55,437.88 306.49,436.46 307.43,435.01 308.37,434.29 309.31,432.74 310.26,431.59 311.2,430.78 312.14,429.67 313.08,429.2 314.03,427.88 314.97,426.49 315.91,426.06 316.86,424.82 317.8,423.78 318.74,423.16 319.68,422.17 320.62,421.07 321.57,420.22 322.51,418.62 323.45,417.84 324.39,417.93 325.34,416.83 326.28,415.53 327.22,413.95 328.17,412.69 329.11,411.85 330.05,410.75 330.99,410.21 331.94,409.17 332.88,407.9 333.82,406.63 334.76,405.63 335.7,405.13 336.65,403.99 337.59,402.78 338.53,402.42 339.48,401.28 340.42,399.52 341.36,398.6 342.3,398.14 343.25,397.84 344.19,396.59 345.13,394.86 346.07,393.64 347.01,393.06 347.96,391.9 348.9,390.97 349.84,390.51 350.78,389.13 351.73,387.9 352.67,387.03 353.61,386.22 354.56,384.73 355.5,383.6 356.44,382.72 357.38,381.19 358.32,380.27 359.27,379.36 360.21,378.04 361.15,376.64 362.1,375.6 363.04,375.31 363.98,374.99 364.92,373.73 365.87,372.48 366.81,371.14 367.75,369.76 368.69,368.9 369.63,367.59 370.58,366.21 371.52,365.44 372.46,364.55 373.4,363.19 374.35,362.3 375.29,361.43 376.23,360.52 377.18,359.52 378.12,358.11 379.06,357.07 380,356.03 380.94,354.75 381.89,353.62 382.83,352.9 383.77,352.08 384.72,351.13 385.66,349.46 386.6,350.29 387.54,352.13 388.49,353.31 389.43,353.7 390.37,353.78 391.31,354.29 392.25,354.62 393.2,354.25 394.14,354.64 395.08,355.27 396.02,354.86 396.97,354.89 397.91,354.92 398.85,355.05 399.8,355.24 400.74,354.82 401.68,354.83 402.62,354.89 403.56,355.08 404.51,355.36 405.45,355.36 406.39,355.22 407.34,354.33 408.28,354.53 409.22,355 410.16,355.07 411.11,355.86 412.05,355.9 412.99,355.55 413.93,355.47 414.88,355.56 415.82,355.5 416.76,355.41 417.7,355.35 418.64,355.82 419.59,356.08 420.53,356.05 421.47,356.02 422.41,355.83 423.36,355.87 424.3,355.99 425.24,356.26 426.19,356.23 427.13,355.87 428.07,355.64 429.01,356.24 429.96,356.39 430.9,355.93 431.84,356.39 432.78,356.76 433.73,356.56 434.67,356.22 435.61,356.71 436.55,356.96 437.5,356.56 438.44,356.48 439.38,356.05 440.32,355.84 441.26,356.37 442.21,356.88 443.15,356.81 444.09,356.51 445.03,356.3 445.98,356.61 446.92,356.7 447.86,357.11 448.81,357.87 449.75,358.45 450.69,358.49 451.63,357.74 452.57,357.41 453.52,356.79 454.46,356.96 455.4,357.88 456.35,358.37 457.29,358.66 458.23,358.66 459.17,358.65 460.12,358.75 461.06,359.14 462,358.78 462.94,358.37 463.88,358.36 464.83,358.95 465.77,359.69 466.71,359.54 467.65,358.99 468.6,358.91 469.54,359.21 470.48,359.26 471.43,359.33 472.37,359.51 473.31,359.52 474.25,359.67 475.19,359.89 476.14,359.67 477.08,359.64 478.02,359.66 478.97,359.96 479.91,360.06 480.85,359.99 481.79,360.02 482.74,359.63 483.68,360.01 484.62,360.17 485.56,360.17 486.5,360.6 487.45,360.07 488.39,359.78 489.33,360.11 490.27,360.2 491.22,360.08 492.16,360.52 493.1,360.8 494.04,360.76 494.99,360.76 495.93,360.78 496.87,360.75 497.81,360.71 498.76,361.08 499.7,361.14" fill="none" stroke="#222" stroke-width="1.2" stroke-linejoin="round" stroke-opacity="1"/>
<text x="367.7" y="511.6" text-anchor="middle" font-size="15.5" stroke="#000" stroke-width="0.2" textLength="74" lengthAdjust="spacingAndGlyphs">Time [min]</text>
<text transform="translate(183.6,458.2) rotate(-90)" x="0" y="0" font-size="15.5" stroke="#000" stroke-width="0.2" textLength="146" lengthAdjust="spacingAndGlyphs">Concentrations [µM]</text>
<text x="168.8" y="280.9" font-size="17.5" stroke="#000" stroke-width="0.45" textLength="239.8" lengthAdjust="spacingAndGlyphs">c. Bopta in rats lacking Mrp2</text>
</svg>
</body></html>
